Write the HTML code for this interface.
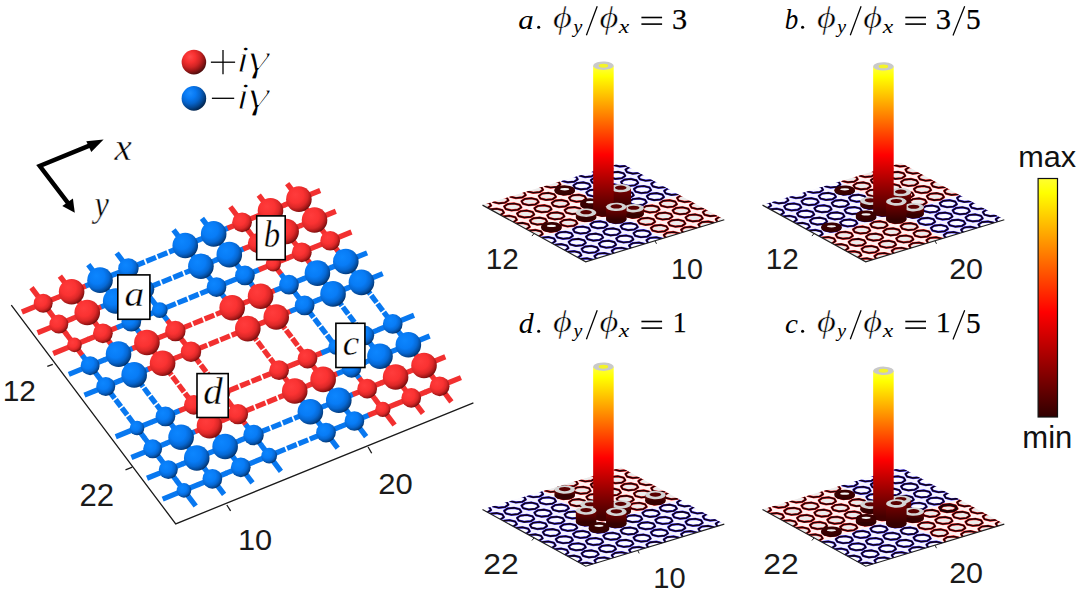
<!DOCTYPE html>
<html><head><meta charset="utf-8"><title>figure</title>
<style>html,body{margin:0;padding:0;background:#fff;}svg{display:block;font-family:"Liberation Sans",sans-serif;}</style>
</head><body><svg width="1077" height="596" viewBox="0 0 1077 596">
<defs>
<radialGradient id="gr" cx="0.38" cy="0.36" r="0.68" fx="0.36" fy="0.33">
<stop offset="0" stop-color="#ff3c3c"/><stop offset="0.45" stop-color="#fa3232"/><stop offset="0.7" stop-color="#dc2828"/><stop offset="0.87" stop-color="#a81818"/><stop offset="1" stop-color="#6a0c0c"/>
</radialGradient>
<radialGradient id="gb" cx="0.38" cy="0.36" r="0.68" fx="0.36" fy="0.33">
<stop offset="0" stop-color="#0c86ff"/><stop offset="0.45" stop-color="#087cf6"/><stop offset="0.7" stop-color="#0668d4"/><stop offset="0.87" stop-color="#044c9e"/><stop offset="1" stop-color="#022e64"/>
</radialGradient>
<radialGradient id="lgr" cx="0.36" cy="0.32" r="0.74" fx="0.34" fy="0.28">
<stop offset="0" stop-color="#ff4a4a"/><stop offset="0.3" stop-color="#f83030"/><stop offset="0.55" stop-color="#d02424"/><stop offset="0.75" stop-color="#981616"/><stop offset="0.9" stop-color="#601010"/><stop offset="1" stop-color="#400808"/>
</radialGradient>
<radialGradient id="lgb" cx="0.36" cy="0.32" r="0.74" fx="0.34" fy="0.28">
<stop offset="0" stop-color="#1a8cff"/><stop offset="0.3" stop-color="#087af4"/><stop offset="0.55" stop-color="#0664cc"/><stop offset="0.75" stop-color="#044894"/><stop offset="0.9" stop-color="#022e60"/><stop offset="1" stop-color="#011c40"/>
</radialGradient>
<linearGradient id="hot" x1="0" y1="0" x2="0" y2="1">
<stop offset="0" stop-color="#ffff40"/><stop offset="0.072" stop-color="#ffff00"/><stop offset="0.607" stop-color="#ff0000"/><stop offset="1" stop-color="#440000"/>
</linearGradient>
<linearGradient id="cbar" x1="0" y1="0" x2="0" y2="1">
<stop offset="0" stop-color="#ffff30"/><stop offset="0.06" stop-color="#ffff00"/><stop offset="0.56" stop-color="#ff0000"/><stop offset="1" stop-color="#300000"/>
</linearGradient>
<linearGradient id="cyl" x1="0" y1="0" x2="0" y2="1">
<stop offset="0" stop-color="#7a0000"/><stop offset="1" stop-color="#350000"/>
</linearGradient>
<linearGradient id="shade" x1="0" y1="0" x2="1" y2="0">
<stop offset="0" stop-color="#000" stop-opacity="0.10"/><stop offset="0.35" stop-color="#fff" stop-opacity="0.06"/><stop offset="1" stop-color="#000" stop-opacity="0.12"/>
</linearGradient>
</defs>

<g stroke-linecap="butt">
<line x1="43.20" y1="303.30" x2="57.69" y2="297.40" stroke="#f23030" stroke-width="5.3"/>
<line x1="43.20" y1="303.30" x2="21.89" y2="311.98" stroke="#f23030" stroke-width="5.3"/>
<line x1="43.20" y1="303.30" x2="51.18" y2="313.90" stroke="#f23030" stroke-width="5.3"/>
<line x1="43.20" y1="303.30" x2="31.47" y2="287.71" stroke="#f23030" stroke-width="5.3"/>
<line x1="71.61" y1="291.73" x2="86.10" y2="285.83" stroke="#f23030" stroke-width="5.3"/>
<line x1="71.61" y1="291.73" x2="57.12" y2="297.63" stroke="#f23030" stroke-width="5.3"/>
<line x1="71.61" y1="291.73" x2="79.59" y2="302.33" stroke="#f23030" stroke-width="5.3"/>
<line x1="71.61" y1="291.73" x2="59.88" y2="276.14" stroke="#f23030" stroke-width="5.3"/>
<line x1="100.02" y1="280.16" x2="114.51" y2="274.26" stroke="#0878f0" stroke-width="5.3"/>
<line x1="100.02" y1="280.16" x2="85.53" y2="286.06" stroke="#0878f0" stroke-width="5.3"/>
<line x1="100.02" y1="280.16" x2="108.00" y2="290.76" stroke="#0878f0" stroke-width="5.3"/>
<line x1="100.02" y1="280.16" x2="88.29" y2="264.57" stroke="#0878f0" stroke-width="5.3"/>
<line x1="128.43" y1="268.59" x2="144.62" y2="262.00" stroke="#0878f0" stroke-width="5.3"/>
<line x1="146.33" y1="261.30" x2="155.99" y2="257.37" stroke="#0878f0" stroke-width="5.3"/>
<line x1="128.43" y1="268.59" x2="113.94" y2="274.49" stroke="#0878f0" stroke-width="5.3"/>
<line x1="128.43" y1="268.59" x2="136.41" y2="279.19" stroke="#0878f0" stroke-width="5.3"/>
<line x1="128.43" y1="268.59" x2="116.70" y2="253.00" stroke="#0878f0" stroke-width="5.3"/>
<line x1="185.25" y1="245.45" x2="199.74" y2="239.55" stroke="#0878f0" stroke-width="5.3"/>
<line x1="185.25" y1="245.45" x2="169.06" y2="252.04" stroke="#0878f0" stroke-width="5.3"/>
<line x1="167.35" y1="252.74" x2="157.69" y2="256.67" stroke="#0878f0" stroke-width="5.3"/>
<line x1="185.25" y1="245.45" x2="193.23" y2="256.05" stroke="#0878f0" stroke-width="5.3"/>
<line x1="185.25" y1="245.45" x2="173.52" y2="229.86" stroke="#0878f0" stroke-width="5.3"/>
<line x1="213.66" y1="233.88" x2="228.15" y2="227.98" stroke="#0878f0" stroke-width="5.3"/>
<line x1="213.66" y1="233.88" x2="199.17" y2="239.78" stroke="#0878f0" stroke-width="5.3"/>
<line x1="213.66" y1="233.88" x2="221.64" y2="244.48" stroke="#0878f0" stroke-width="5.3"/>
<line x1="213.66" y1="233.88" x2="201.93" y2="218.29" stroke="#0878f0" stroke-width="5.3"/>
<line x1="242.07" y1="222.31" x2="256.56" y2="216.41" stroke="#f23030" stroke-width="5.3"/>
<line x1="242.07" y1="222.31" x2="227.58" y2="228.21" stroke="#f23030" stroke-width="5.3"/>
<line x1="242.07" y1="222.31" x2="250.05" y2="232.91" stroke="#f23030" stroke-width="5.3"/>
<line x1="242.07" y1="222.31" x2="230.34" y2="206.72" stroke="#f23030" stroke-width="5.3"/>
<line x1="270.48" y1="210.74" x2="284.97" y2="204.84" stroke="#f23030" stroke-width="5.3"/>
<line x1="270.48" y1="210.74" x2="255.99" y2="216.64" stroke="#f23030" stroke-width="5.3"/>
<line x1="270.48" y1="210.74" x2="278.46" y2="221.34" stroke="#f23030" stroke-width="5.3"/>
<line x1="270.48" y1="210.74" x2="258.75" y2="195.15" stroke="#f23030" stroke-width="5.3"/>
<line x1="298.89" y1="199.17" x2="320.20" y2="190.49" stroke="#f23030" stroke-width="5.3"/>
<line x1="298.89" y1="199.17" x2="284.40" y2="205.07" stroke="#f23030" stroke-width="5.3"/>
<line x1="298.89" y1="199.17" x2="306.87" y2="209.77" stroke="#f23030" stroke-width="5.3"/>
<line x1="298.89" y1="199.17" x2="287.16" y2="183.58" stroke="#f23030" stroke-width="5.3"/>
<line x1="58.84" y1="324.09" x2="73.33" y2="318.19" stroke="#f23030" stroke-width="5.3"/>
<line x1="58.84" y1="324.09" x2="37.53" y2="332.77" stroke="#f23030" stroke-width="5.3"/>
<line x1="58.84" y1="324.09" x2="66.82" y2="334.69" stroke="#f23030" stroke-width="5.3"/>
<line x1="58.84" y1="324.09" x2="50.86" y2="313.49" stroke="#f23030" stroke-width="5.3"/>
<line x1="87.25" y1="312.52" x2="101.74" y2="306.62" stroke="#f23030" stroke-width="5.3"/>
<line x1="87.25" y1="312.52" x2="72.76" y2="318.42" stroke="#f23030" stroke-width="5.3"/>
<line x1="87.25" y1="312.52" x2="95.23" y2="323.12" stroke="#f23030" stroke-width="5.3"/>
<line x1="87.25" y1="312.52" x2="79.27" y2="301.92" stroke="#f23030" stroke-width="5.3"/>
<line x1="115.66" y1="300.95" x2="130.15" y2="295.05" stroke="#0878f0" stroke-width="5.3"/>
<line x1="115.66" y1="300.95" x2="101.17" y2="306.85" stroke="#0878f0" stroke-width="5.3"/>
<line x1="115.66" y1="300.95" x2="123.64" y2="311.55" stroke="#0878f0" stroke-width="5.3"/>
<line x1="115.66" y1="300.95" x2="107.68" y2="290.35" stroke="#0878f0" stroke-width="5.3"/>
<line x1="144.07" y1="289.38" x2="160.26" y2="282.79" stroke="#0878f0" stroke-width="5.3"/>
<line x1="161.97" y1="282.09" x2="171.63" y2="278.16" stroke="#0878f0" stroke-width="5.3"/>
<line x1="144.07" y1="289.38" x2="129.58" y2="295.28" stroke="#0878f0" stroke-width="5.3"/>
<line x1="144.07" y1="289.38" x2="152.05" y2="299.98" stroke="#0878f0" stroke-width="5.3"/>
<line x1="144.07" y1="289.38" x2="136.09" y2="278.78" stroke="#0878f0" stroke-width="5.3"/>
<line x1="200.89" y1="266.24" x2="215.38" y2="260.34" stroke="#0878f0" stroke-width="5.3"/>
<line x1="200.89" y1="266.24" x2="184.70" y2="272.83" stroke="#0878f0" stroke-width="5.3"/>
<line x1="182.99" y1="273.53" x2="173.33" y2="277.46" stroke="#0878f0" stroke-width="5.3"/>
<line x1="200.89" y1="266.24" x2="208.87" y2="276.84" stroke="#0878f0" stroke-width="5.3"/>
<line x1="200.89" y1="266.24" x2="192.91" y2="255.64" stroke="#0878f0" stroke-width="5.3"/>
<line x1="229.30" y1="254.67" x2="243.79" y2="248.77" stroke="#0878f0" stroke-width="5.3"/>
<line x1="229.30" y1="254.67" x2="214.81" y2="260.57" stroke="#0878f0" stroke-width="5.3"/>
<line x1="229.30" y1="254.67" x2="237.28" y2="265.27" stroke="#0878f0" stroke-width="5.3"/>
<line x1="229.30" y1="254.67" x2="221.32" y2="244.07" stroke="#0878f0" stroke-width="5.3"/>
<line x1="257.71" y1="243.10" x2="272.20" y2="237.20" stroke="#f23030" stroke-width="5.3"/>
<line x1="257.71" y1="243.10" x2="243.22" y2="249.00" stroke="#f23030" stroke-width="5.3"/>
<line x1="257.71" y1="243.10" x2="265.69" y2="253.70" stroke="#f23030" stroke-width="5.3"/>
<line x1="257.71" y1="243.10" x2="249.73" y2="232.50" stroke="#f23030" stroke-width="5.3"/>
<line x1="286.12" y1="231.53" x2="300.61" y2="225.63" stroke="#f23030" stroke-width="5.3"/>
<line x1="286.12" y1="231.53" x2="271.63" y2="237.43" stroke="#f23030" stroke-width="5.3"/>
<line x1="286.12" y1="231.53" x2="294.10" y2="242.13" stroke="#f23030" stroke-width="5.3"/>
<line x1="286.12" y1="231.53" x2="278.14" y2="220.93" stroke="#f23030" stroke-width="5.3"/>
<line x1="314.53" y1="219.96" x2="335.84" y2="211.28" stroke="#f23030" stroke-width="5.3"/>
<line x1="314.53" y1="219.96" x2="300.04" y2="225.86" stroke="#f23030" stroke-width="5.3"/>
<line x1="314.53" y1="219.96" x2="322.51" y2="230.56" stroke="#f23030" stroke-width="5.3"/>
<line x1="314.53" y1="219.96" x2="306.55" y2="209.36" stroke="#f23030" stroke-width="5.3"/>
<line x1="74.48" y1="344.88" x2="88.97" y2="338.98" stroke="#f23030" stroke-width="5.3"/>
<line x1="74.48" y1="344.88" x2="53.17" y2="353.56" stroke="#f23030" stroke-width="5.3"/>
<line x1="74.48" y1="344.88" x2="82.46" y2="355.48" stroke="#f23030" stroke-width="5.3"/>
<line x1="74.48" y1="344.88" x2="66.50" y2="334.28" stroke="#f23030" stroke-width="5.3"/>
<line x1="102.89" y1="333.31" x2="117.38" y2="327.41" stroke="#f23030" stroke-width="5.3"/>
<line x1="102.89" y1="333.31" x2="88.40" y2="339.21" stroke="#f23030" stroke-width="5.3"/>
<line x1="102.89" y1="333.31" x2="110.87" y2="343.91" stroke="#f23030" stroke-width="5.3"/>
<line x1="102.89" y1="333.31" x2="94.91" y2="322.71" stroke="#f23030" stroke-width="5.3"/>
<line x1="131.30" y1="321.74" x2="145.79" y2="315.84" stroke="#0878f0" stroke-width="5.3"/>
<line x1="131.30" y1="321.74" x2="116.81" y2="327.64" stroke="#0878f0" stroke-width="5.3"/>
<line x1="131.30" y1="321.74" x2="139.28" y2="332.34" stroke="#0878f0" stroke-width="5.3"/>
<line x1="131.30" y1="321.74" x2="123.32" y2="311.14" stroke="#0878f0" stroke-width="5.3"/>
<line x1="159.71" y1="310.17" x2="175.90" y2="303.58" stroke="#0878f0" stroke-width="5.3"/>
<line x1="177.61" y1="302.88" x2="187.27" y2="298.95" stroke="#0878f0" stroke-width="5.3"/>
<line x1="159.71" y1="310.17" x2="145.22" y2="316.07" stroke="#0878f0" stroke-width="5.3"/>
<line x1="159.71" y1="310.17" x2="167.69" y2="320.77" stroke="#0878f0" stroke-width="5.3"/>
<line x1="159.71" y1="310.17" x2="151.73" y2="299.57" stroke="#0878f0" stroke-width="5.3"/>
<line x1="216.53" y1="287.03" x2="231.02" y2="281.13" stroke="#0878f0" stroke-width="5.3"/>
<line x1="216.53" y1="287.03" x2="200.34" y2="293.62" stroke="#0878f0" stroke-width="5.3"/>
<line x1="198.63" y1="294.32" x2="188.97" y2="298.25" stroke="#0878f0" stroke-width="5.3"/>
<line x1="216.53" y1="287.03" x2="224.51" y2="297.63" stroke="#0878f0" stroke-width="5.3"/>
<line x1="216.53" y1="287.03" x2="208.55" y2="276.43" stroke="#0878f0" stroke-width="5.3"/>
<line x1="244.94" y1="275.46" x2="259.43" y2="269.56" stroke="#0878f0" stroke-width="5.3"/>
<line x1="244.94" y1="275.46" x2="230.45" y2="281.36" stroke="#0878f0" stroke-width="5.3"/>
<line x1="244.94" y1="275.46" x2="252.92" y2="286.06" stroke="#0878f0" stroke-width="5.3"/>
<line x1="244.94" y1="275.46" x2="236.96" y2="264.86" stroke="#0878f0" stroke-width="5.3"/>
<line x1="273.35" y1="263.89" x2="287.84" y2="257.99" stroke="#f23030" stroke-width="5.3"/>
<line x1="273.35" y1="263.89" x2="258.86" y2="269.79" stroke="#f23030" stroke-width="5.3"/>
<line x1="273.35" y1="263.89" x2="281.33" y2="274.49" stroke="#f23030" stroke-width="5.3"/>
<line x1="273.35" y1="263.89" x2="265.37" y2="253.29" stroke="#f23030" stroke-width="5.3"/>
<line x1="301.76" y1="252.32" x2="316.25" y2="246.42" stroke="#f23030" stroke-width="5.3"/>
<line x1="301.76" y1="252.32" x2="287.27" y2="258.22" stroke="#f23030" stroke-width="5.3"/>
<line x1="301.76" y1="252.32" x2="309.74" y2="262.92" stroke="#f23030" stroke-width="5.3"/>
<line x1="301.76" y1="252.32" x2="293.78" y2="241.72" stroke="#f23030" stroke-width="5.3"/>
<line x1="330.17" y1="240.75" x2="351.48" y2="232.07" stroke="#f23030" stroke-width="5.3"/>
<line x1="330.17" y1="240.75" x2="315.68" y2="246.65" stroke="#f23030" stroke-width="5.3"/>
<line x1="330.17" y1="240.75" x2="338.15" y2="251.35" stroke="#f23030" stroke-width="5.3"/>
<line x1="330.17" y1="240.75" x2="322.19" y2="230.15" stroke="#f23030" stroke-width="5.3"/>
<line x1="90.12" y1="365.67" x2="104.61" y2="359.77" stroke="#0878f0" stroke-width="5.3"/>
<line x1="90.12" y1="365.67" x2="68.81" y2="374.35" stroke="#0878f0" stroke-width="5.3"/>
<line x1="90.12" y1="365.67" x2="98.10" y2="376.27" stroke="#0878f0" stroke-width="5.3"/>
<line x1="90.12" y1="365.67" x2="82.14" y2="355.07" stroke="#0878f0" stroke-width="5.3"/>
<line x1="118.53" y1="354.10" x2="133.02" y2="348.20" stroke="#0878f0" stroke-width="5.3"/>
<line x1="118.53" y1="354.10" x2="104.04" y2="360.00" stroke="#0878f0" stroke-width="5.3"/>
<line x1="118.53" y1="354.10" x2="126.51" y2="364.70" stroke="#0878f0" stroke-width="5.3"/>
<line x1="118.53" y1="354.10" x2="110.55" y2="343.50" stroke="#0878f0" stroke-width="5.3"/>
<line x1="146.94" y1="342.53" x2="161.43" y2="336.63" stroke="#f23030" stroke-width="5.3"/>
<line x1="146.94" y1="342.53" x2="132.45" y2="348.43" stroke="#f23030" stroke-width="5.3"/>
<line x1="146.94" y1="342.53" x2="154.92" y2="353.13" stroke="#f23030" stroke-width="5.3"/>
<line x1="146.94" y1="342.53" x2="138.96" y2="331.93" stroke="#f23030" stroke-width="5.3"/>
<line x1="175.35" y1="330.96" x2="191.54" y2="324.37" stroke="#f23030" stroke-width="5.3"/>
<line x1="193.25" y1="323.67" x2="202.91" y2="319.74" stroke="#f23030" stroke-width="5.3"/>
<line x1="175.35" y1="330.96" x2="160.86" y2="336.86" stroke="#f23030" stroke-width="5.3"/>
<line x1="175.35" y1="330.96" x2="183.33" y2="341.56" stroke="#f23030" stroke-width="5.3"/>
<line x1="175.35" y1="330.96" x2="167.37" y2="320.36" stroke="#f23030" stroke-width="5.3"/>
<line x1="232.17" y1="307.82" x2="246.66" y2="301.92" stroke="#f23030" stroke-width="5.3"/>
<line x1="232.17" y1="307.82" x2="215.98" y2="314.41" stroke="#f23030" stroke-width="5.3"/>
<line x1="214.27" y1="315.11" x2="204.61" y2="319.04" stroke="#f23030" stroke-width="5.3"/>
<line x1="232.17" y1="307.82" x2="240.15" y2="318.42" stroke="#f23030" stroke-width="5.3"/>
<line x1="232.17" y1="307.82" x2="224.19" y2="297.22" stroke="#f23030" stroke-width="5.3"/>
<line x1="260.58" y1="296.25" x2="275.07" y2="290.35" stroke="#f23030" stroke-width="5.3"/>
<line x1="260.58" y1="296.25" x2="246.09" y2="302.15" stroke="#f23030" stroke-width="5.3"/>
<line x1="260.58" y1="296.25" x2="268.56" y2="306.85" stroke="#f23030" stroke-width="5.3"/>
<line x1="260.58" y1="296.25" x2="252.60" y2="285.65" stroke="#f23030" stroke-width="5.3"/>
<line x1="288.99" y1="284.68" x2="303.48" y2="278.78" stroke="#0878f0" stroke-width="5.3"/>
<line x1="288.99" y1="284.68" x2="274.50" y2="290.58" stroke="#0878f0" stroke-width="5.3"/>
<line x1="288.99" y1="284.68" x2="296.97" y2="295.28" stroke="#0878f0" stroke-width="5.3"/>
<line x1="288.99" y1="284.68" x2="281.01" y2="274.08" stroke="#0878f0" stroke-width="5.3"/>
<line x1="317.40" y1="273.11" x2="331.89" y2="267.21" stroke="#0878f0" stroke-width="5.3"/>
<line x1="317.40" y1="273.11" x2="302.91" y2="279.01" stroke="#0878f0" stroke-width="5.3"/>
<line x1="317.40" y1="273.11" x2="325.38" y2="283.71" stroke="#0878f0" stroke-width="5.3"/>
<line x1="317.40" y1="273.11" x2="309.42" y2="262.51" stroke="#0878f0" stroke-width="5.3"/>
<line x1="345.81" y1="261.54" x2="367.12" y2="252.86" stroke="#0878f0" stroke-width="5.3"/>
<line x1="345.81" y1="261.54" x2="331.32" y2="267.44" stroke="#0878f0" stroke-width="5.3"/>
<line x1="345.81" y1="261.54" x2="353.79" y2="272.14" stroke="#0878f0" stroke-width="5.3"/>
<line x1="345.81" y1="261.54" x2="337.83" y2="250.94" stroke="#0878f0" stroke-width="5.3"/>
<line x1="105.76" y1="386.46" x2="120.25" y2="380.56" stroke="#0878f0" stroke-width="5.3"/>
<line x1="105.76" y1="386.46" x2="84.45" y2="395.14" stroke="#0878f0" stroke-width="5.3"/>
<line x1="105.76" y1="386.46" x2="114.67" y2="398.31" stroke="#0878f0" stroke-width="5.3"/>
<line x1="115.61" y1="399.56" x2="120.93" y2="406.63" stroke="#0878f0" stroke-width="5.3"/>
<line x1="105.76" y1="386.46" x2="97.78" y2="375.86" stroke="#0878f0" stroke-width="5.3"/>
<line x1="134.17" y1="374.89" x2="148.66" y2="368.99" stroke="#0878f0" stroke-width="5.3"/>
<line x1="134.17" y1="374.89" x2="119.68" y2="380.79" stroke="#0878f0" stroke-width="5.3"/>
<line x1="134.17" y1="374.89" x2="143.08" y2="386.74" stroke="#0878f0" stroke-width="5.3"/>
<line x1="144.02" y1="387.99" x2="149.34" y2="395.06" stroke="#0878f0" stroke-width="5.3"/>
<line x1="134.17" y1="374.89" x2="126.19" y2="364.29" stroke="#0878f0" stroke-width="5.3"/>
<line x1="162.58" y1="363.32" x2="177.07" y2="357.42" stroke="#f23030" stroke-width="5.3"/>
<line x1="162.58" y1="363.32" x2="148.09" y2="369.22" stroke="#f23030" stroke-width="5.3"/>
<line x1="162.58" y1="363.32" x2="171.49" y2="375.17" stroke="#f23030" stroke-width="5.3"/>
<line x1="172.43" y1="376.42" x2="177.75" y2="383.49" stroke="#f23030" stroke-width="5.3"/>
<line x1="162.58" y1="363.32" x2="154.60" y2="352.72" stroke="#f23030" stroke-width="5.3"/>
<line x1="190.99" y1="351.75" x2="207.18" y2="345.16" stroke="#f23030" stroke-width="5.3"/>
<line x1="208.89" y1="344.46" x2="218.55" y2="340.53" stroke="#f23030" stroke-width="5.3"/>
<line x1="190.99" y1="351.75" x2="176.50" y2="357.65" stroke="#f23030" stroke-width="5.3"/>
<line x1="190.99" y1="351.75" x2="199.90" y2="363.60" stroke="#f23030" stroke-width="5.3"/>
<line x1="200.84" y1="364.85" x2="206.16" y2="371.92" stroke="#f23030" stroke-width="5.3"/>
<line x1="190.99" y1="351.75" x2="183.01" y2="341.15" stroke="#f23030" stroke-width="5.3"/>
<line x1="247.81" y1="328.61" x2="262.30" y2="322.71" stroke="#f23030" stroke-width="5.3"/>
<line x1="247.81" y1="328.61" x2="231.62" y2="335.20" stroke="#f23030" stroke-width="5.3"/>
<line x1="229.91" y1="335.90" x2="220.25" y2="339.83" stroke="#f23030" stroke-width="5.3"/>
<line x1="247.81" y1="328.61" x2="256.72" y2="340.46" stroke="#f23030" stroke-width="5.3"/>
<line x1="257.66" y1="341.71" x2="262.98" y2="348.78" stroke="#f23030" stroke-width="5.3"/>
<line x1="247.81" y1="328.61" x2="239.83" y2="318.01" stroke="#f23030" stroke-width="5.3"/>
<line x1="276.22" y1="317.04" x2="290.71" y2="311.14" stroke="#f23030" stroke-width="5.3"/>
<line x1="276.22" y1="317.04" x2="261.73" y2="322.94" stroke="#f23030" stroke-width="5.3"/>
<line x1="276.22" y1="317.04" x2="285.13" y2="328.89" stroke="#f23030" stroke-width="5.3"/>
<line x1="286.07" y1="330.14" x2="291.39" y2="337.21" stroke="#f23030" stroke-width="5.3"/>
<line x1="276.22" y1="317.04" x2="268.24" y2="306.44" stroke="#f23030" stroke-width="5.3"/>
<line x1="304.63" y1="305.47" x2="319.12" y2="299.57" stroke="#0878f0" stroke-width="5.3"/>
<line x1="304.63" y1="305.47" x2="290.14" y2="311.37" stroke="#0878f0" stroke-width="5.3"/>
<line x1="304.63" y1="305.47" x2="313.54" y2="317.32" stroke="#0878f0" stroke-width="5.3"/>
<line x1="314.48" y1="318.57" x2="319.80" y2="325.64" stroke="#0878f0" stroke-width="5.3"/>
<line x1="304.63" y1="305.47" x2="296.65" y2="294.87" stroke="#0878f0" stroke-width="5.3"/>
<line x1="333.04" y1="293.90" x2="347.53" y2="288.00" stroke="#0878f0" stroke-width="5.3"/>
<line x1="333.04" y1="293.90" x2="318.55" y2="299.80" stroke="#0878f0" stroke-width="5.3"/>
<line x1="333.04" y1="293.90" x2="341.95" y2="305.75" stroke="#0878f0" stroke-width="5.3"/>
<line x1="342.89" y1="307.00" x2="348.21" y2="314.07" stroke="#0878f0" stroke-width="5.3"/>
<line x1="333.04" y1="293.90" x2="325.06" y2="283.30" stroke="#0878f0" stroke-width="5.3"/>
<line x1="361.45" y1="282.33" x2="382.76" y2="273.65" stroke="#0878f0" stroke-width="5.3"/>
<line x1="361.45" y1="282.33" x2="346.96" y2="288.23" stroke="#0878f0" stroke-width="5.3"/>
<line x1="361.45" y1="282.33" x2="370.36" y2="294.18" stroke="#0878f0" stroke-width="5.3"/>
<line x1="371.30" y1="295.43" x2="376.62" y2="302.50" stroke="#0878f0" stroke-width="5.3"/>
<line x1="361.45" y1="282.33" x2="353.47" y2="271.73" stroke="#0878f0" stroke-width="5.3"/>
<line x1="137.04" y1="428.04" x2="151.53" y2="422.14" stroke="#0878f0" stroke-width="5.3"/>
<line x1="137.04" y1="428.04" x2="115.73" y2="436.72" stroke="#0878f0" stroke-width="5.3"/>
<line x1="137.04" y1="428.04" x2="145.02" y2="438.64" stroke="#0878f0" stroke-width="5.3"/>
<line x1="137.04" y1="428.04" x2="128.13" y2="416.19" stroke="#0878f0" stroke-width="5.3"/>
<line x1="127.19" y1="414.94" x2="121.87" y2="407.87" stroke="#0878f0" stroke-width="5.3"/>
<line x1="165.45" y1="416.47" x2="179.94" y2="410.57" stroke="#0878f0" stroke-width="5.3"/>
<line x1="165.45" y1="416.47" x2="150.96" y2="422.37" stroke="#0878f0" stroke-width="5.3"/>
<line x1="165.45" y1="416.47" x2="173.43" y2="427.07" stroke="#0878f0" stroke-width="5.3"/>
<line x1="165.45" y1="416.47" x2="156.54" y2="404.62" stroke="#0878f0" stroke-width="5.3"/>
<line x1="155.60" y1="403.37" x2="150.28" y2="396.30" stroke="#0878f0" stroke-width="5.3"/>
<line x1="193.86" y1="404.90" x2="208.35" y2="399.00" stroke="#f23030" stroke-width="5.3"/>
<line x1="193.86" y1="404.90" x2="179.37" y2="410.80" stroke="#f23030" stroke-width="5.3"/>
<line x1="193.86" y1="404.90" x2="201.84" y2="415.50" stroke="#f23030" stroke-width="5.3"/>
<line x1="193.86" y1="404.90" x2="184.95" y2="393.05" stroke="#f23030" stroke-width="5.3"/>
<line x1="184.01" y1="391.80" x2="178.69" y2="384.73" stroke="#f23030" stroke-width="5.3"/>
<line x1="222.27" y1="393.33" x2="238.46" y2="386.74" stroke="#f23030" stroke-width="5.3"/>
<line x1="240.17" y1="386.04" x2="249.83" y2="382.11" stroke="#f23030" stroke-width="5.3"/>
<line x1="222.27" y1="393.33" x2="207.78" y2="399.23" stroke="#f23030" stroke-width="5.3"/>
<line x1="222.27" y1="393.33" x2="230.25" y2="403.93" stroke="#f23030" stroke-width="5.3"/>
<line x1="222.27" y1="393.33" x2="213.36" y2="381.48" stroke="#f23030" stroke-width="5.3"/>
<line x1="212.42" y1="380.23" x2="207.10" y2="373.16" stroke="#f23030" stroke-width="5.3"/>
<line x1="279.09" y1="370.19" x2="293.58" y2="364.29" stroke="#f23030" stroke-width="5.3"/>
<line x1="279.09" y1="370.19" x2="262.90" y2="376.78" stroke="#f23030" stroke-width="5.3"/>
<line x1="261.19" y1="377.48" x2="251.53" y2="381.41" stroke="#f23030" stroke-width="5.3"/>
<line x1="279.09" y1="370.19" x2="287.07" y2="380.79" stroke="#f23030" stroke-width="5.3"/>
<line x1="279.09" y1="370.19" x2="270.18" y2="358.34" stroke="#f23030" stroke-width="5.3"/>
<line x1="269.24" y1="357.09" x2="263.92" y2="350.02" stroke="#f23030" stroke-width="5.3"/>
<line x1="307.50" y1="358.62" x2="321.99" y2="352.72" stroke="#f23030" stroke-width="5.3"/>
<line x1="307.50" y1="358.62" x2="293.01" y2="364.52" stroke="#f23030" stroke-width="5.3"/>
<line x1="307.50" y1="358.62" x2="315.48" y2="369.22" stroke="#f23030" stroke-width="5.3"/>
<line x1="307.50" y1="358.62" x2="298.59" y2="346.77" stroke="#f23030" stroke-width="5.3"/>
<line x1="297.65" y1="345.52" x2="292.33" y2="338.45" stroke="#f23030" stroke-width="5.3"/>
<line x1="335.91" y1="347.05" x2="350.40" y2="341.15" stroke="#0878f0" stroke-width="5.3"/>
<line x1="335.91" y1="347.05" x2="321.42" y2="352.95" stroke="#0878f0" stroke-width="5.3"/>
<line x1="335.91" y1="347.05" x2="343.89" y2="357.65" stroke="#0878f0" stroke-width="5.3"/>
<line x1="335.91" y1="347.05" x2="327.00" y2="335.20" stroke="#0878f0" stroke-width="5.3"/>
<line x1="326.06" y1="333.95" x2="320.74" y2="326.88" stroke="#0878f0" stroke-width="5.3"/>
<line x1="364.32" y1="335.48" x2="378.81" y2="329.58" stroke="#0878f0" stroke-width="5.3"/>
<line x1="364.32" y1="335.48" x2="349.83" y2="341.38" stroke="#0878f0" stroke-width="5.3"/>
<line x1="364.32" y1="335.48" x2="372.30" y2="346.08" stroke="#0878f0" stroke-width="5.3"/>
<line x1="364.32" y1="335.48" x2="355.41" y2="323.63" stroke="#0878f0" stroke-width="5.3"/>
<line x1="354.47" y1="322.38" x2="349.15" y2="315.31" stroke="#0878f0" stroke-width="5.3"/>
<line x1="392.73" y1="323.91" x2="414.04" y2="315.23" stroke="#0878f0" stroke-width="5.3"/>
<line x1="392.73" y1="323.91" x2="378.24" y2="329.81" stroke="#0878f0" stroke-width="5.3"/>
<line x1="392.73" y1="323.91" x2="400.71" y2="334.51" stroke="#0878f0" stroke-width="5.3"/>
<line x1="392.73" y1="323.91" x2="383.82" y2="312.06" stroke="#0878f0" stroke-width="5.3"/>
<line x1="382.88" y1="310.81" x2="377.56" y2="303.74" stroke="#0878f0" stroke-width="5.3"/>
<line x1="152.68" y1="448.83" x2="167.17" y2="442.93" stroke="#0878f0" stroke-width="5.3"/>
<line x1="152.68" y1="448.83" x2="131.37" y2="457.51" stroke="#0878f0" stroke-width="5.3"/>
<line x1="152.68" y1="448.83" x2="160.66" y2="459.43" stroke="#0878f0" stroke-width="5.3"/>
<line x1="152.68" y1="448.83" x2="144.70" y2="438.23" stroke="#0878f0" stroke-width="5.3"/>
<line x1="181.09" y1="437.26" x2="195.58" y2="431.36" stroke="#0878f0" stroke-width="5.3"/>
<line x1="181.09" y1="437.26" x2="166.60" y2="443.16" stroke="#0878f0" stroke-width="5.3"/>
<line x1="181.09" y1="437.26" x2="189.07" y2="447.86" stroke="#0878f0" stroke-width="5.3"/>
<line x1="181.09" y1="437.26" x2="173.11" y2="426.66" stroke="#0878f0" stroke-width="5.3"/>
<line x1="209.50" y1="425.69" x2="223.99" y2="419.79" stroke="#f23030" stroke-width="5.3"/>
<line x1="209.50" y1="425.69" x2="195.01" y2="431.59" stroke="#f23030" stroke-width="5.3"/>
<line x1="209.50" y1="425.69" x2="217.48" y2="436.29" stroke="#f23030" stroke-width="5.3"/>
<line x1="209.50" y1="425.69" x2="201.52" y2="415.09" stroke="#f23030" stroke-width="5.3"/>
<line x1="237.91" y1="414.12" x2="254.10" y2="407.53" stroke="#f23030" stroke-width="5.3"/>
<line x1="255.81" y1="406.83" x2="265.47" y2="402.90" stroke="#f23030" stroke-width="5.3"/>
<line x1="237.91" y1="414.12" x2="223.42" y2="420.02" stroke="#f23030" stroke-width="5.3"/>
<line x1="237.91" y1="414.12" x2="245.89" y2="424.72" stroke="#f23030" stroke-width="5.3"/>
<line x1="237.91" y1="414.12" x2="229.93" y2="403.52" stroke="#f23030" stroke-width="5.3"/>
<line x1="294.73" y1="390.98" x2="309.22" y2="385.08" stroke="#f23030" stroke-width="5.3"/>
<line x1="294.73" y1="390.98" x2="278.54" y2="397.57" stroke="#f23030" stroke-width="5.3"/>
<line x1="276.83" y1="398.27" x2="267.17" y2="402.20" stroke="#f23030" stroke-width="5.3"/>
<line x1="294.73" y1="390.98" x2="302.71" y2="401.58" stroke="#f23030" stroke-width="5.3"/>
<line x1="294.73" y1="390.98" x2="286.75" y2="380.38" stroke="#f23030" stroke-width="5.3"/>
<line x1="323.14" y1="379.41" x2="337.63" y2="373.51" stroke="#f23030" stroke-width="5.3"/>
<line x1="323.14" y1="379.41" x2="308.65" y2="385.31" stroke="#f23030" stroke-width="5.3"/>
<line x1="323.14" y1="379.41" x2="331.12" y2="390.01" stroke="#f23030" stroke-width="5.3"/>
<line x1="323.14" y1="379.41" x2="315.16" y2="368.81" stroke="#f23030" stroke-width="5.3"/>
<line x1="351.55" y1="367.84" x2="366.04" y2="361.94" stroke="#0878f0" stroke-width="5.3"/>
<line x1="351.55" y1="367.84" x2="337.06" y2="373.74" stroke="#0878f0" stroke-width="5.3"/>
<line x1="351.55" y1="367.84" x2="359.53" y2="378.44" stroke="#0878f0" stroke-width="5.3"/>
<line x1="351.55" y1="367.84" x2="343.57" y2="357.24" stroke="#0878f0" stroke-width="5.3"/>
<line x1="379.96" y1="356.27" x2="394.45" y2="350.37" stroke="#0878f0" stroke-width="5.3"/>
<line x1="379.96" y1="356.27" x2="365.47" y2="362.17" stroke="#0878f0" stroke-width="5.3"/>
<line x1="379.96" y1="356.27" x2="387.94" y2="366.87" stroke="#0878f0" stroke-width="5.3"/>
<line x1="379.96" y1="356.27" x2="371.98" y2="345.67" stroke="#0878f0" stroke-width="5.3"/>
<line x1="408.37" y1="344.70" x2="429.68" y2="336.02" stroke="#0878f0" stroke-width="5.3"/>
<line x1="408.37" y1="344.70" x2="393.88" y2="350.60" stroke="#0878f0" stroke-width="5.3"/>
<line x1="408.37" y1="344.70" x2="416.35" y2="355.30" stroke="#0878f0" stroke-width="5.3"/>
<line x1="408.37" y1="344.70" x2="400.39" y2="334.10" stroke="#0878f0" stroke-width="5.3"/>
<line x1="168.32" y1="469.62" x2="182.81" y2="463.72" stroke="#0878f0" stroke-width="5.3"/>
<line x1="168.32" y1="469.62" x2="147.01" y2="478.30" stroke="#0878f0" stroke-width="5.3"/>
<line x1="168.32" y1="469.62" x2="176.30" y2="480.22" stroke="#0878f0" stroke-width="5.3"/>
<line x1="168.32" y1="469.62" x2="160.34" y2="459.02" stroke="#0878f0" stroke-width="5.3"/>
<line x1="196.73" y1="458.05" x2="211.22" y2="452.15" stroke="#0878f0" stroke-width="5.3"/>
<line x1="196.73" y1="458.05" x2="182.24" y2="463.95" stroke="#0878f0" stroke-width="5.3"/>
<line x1="196.73" y1="458.05" x2="204.71" y2="468.65" stroke="#0878f0" stroke-width="5.3"/>
<line x1="196.73" y1="458.05" x2="188.75" y2="447.45" stroke="#0878f0" stroke-width="5.3"/>
<line x1="225.14" y1="446.48" x2="239.63" y2="440.58" stroke="#0878f0" stroke-width="5.3"/>
<line x1="225.14" y1="446.48" x2="210.65" y2="452.38" stroke="#0878f0" stroke-width="5.3"/>
<line x1="225.14" y1="446.48" x2="233.12" y2="457.08" stroke="#0878f0" stroke-width="5.3"/>
<line x1="225.14" y1="446.48" x2="217.16" y2="435.88" stroke="#0878f0" stroke-width="5.3"/>
<line x1="253.55" y1="434.91" x2="269.74" y2="428.32" stroke="#0878f0" stroke-width="5.3"/>
<line x1="271.45" y1="427.62" x2="281.11" y2="423.69" stroke="#0878f0" stroke-width="5.3"/>
<line x1="253.55" y1="434.91" x2="239.06" y2="440.81" stroke="#0878f0" stroke-width="5.3"/>
<line x1="253.55" y1="434.91" x2="261.53" y2="445.51" stroke="#0878f0" stroke-width="5.3"/>
<line x1="253.55" y1="434.91" x2="245.57" y2="424.31" stroke="#0878f0" stroke-width="5.3"/>
<line x1="310.37" y1="411.77" x2="324.86" y2="405.87" stroke="#0878f0" stroke-width="5.3"/>
<line x1="310.37" y1="411.77" x2="294.18" y2="418.36" stroke="#0878f0" stroke-width="5.3"/>
<line x1="292.47" y1="419.06" x2="282.81" y2="422.99" stroke="#0878f0" stroke-width="5.3"/>
<line x1="310.37" y1="411.77" x2="318.35" y2="422.37" stroke="#0878f0" stroke-width="5.3"/>
<line x1="310.37" y1="411.77" x2="302.39" y2="401.17" stroke="#0878f0" stroke-width="5.3"/>
<line x1="338.78" y1="400.20" x2="353.27" y2="394.30" stroke="#0878f0" stroke-width="5.3"/>
<line x1="338.78" y1="400.20" x2="324.29" y2="406.10" stroke="#0878f0" stroke-width="5.3"/>
<line x1="338.78" y1="400.20" x2="346.76" y2="410.80" stroke="#0878f0" stroke-width="5.3"/>
<line x1="338.78" y1="400.20" x2="330.80" y2="389.60" stroke="#0878f0" stroke-width="5.3"/>
<line x1="367.19" y1="388.63" x2="381.68" y2="382.73" stroke="#f23030" stroke-width="5.3"/>
<line x1="367.19" y1="388.63" x2="352.70" y2="394.53" stroke="#f23030" stroke-width="5.3"/>
<line x1="367.19" y1="388.63" x2="375.17" y2="399.23" stroke="#f23030" stroke-width="5.3"/>
<line x1="367.19" y1="388.63" x2="359.21" y2="378.03" stroke="#f23030" stroke-width="5.3"/>
<line x1="395.60" y1="377.06" x2="410.09" y2="371.16" stroke="#f23030" stroke-width="5.3"/>
<line x1="395.60" y1="377.06" x2="381.11" y2="382.96" stroke="#f23030" stroke-width="5.3"/>
<line x1="395.60" y1="377.06" x2="403.58" y2="387.66" stroke="#f23030" stroke-width="5.3"/>
<line x1="395.60" y1="377.06" x2="387.62" y2="366.46" stroke="#f23030" stroke-width="5.3"/>
<line x1="424.01" y1="365.49" x2="445.32" y2="356.81" stroke="#f23030" stroke-width="5.3"/>
<line x1="424.01" y1="365.49" x2="409.52" y2="371.39" stroke="#f23030" stroke-width="5.3"/>
<line x1="424.01" y1="365.49" x2="431.99" y2="376.09" stroke="#f23030" stroke-width="5.3"/>
<line x1="424.01" y1="365.49" x2="416.03" y2="354.89" stroke="#f23030" stroke-width="5.3"/>
<line x1="183.96" y1="490.41" x2="198.45" y2="484.51" stroke="#0878f0" stroke-width="5.3"/>
<line x1="183.96" y1="490.41" x2="162.65" y2="499.09" stroke="#0878f0" stroke-width="5.3"/>
<line x1="183.96" y1="490.41" x2="195.69" y2="506.00" stroke="#0878f0" stroke-width="5.3"/>
<line x1="183.96" y1="490.41" x2="175.98" y2="479.81" stroke="#0878f0" stroke-width="5.3"/>
<line x1="212.37" y1="478.84" x2="226.86" y2="472.94" stroke="#0878f0" stroke-width="5.3"/>
<line x1="212.37" y1="478.84" x2="197.88" y2="484.74" stroke="#0878f0" stroke-width="5.3"/>
<line x1="212.37" y1="478.84" x2="224.10" y2="494.43" stroke="#0878f0" stroke-width="5.3"/>
<line x1="212.37" y1="478.84" x2="204.39" y2="468.24" stroke="#0878f0" stroke-width="5.3"/>
<line x1="240.78" y1="467.27" x2="255.27" y2="461.37" stroke="#0878f0" stroke-width="5.3"/>
<line x1="240.78" y1="467.27" x2="226.29" y2="473.17" stroke="#0878f0" stroke-width="5.3"/>
<line x1="240.78" y1="467.27" x2="252.51" y2="482.86" stroke="#0878f0" stroke-width="5.3"/>
<line x1="240.78" y1="467.27" x2="232.80" y2="456.67" stroke="#0878f0" stroke-width="5.3"/>
<line x1="269.19" y1="455.70" x2="285.38" y2="449.11" stroke="#0878f0" stroke-width="5.3"/>
<line x1="287.09" y1="448.41" x2="296.75" y2="444.48" stroke="#0878f0" stroke-width="5.3"/>
<line x1="269.19" y1="455.70" x2="254.70" y2="461.60" stroke="#0878f0" stroke-width="5.3"/>
<line x1="269.19" y1="455.70" x2="280.92" y2="471.29" stroke="#0878f0" stroke-width="5.3"/>
<line x1="269.19" y1="455.70" x2="261.21" y2="445.10" stroke="#0878f0" stroke-width="5.3"/>
<line x1="326.01" y1="432.56" x2="340.50" y2="426.66" stroke="#0878f0" stroke-width="5.3"/>
<line x1="326.01" y1="432.56" x2="309.82" y2="439.15" stroke="#0878f0" stroke-width="5.3"/>
<line x1="308.11" y1="439.85" x2="298.45" y2="443.78" stroke="#0878f0" stroke-width="5.3"/>
<line x1="326.01" y1="432.56" x2="337.74" y2="448.15" stroke="#0878f0" stroke-width="5.3"/>
<line x1="326.01" y1="432.56" x2="318.03" y2="421.96" stroke="#0878f0" stroke-width="5.3"/>
<line x1="354.42" y1="420.99" x2="368.91" y2="415.09" stroke="#0878f0" stroke-width="5.3"/>
<line x1="354.42" y1="420.99" x2="339.93" y2="426.89" stroke="#0878f0" stroke-width="5.3"/>
<line x1="354.42" y1="420.99" x2="366.15" y2="436.58" stroke="#0878f0" stroke-width="5.3"/>
<line x1="354.42" y1="420.99" x2="346.44" y2="410.39" stroke="#0878f0" stroke-width="5.3"/>
<line x1="382.83" y1="409.42" x2="397.32" y2="403.52" stroke="#f23030" stroke-width="5.3"/>
<line x1="382.83" y1="409.42" x2="368.34" y2="415.32" stroke="#f23030" stroke-width="5.3"/>
<line x1="382.83" y1="409.42" x2="394.56" y2="425.01" stroke="#f23030" stroke-width="5.3"/>
<line x1="382.83" y1="409.42" x2="374.85" y2="398.82" stroke="#f23030" stroke-width="5.3"/>
<line x1="411.24" y1="397.85" x2="425.73" y2="391.95" stroke="#f23030" stroke-width="5.3"/>
<line x1="411.24" y1="397.85" x2="396.75" y2="403.75" stroke="#f23030" stroke-width="5.3"/>
<line x1="411.24" y1="397.85" x2="422.97" y2="413.44" stroke="#f23030" stroke-width="5.3"/>
<line x1="411.24" y1="397.85" x2="403.26" y2="387.25" stroke="#f23030" stroke-width="5.3"/>
<line x1="439.65" y1="386.28" x2="460.96" y2="377.60" stroke="#f23030" stroke-width="5.3"/>
<line x1="439.65" y1="386.28" x2="425.16" y2="392.18" stroke="#f23030" stroke-width="5.3"/>
<line x1="439.65" y1="386.28" x2="451.38" y2="401.87" stroke="#f23030" stroke-width="5.3"/>
<line x1="439.65" y1="386.28" x2="431.67" y2="375.68" stroke="#f23030" stroke-width="5.3"/>
</g>
<circle cx="298.89" cy="199.17" r="12.80" fill="url(#gr)"/>
<circle cx="270.48" cy="210.74" r="12.80" fill="url(#gr)"/>
<circle cx="314.53" cy="219.96" r="12.80" fill="url(#gr)"/>
<circle cx="242.07" cy="222.31" r="9.86" fill="url(#gr)"/>
<circle cx="286.12" cy="231.53" r="12.80" fill="url(#gr)"/>
<circle cx="213.66" cy="233.88" r="12.80" fill="url(#gb)"/>
<circle cx="330.17" cy="240.75" r="9.86" fill="url(#gr)"/>
<circle cx="257.71" cy="243.10" r="9.86" fill="url(#gr)"/>
<circle cx="185.25" cy="245.45" r="12.80" fill="url(#gb)"/>
<circle cx="301.76" cy="252.32" r="9.86" fill="url(#gr)"/>
<circle cx="229.30" cy="254.67" r="12.80" fill="url(#gb)"/>
<circle cx="345.81" cy="261.54" r="12.80" fill="url(#gb)"/>
<circle cx="273.35" cy="263.89" r="7.59" fill="url(#gr)"/>
<circle cx="200.89" cy="266.24" r="12.80" fill="url(#gb)"/>
<circle cx="128.43" cy="268.59" r="10.24" fill="url(#gb)"/>
<circle cx="317.40" cy="273.11" r="12.80" fill="url(#gb)"/>
<circle cx="244.94" cy="275.46" r="9.86" fill="url(#gb)"/>
<circle cx="100.02" cy="280.16" r="12.80" fill="url(#gb)"/>
<circle cx="361.45" cy="282.33" r="12.80" fill="url(#gb)"/>
<circle cx="288.99" cy="284.68" r="9.86" fill="url(#gb)"/>
<circle cx="216.53" cy="287.03" r="9.86" fill="url(#gb)"/>
<circle cx="144.07" cy="289.38" r="10.24" fill="url(#gb)"/>
<circle cx="71.61" cy="291.73" r="12.80" fill="url(#gr)"/>
<circle cx="333.04" cy="293.90" r="12.80" fill="url(#gb)"/>
<circle cx="260.58" cy="296.25" r="12.80" fill="url(#gr)"/>
<circle cx="115.66" cy="300.95" r="12.80" fill="url(#gb)"/>
<circle cx="43.20" cy="303.30" r="9.47" fill="url(#gr)"/>
<circle cx="304.63" cy="305.47" r="9.86" fill="url(#gb)"/>
<circle cx="232.17" cy="307.82" r="12.80" fill="url(#gr)"/>
<circle cx="159.71" cy="310.17" r="7.88" fill="url(#gb)"/>
<circle cx="87.25" cy="312.52" r="12.80" fill="url(#gr)"/>
<circle cx="276.22" cy="317.04" r="12.80" fill="url(#gr)"/>
<circle cx="131.30" cy="321.74" r="9.86" fill="url(#gb)"/>
<circle cx="392.73" cy="323.91" r="9.86" fill="url(#gb)"/>
<circle cx="58.84" cy="324.09" r="9.47" fill="url(#gr)"/>
<circle cx="247.81" cy="328.61" r="12.80" fill="url(#gr)"/>
<circle cx="175.35" cy="330.96" r="10.24" fill="url(#gr)"/>
<circle cx="102.89" cy="333.31" r="9.86" fill="url(#gr)"/>
<circle cx="364.32" cy="335.48" r="9.86" fill="url(#gb)"/>
<circle cx="146.94" cy="342.53" r="12.80" fill="url(#gr)"/>
<circle cx="408.37" cy="344.70" r="12.80" fill="url(#gb)"/>
<circle cx="74.48" cy="344.88" r="7.29" fill="url(#gr)"/>
<circle cx="335.91" cy="347.05" r="7.59" fill="url(#gb)"/>
<circle cx="190.99" cy="351.75" r="10.24" fill="url(#gr)"/>
<circle cx="118.53" cy="354.10" r="12.80" fill="url(#gb)"/>
<circle cx="379.96" cy="356.27" r="12.80" fill="url(#gb)"/>
<circle cx="307.50" cy="358.62" r="9.86" fill="url(#gr)"/>
<circle cx="162.58" cy="363.32" r="12.80" fill="url(#gr)"/>
<circle cx="424.01" cy="365.49" r="12.80" fill="url(#gr)"/>
<circle cx="90.12" cy="365.67" r="9.47" fill="url(#gb)"/>
<circle cx="351.55" cy="367.84" r="9.86" fill="url(#gb)"/>
<circle cx="279.09" cy="370.19" r="9.86" fill="url(#gr)"/>
<circle cx="134.17" cy="374.89" r="12.80" fill="url(#gb)"/>
<circle cx="395.60" cy="377.06" r="12.80" fill="url(#gr)"/>
<circle cx="323.14" cy="379.41" r="12.80" fill="url(#gr)"/>
<circle cx="439.65" cy="386.28" r="9.86" fill="url(#gr)"/>
<circle cx="105.76" cy="386.46" r="9.47" fill="url(#gb)"/>
<circle cx="367.19" cy="388.63" r="9.86" fill="url(#gr)"/>
<circle cx="294.73" cy="390.98" r="12.80" fill="url(#gr)"/>
<circle cx="222.27" cy="393.33" r="7.88" fill="url(#gr)"/>
<circle cx="411.24" cy="397.85" r="9.86" fill="url(#gr)"/>
<circle cx="338.78" cy="400.20" r="12.80" fill="url(#gb)"/>
<circle cx="193.86" cy="404.90" r="9.86" fill="url(#gr)"/>
<circle cx="382.83" cy="409.42" r="7.59" fill="url(#gr)"/>
<circle cx="310.37" cy="411.77" r="12.80" fill="url(#gb)"/>
<circle cx="237.91" cy="414.12" r="10.24" fill="url(#gr)"/>
<circle cx="165.45" cy="416.47" r="9.86" fill="url(#gb)"/>
<circle cx="354.42" cy="420.99" r="9.86" fill="url(#gb)"/>
<circle cx="209.50" cy="425.69" r="12.80" fill="url(#gr)"/>
<circle cx="137.04" cy="428.04" r="7.29" fill="url(#gb)"/>
<circle cx="326.01" cy="432.56" r="9.86" fill="url(#gb)"/>
<circle cx="253.55" cy="434.91" r="10.24" fill="url(#gb)"/>
<circle cx="181.09" cy="437.26" r="12.80" fill="url(#gb)"/>
<circle cx="225.14" cy="446.48" r="12.80" fill="url(#gb)"/>
<circle cx="152.68" cy="448.83" r="9.47" fill="url(#gb)"/>
<circle cx="269.19" cy="455.70" r="7.88" fill="url(#gb)"/>
<circle cx="196.73" cy="458.05" r="12.80" fill="url(#gb)"/>
<circle cx="240.78" cy="467.27" r="9.86" fill="url(#gb)"/>
<circle cx="168.32" cy="469.62" r="9.47" fill="url(#gb)"/>
<circle cx="212.37" cy="478.84" r="9.86" fill="url(#gb)"/>
<circle cx="183.96" cy="490.41" r="7.29" fill="url(#gb)"/>
<rect x="117.80" y="274.90" width="32.10" height="44.40" fill="#fff" stroke="#000" stroke-width="1.6"/>
<text x="124.57" y="306.48" font-family="Liberation Serif" font-style="italic" font-size="36.18" textLength="19.76" lengthAdjust="spacingAndGlyphs" fill="#000" stroke="#fff" stroke-width="0.35">a</text>
<rect x="256.70" y="215.90" width="28.50" height="43.80" fill="#fff" stroke="#000" stroke-width="1.6"/>
<text x="263.73" y="247.38" font-family="Liberation Serif" font-style="italic" font-size="37.38" textLength="16.41" lengthAdjust="spacingAndGlyphs" fill="#000" stroke="#fff" stroke-width="0.35">b</text>
<rect x="335.90" y="323.30" width="29.00" height="44.20" fill="#fff" stroke="#000" stroke-width="1.6"/>
<text x="342.81" y="354.50" font-family="Liberation Serif" font-style="italic" font-size="35.55" textLength="16.44" lengthAdjust="spacingAndGlyphs" fill="#000" stroke="#fff" stroke-width="0.35">c</text>
<rect x="197.00" y="373.60" width="31.20" height="43.90" fill="#fff" stroke="#000" stroke-width="1.6"/>
<text x="203.27" y="404.47" font-family="Liberation Serif" font-style="italic" font-size="37.07" textLength="19.48" lengthAdjust="spacingAndGlyphs" fill="#000" stroke="#fff" stroke-width="0.35">d</text>
<g stroke="#1a1a1a" stroke-width="1.3" fill="none">
<polyline points="11.3,305.2 175.7,523.9 473.4,402.8"/>
<line x1="52.8" y1="364.3" x2="47.3" y2="366.3"/>
<line x1="132.3" y1="467.2" x2="125.5" y2="469.8"/>
<line x1="226.8" y1="505" x2="230.6" y2="510.9"/>
<line x1="368.1" y1="447" x2="371.7" y2="453.3"/>
</g>
<text x="2.72" y="400.70" font-family="Liberation Sans" font-size="29.50" textLength="33.28" lengthAdjust="spacingAndGlyphs" fill="#1a1a1a">12</text>
<text x="79.43" y="505.80" font-family="Liberation Sans" font-size="30.51" textLength="34.63" lengthAdjust="spacingAndGlyphs" fill="#1a1a1a">22</text>
<text x="237.95" y="550.21" font-family="Liberation Sans" font-size="29.24" textLength="34.25" lengthAdjust="spacingAndGlyphs" fill="#1a1a1a">10</text>
<text x="378.34" y="493.71" font-family="Liberation Sans" font-size="29.94" textLength="34.47" lengthAdjust="spacingAndGlyphs" fill="#1a1a1a">20</text>
<circle cx="193.9" cy="62.1" r="12.3" fill="url(#lgr)"/>
<circle cx="193.9" cy="98.4" r="12.3" fill="url(#lgb)"/>
<g stroke="#000" stroke-width="1.3"><line x1="210.9" y1="62.2" x2="235.1" y2="62.2"/><line x1="223" y1="50.1" x2="223" y2="74.2"/><line x1="211.9" y1="98.3" x2="234.2" y2="98.3"/></g>
<text x="235.76" y="72.00" font-family="Liberation Serif" font-style="italic" font-size="37.91" textLength="14.19" lengthAdjust="spacingAndGlyphs" fill="#000" stroke="#fff" stroke-width="1.1">i</text>
<text x="247.71" y="71.45" font-family="Liberation Serif" font-style="italic" font-size="37.36" textLength="21.59" lengthAdjust="spacingAndGlyphs" fill="#000" stroke="#fff" stroke-width="1.1">γ</text>
<text x="235.76" y="108.50" font-family="Liberation Serif" font-style="italic" font-size="37.91" textLength="14.19" lengthAdjust="spacingAndGlyphs" fill="#000" stroke="#fff" stroke-width="1.1">i</text>
<text x="247.71" y="107.95" font-family="Liberation Serif" font-style="italic" font-size="37.36" textLength="21.59" lengthAdjust="spacingAndGlyphs" fill="#000" stroke="#fff" stroke-width="1.1">γ</text>
<g stroke="#000" stroke-width="4.4" fill="none" stroke-linejoin="miter"><polyline points="90,145.4 39.7,165.9 68.3,203.4"/></g>
<polygon points="103.6,139.5 86.3,141.3 91.3,152" fill="#000"/>
<polygon points="74.8,212.7 62.3,205.9 72.9,198.6" fill="#000"/>
<text x="114.48" y="159.60" font-family="Liberation Serif" font-style="italic" font-size="37.26" textLength="17.31" lengthAdjust="spacingAndGlyphs" fill="#000" stroke="#fff" stroke-width="0.4">x</text>
<text x="94.50" y="216.10" font-family="Liberation Serif" font-style="italic" font-size="36.60" textLength="14.38" lengthAdjust="spacingAndGlyphs" fill="#000" stroke="#fff" stroke-width="0.4">y</text>
<clipPath id="clip0_0"><rect x="0" y="0" width="8" height="8"/></clipPath>
<g transform="matrix(17.33,-5.26,12.9,7.09,482.50,205.10)"><g clip-path="url(#clip0_0)">
<rect x="0" y="0" width="8" height="8" fill="#fafafa"/>
<rect x="-0.5" y="-0.5" width="1.02" height="1.02" fill="#fff1f1"/>
<rect x="-0.5" y="0.5" width="1.02" height="1.02" fill="#fff1f1"/>
<rect x="-0.5" y="1.5" width="1.02" height="1.02" fill="#fff1f1"/>
<rect x="-0.5" y="2.5" width="1.02" height="1.02" fill="#fff1f1"/>
<rect x="-0.5" y="3.5" width="1.02" height="1.02" fill="#fff1f1"/>
<rect x="-0.5" y="4.5" width="1.02" height="1.02" fill="#f5f3ff"/>
<rect x="-0.5" y="5.5" width="1.02" height="1.02" fill="#f5f3ff"/>
<rect x="-0.5" y="6.5" width="1.02" height="1.02" fill="#f5f3ff"/>
<rect x="-0.5" y="7.5" width="1.02" height="1.02" fill="#f5f3ff"/>
<rect x="0.5" y="-0.5" width="1.02" height="1.02" fill="#fff1f1"/>
<rect x="0.5" y="0.5" width="1.02" height="1.02" fill="#fff1f1"/>
<rect x="0.5" y="1.5" width="1.02" height="1.02" fill="#fff1f1"/>
<rect x="0.5" y="2.5" width="1.02" height="1.02" fill="#fff1f1"/>
<rect x="0.5" y="3.5" width="1.02" height="1.02" fill="#fff1f1"/>
<rect x="0.5" y="4.5" width="1.02" height="1.02" fill="#f5f3ff"/>
<rect x="0.5" y="5.5" width="1.02" height="1.02" fill="#f5f3ff"/>
<rect x="0.5" y="6.5" width="1.02" height="1.02" fill="#f5f3ff"/>
<rect x="0.5" y="7.5" width="1.02" height="1.02" fill="#f5f3ff"/>
<rect x="1.5" y="-0.5" width="1.02" height="1.02" fill="#fff1f1"/>
<rect x="1.5" y="0.5" width="1.02" height="1.02" fill="#fff1f1"/>
<rect x="1.5" y="1.5" width="1.02" height="1.02" fill="#fff1f1"/>
<rect x="1.5" y="2.5" width="1.02" height="1.02" fill="#fff1f1"/>
<rect x="1.5" y="3.5" width="1.02" height="1.02" fill="#fff1f1"/>
<rect x="1.5" y="4.5" width="1.02" height="1.02" fill="#f5f3ff"/>
<rect x="1.5" y="5.5" width="1.02" height="1.02" fill="#f5f3ff"/>
<rect x="1.5" y="6.5" width="1.02" height="1.02" fill="#f5f3ff"/>
<rect x="1.5" y="7.5" width="1.02" height="1.02" fill="#f5f3ff"/>
<rect x="2.5" y="-0.5" width="1.02" height="1.02" fill="#fff1f1"/>
<rect x="2.5" y="0.5" width="1.02" height="1.02" fill="#fff1f1"/>
<rect x="2.5" y="1.5" width="1.02" height="1.02" fill="#fff1f1"/>
<rect x="2.5" y="2.5" width="1.02" height="1.02" fill="#fff1f1"/>
<rect x="2.5" y="3.5" width="1.02" height="1.02" fill="#fff1f1"/>
<rect x="2.5" y="4.5" width="1.02" height="1.02" fill="#f5f3ff"/>
<rect x="2.5" y="5.5" width="1.02" height="1.02" fill="#f5f3ff"/>
<rect x="2.5" y="6.5" width="1.02" height="1.02" fill="#f5f3ff"/>
<rect x="2.5" y="7.5" width="1.02" height="1.02" fill="#f5f3ff"/>
<rect x="3.5" y="-0.5" width="1.02" height="1.02" fill="#fff1f1"/>
<rect x="3.5" y="0.5" width="1.02" height="1.02" fill="#fff1f1"/>
<rect x="3.5" y="1.5" width="1.02" height="1.02" fill="#fff1f1"/>
<rect x="3.5" y="2.5" width="1.02" height="1.02" fill="#fff1f1"/>
<rect x="3.5" y="3.5" width="1.02" height="1.02" fill="#fff1f1"/>
<rect x="3.5" y="4.5" width="1.02" height="1.02" fill="#f5f3ff"/>
<rect x="3.5" y="5.5" width="1.02" height="1.02" fill="#f5f3ff"/>
<rect x="3.5" y="6.5" width="1.02" height="1.02" fill="#f5f3ff"/>
<rect x="3.5" y="7.5" width="1.02" height="1.02" fill="#f5f3ff"/>
<rect x="4.5" y="-0.5" width="1.02" height="1.02" fill="#f5f3ff"/>
<rect x="4.5" y="0.5" width="1.02" height="1.02" fill="#f5f3ff"/>
<rect x="4.5" y="1.5" width="1.02" height="1.02" fill="#f5f3ff"/>
<rect x="4.5" y="2.5" width="1.02" height="1.02" fill="#f5f3ff"/>
<rect x="4.5" y="3.5" width="1.02" height="1.02" fill="#f5f3ff"/>
<rect x="4.5" y="4.5" width="1.02" height="1.02" fill="#fff1f1"/>
<rect x="4.5" y="5.5" width="1.02" height="1.02" fill="#fff1f1"/>
<rect x="4.5" y="6.5" width="1.02" height="1.02" fill="#fff1f1"/>
<rect x="4.5" y="7.5" width="1.02" height="1.02" fill="#fff1f1"/>
<rect x="5.5" y="-0.5" width="1.02" height="1.02" fill="#f5f3ff"/>
<rect x="5.5" y="0.5" width="1.02" height="1.02" fill="#f5f3ff"/>
<rect x="5.5" y="1.5" width="1.02" height="1.02" fill="#f5f3ff"/>
<rect x="5.5" y="2.5" width="1.02" height="1.02" fill="#f5f3ff"/>
<rect x="5.5" y="3.5" width="1.02" height="1.02" fill="#f5f3ff"/>
<rect x="5.5" y="4.5" width="1.02" height="1.02" fill="#fff1f1"/>
<rect x="5.5" y="5.5" width="1.02" height="1.02" fill="#fff1f1"/>
<rect x="5.5" y="6.5" width="1.02" height="1.02" fill="#fff1f1"/>
<rect x="5.5" y="7.5" width="1.02" height="1.02" fill="#fff1f1"/>
<rect x="6.5" y="-0.5" width="1.02" height="1.02" fill="#f5f3ff"/>
<rect x="6.5" y="0.5" width="1.02" height="1.02" fill="#f5f3ff"/>
<rect x="6.5" y="1.5" width="1.02" height="1.02" fill="#f5f3ff"/>
<rect x="6.5" y="2.5" width="1.02" height="1.02" fill="#f5f3ff"/>
<rect x="6.5" y="3.5" width="1.02" height="1.02" fill="#f5f3ff"/>
<rect x="6.5" y="4.5" width="1.02" height="1.02" fill="#fff1f1"/>
<rect x="6.5" y="5.5" width="1.02" height="1.02" fill="#fff1f1"/>
<rect x="6.5" y="6.5" width="1.02" height="1.02" fill="#fff1f1"/>
<rect x="6.5" y="7.5" width="1.02" height="1.02" fill="#fff1f1"/>
<rect x="7.5" y="-0.5" width="1.02" height="1.02" fill="#f5f3ff"/>
<rect x="7.5" y="0.5" width="1.02" height="1.02" fill="#f5f3ff"/>
<rect x="7.5" y="1.5" width="1.02" height="1.02" fill="#f5f3ff"/>
<rect x="7.5" y="2.5" width="1.02" height="1.02" fill="#f5f3ff"/>
<rect x="7.5" y="3.5" width="1.02" height="1.02" fill="#f5f3ff"/>
<rect x="7.5" y="4.5" width="1.02" height="1.02" fill="#fff1f1"/>
<rect x="7.5" y="5.5" width="1.02" height="1.02" fill="#fff1f1"/>
<rect x="7.5" y="6.5" width="1.02" height="1.02" fill="#fff1f1"/>
<rect x="7.5" y="7.5" width="1.02" height="1.02" fill="#fff1f1"/>
<polygon points="0.400,0.000 0.283,0.283 0.000,0.400 -0.283,0.283 -0.400,0.000 -0.283,-0.283 -0.000,-0.400 0.283,-0.283" fill="#ececec" stroke="#ff3030" stroke-width="2.35" stroke-linejoin="round" vector-effect="non-scaling-stroke"/>
<polygon points="0.400,0.000 0.283,0.283 0.000,0.400 -0.283,0.283 -0.400,0.000 -0.283,-0.283 -0.000,-0.400 0.283,-0.283" fill="none" stroke="#220004" stroke-width="1.6" stroke-linejoin="round" vector-effect="non-scaling-stroke"/>
<polygon points="0.400,1.000 0.283,1.283 0.000,1.400 -0.283,1.283 -0.400,1.000 -0.283,0.717 -0.000,0.600 0.283,0.717" fill="#ececec" stroke="#ff3030" stroke-width="2.35" stroke-linejoin="round" vector-effect="non-scaling-stroke"/>
<polygon points="0.400,1.000 0.283,1.283 0.000,1.400 -0.283,1.283 -0.400,1.000 -0.283,0.717 -0.000,0.600 0.283,0.717" fill="none" stroke="#220004" stroke-width="1.6" stroke-linejoin="round" vector-effect="non-scaling-stroke"/>
<polygon points="0.400,2.000 0.283,2.283 0.000,2.400 -0.283,2.283 -0.400,2.000 -0.283,1.717 -0.000,1.600 0.283,1.717" fill="#ececec" stroke="#ff3030" stroke-width="2.35" stroke-linejoin="round" vector-effect="non-scaling-stroke"/>
<polygon points="0.400,2.000 0.283,2.283 0.000,2.400 -0.283,2.283 -0.400,2.000 -0.283,1.717 -0.000,1.600 0.283,1.717" fill="none" stroke="#220004" stroke-width="1.6" stroke-linejoin="round" vector-effect="non-scaling-stroke"/>
<polygon points="0.400,3.000 0.283,3.283 0.000,3.400 -0.283,3.283 -0.400,3.000 -0.283,2.717 -0.000,2.600 0.283,2.717" fill="#ececec" stroke="#ff3030" stroke-width="2.35" stroke-linejoin="round" vector-effect="non-scaling-stroke"/>
<polygon points="0.400,3.000 0.283,3.283 0.000,3.400 -0.283,3.283 -0.400,3.000 -0.283,2.717 -0.000,2.600 0.283,2.717" fill="none" stroke="#220004" stroke-width="1.6" stroke-linejoin="round" vector-effect="non-scaling-stroke"/>
<polygon points="0.400,4.000 0.283,4.283 0.000,4.400 -0.283,4.283 -0.400,4.000 -0.283,3.717 -0.000,3.600 0.283,3.717" fill="#ececec" stroke="#ff3030" stroke-width="2.35" stroke-linejoin="round" vector-effect="non-scaling-stroke"/>
<polygon points="0.400,4.000 0.283,4.283 0.000,4.400 -0.283,4.283 -0.400,4.000 -0.283,3.717 -0.000,3.600 0.283,3.717" fill="none" stroke="#220004" stroke-width="1.6" stroke-linejoin="round" vector-effect="non-scaling-stroke"/>
<polygon points="0.400,5.000 0.283,5.283 0.000,5.400 -0.283,5.283 -0.400,5.000 -0.283,4.717 -0.000,4.600 0.283,4.717" fill="#fcfcff" stroke="#4438ff" stroke-width="2.3" stroke-linejoin="round" vector-effect="non-scaling-stroke"/>
<polygon points="0.400,5.000 0.283,5.283 0.000,5.400 -0.283,5.283 -0.400,5.000 -0.283,4.717 -0.000,4.600 0.283,4.717" fill="none" stroke="#100014" stroke-width="1.6" stroke-linejoin="round" vector-effect="non-scaling-stroke"/>
<polygon points="0.400,6.000 0.283,6.283 0.000,6.400 -0.283,6.283 -0.400,6.000 -0.283,5.717 -0.000,5.600 0.283,5.717" fill="#fcfcff" stroke="#4438ff" stroke-width="2.3" stroke-linejoin="round" vector-effect="non-scaling-stroke"/>
<polygon points="0.400,6.000 0.283,6.283 0.000,6.400 -0.283,6.283 -0.400,6.000 -0.283,5.717 -0.000,5.600 0.283,5.717" fill="none" stroke="#100014" stroke-width="1.6" stroke-linejoin="round" vector-effect="non-scaling-stroke"/>
<polygon points="0.400,7.000 0.283,7.283 0.000,7.400 -0.283,7.283 -0.400,7.000 -0.283,6.717 -0.000,6.600 0.283,6.717" fill="#fcfcff" stroke="#4438ff" stroke-width="2.3" stroke-linejoin="round" vector-effect="non-scaling-stroke"/>
<polygon points="0.400,7.000 0.283,7.283 0.000,7.400 -0.283,7.283 -0.400,7.000 -0.283,6.717 -0.000,6.600 0.283,6.717" fill="none" stroke="#100014" stroke-width="1.6" stroke-linejoin="round" vector-effect="non-scaling-stroke"/>
<polygon points="0.400,8.000 0.283,8.283 0.000,8.400 -0.283,8.283 -0.400,8.000 -0.283,7.717 -0.000,7.600 0.283,7.717" fill="#fcfcff" stroke="#4438ff" stroke-width="2.3" stroke-linejoin="round" vector-effect="non-scaling-stroke"/>
<polygon points="0.400,8.000 0.283,8.283 0.000,8.400 -0.283,8.283 -0.400,8.000 -0.283,7.717 -0.000,7.600 0.283,7.717" fill="none" stroke="#100014" stroke-width="1.6" stroke-linejoin="round" vector-effect="non-scaling-stroke"/>
<polygon points="1.400,0.000 1.283,0.283 1.000,0.400 0.717,0.283 0.600,0.000 0.717,-0.283 1.000,-0.400 1.283,-0.283" fill="#ececec" stroke="#ff3030" stroke-width="2.35" stroke-linejoin="round" vector-effect="non-scaling-stroke"/>
<polygon points="1.400,0.000 1.283,0.283 1.000,0.400 0.717,0.283 0.600,0.000 0.717,-0.283 1.000,-0.400 1.283,-0.283" fill="none" stroke="#220004" stroke-width="1.6" stroke-linejoin="round" vector-effect="non-scaling-stroke"/>
<polygon points="1.400,1.000 1.283,1.283 1.000,1.400 0.717,1.283 0.600,1.000 0.717,0.717 1.000,0.600 1.283,0.717" fill="#ececec" stroke="#ff3030" stroke-width="2.35" stroke-linejoin="round" vector-effect="non-scaling-stroke"/>
<polygon points="1.400,1.000 1.283,1.283 1.000,1.400 0.717,1.283 0.600,1.000 0.717,0.717 1.000,0.600 1.283,0.717" fill="none" stroke="#220004" stroke-width="1.6" stroke-linejoin="round" vector-effect="non-scaling-stroke"/>
<polygon points="1.400,2.000 1.283,2.283 1.000,2.400 0.717,2.283 0.600,2.000 0.717,1.717 1.000,1.600 1.283,1.717" fill="#ececec" stroke="#ff3030" stroke-width="2.35" stroke-linejoin="round" vector-effect="non-scaling-stroke"/>
<polygon points="1.400,2.000 1.283,2.283 1.000,2.400 0.717,2.283 0.600,2.000 0.717,1.717 1.000,1.600 1.283,1.717" fill="none" stroke="#220004" stroke-width="1.6" stroke-linejoin="round" vector-effect="non-scaling-stroke"/>
<polygon points="1.400,3.000 1.283,3.283 1.000,3.400 0.717,3.283 0.600,3.000 0.717,2.717 1.000,2.600 1.283,2.717" fill="#ececec" stroke="#ff3030" stroke-width="2.35" stroke-linejoin="round" vector-effect="non-scaling-stroke"/>
<polygon points="1.400,3.000 1.283,3.283 1.000,3.400 0.717,3.283 0.600,3.000 0.717,2.717 1.000,2.600 1.283,2.717" fill="none" stroke="#220004" stroke-width="1.6" stroke-linejoin="round" vector-effect="non-scaling-stroke"/>
<polygon points="1.400,4.000 1.283,4.283 1.000,4.400 0.717,4.283 0.600,4.000 0.717,3.717 1.000,3.600 1.283,3.717" fill="#ececec" stroke="#ff3030" stroke-width="2.35" stroke-linejoin="round" vector-effect="non-scaling-stroke"/>
<polygon points="1.400,4.000 1.283,4.283 1.000,4.400 0.717,4.283 0.600,4.000 0.717,3.717 1.000,3.600 1.283,3.717" fill="none" stroke="#220004" stroke-width="1.6" stroke-linejoin="round" vector-effect="non-scaling-stroke"/>
<polygon points="1.400,5.000 1.283,5.283 1.000,5.400 0.717,5.283 0.600,5.000 0.717,4.717 1.000,4.600 1.283,4.717" fill="#fcfcff" stroke="#4438ff" stroke-width="2.3" stroke-linejoin="round" vector-effect="non-scaling-stroke"/>
<polygon points="1.400,5.000 1.283,5.283 1.000,5.400 0.717,5.283 0.600,5.000 0.717,4.717 1.000,4.600 1.283,4.717" fill="none" stroke="#100014" stroke-width="1.6" stroke-linejoin="round" vector-effect="non-scaling-stroke"/>
<polygon points="1.400,6.000 1.283,6.283 1.000,6.400 0.717,6.283 0.600,6.000 0.717,5.717 1.000,5.600 1.283,5.717" fill="#fcfcff" stroke="#4438ff" stroke-width="2.3" stroke-linejoin="round" vector-effect="non-scaling-stroke"/>
<polygon points="1.400,6.000 1.283,6.283 1.000,6.400 0.717,6.283 0.600,6.000 0.717,5.717 1.000,5.600 1.283,5.717" fill="none" stroke="#100014" stroke-width="1.6" stroke-linejoin="round" vector-effect="non-scaling-stroke"/>
<polygon points="1.400,7.000 1.283,7.283 1.000,7.400 0.717,7.283 0.600,7.000 0.717,6.717 1.000,6.600 1.283,6.717" fill="#fcfcff" stroke="#4438ff" stroke-width="2.3" stroke-linejoin="round" vector-effect="non-scaling-stroke"/>
<polygon points="1.400,7.000 1.283,7.283 1.000,7.400 0.717,7.283 0.600,7.000 0.717,6.717 1.000,6.600 1.283,6.717" fill="none" stroke="#100014" stroke-width="1.6" stroke-linejoin="round" vector-effect="non-scaling-stroke"/>
<polygon points="1.400,8.000 1.283,8.283 1.000,8.400 0.717,8.283 0.600,8.000 0.717,7.717 1.000,7.600 1.283,7.717" fill="#fcfcff" stroke="#4438ff" stroke-width="2.3" stroke-linejoin="round" vector-effect="non-scaling-stroke"/>
<polygon points="1.400,8.000 1.283,8.283 1.000,8.400 0.717,8.283 0.600,8.000 0.717,7.717 1.000,7.600 1.283,7.717" fill="none" stroke="#100014" stroke-width="1.6" stroke-linejoin="round" vector-effect="non-scaling-stroke"/>
<polygon points="2.400,0.000 2.283,0.283 2.000,0.400 1.717,0.283 1.600,0.000 1.717,-0.283 2.000,-0.400 2.283,-0.283" fill="#ececec" stroke="#ff3030" stroke-width="2.35" stroke-linejoin="round" vector-effect="non-scaling-stroke"/>
<polygon points="2.400,0.000 2.283,0.283 2.000,0.400 1.717,0.283 1.600,0.000 1.717,-0.283 2.000,-0.400 2.283,-0.283" fill="none" stroke="#220004" stroke-width="1.6" stroke-linejoin="round" vector-effect="non-scaling-stroke"/>
<polygon points="2.400,1.000 2.283,1.283 2.000,1.400 1.717,1.283 1.600,1.000 1.717,0.717 2.000,0.600 2.283,0.717" fill="#ececec" stroke="#ff3030" stroke-width="2.35" stroke-linejoin="round" vector-effect="non-scaling-stroke"/>
<polygon points="2.400,1.000 2.283,1.283 2.000,1.400 1.717,1.283 1.600,1.000 1.717,0.717 2.000,0.600 2.283,0.717" fill="none" stroke="#220004" stroke-width="1.6" stroke-linejoin="round" vector-effect="non-scaling-stroke"/>
<polygon points="2.400,2.000 2.283,2.283 2.000,2.400 1.717,2.283 1.600,2.000 1.717,1.717 2.000,1.600 2.283,1.717" fill="#ececec" stroke="#ff3030" stroke-width="2.35" stroke-linejoin="round" vector-effect="non-scaling-stroke"/>
<polygon points="2.400,2.000 2.283,2.283 2.000,2.400 1.717,2.283 1.600,2.000 1.717,1.717 2.000,1.600 2.283,1.717" fill="none" stroke="#220004" stroke-width="1.6" stroke-linejoin="round" vector-effect="non-scaling-stroke"/>
<polygon points="2.400,3.000 2.283,3.283 2.000,3.400 1.717,3.283 1.600,3.000 1.717,2.717 2.000,2.600 2.283,2.717" fill="#ececec" stroke="#ff3030" stroke-width="2.35" stroke-linejoin="round" vector-effect="non-scaling-stroke"/>
<polygon points="2.400,3.000 2.283,3.283 2.000,3.400 1.717,3.283 1.600,3.000 1.717,2.717 2.000,2.600 2.283,2.717" fill="none" stroke="#220004" stroke-width="1.6" stroke-linejoin="round" vector-effect="non-scaling-stroke"/>
<polygon points="2.400,4.000 2.283,4.283 2.000,4.400 1.717,4.283 1.600,4.000 1.717,3.717 2.000,3.600 2.283,3.717" fill="#ececec" stroke="#ff3030" stroke-width="2.35" stroke-linejoin="round" vector-effect="non-scaling-stroke"/>
<polygon points="2.400,4.000 2.283,4.283 2.000,4.400 1.717,4.283 1.600,4.000 1.717,3.717 2.000,3.600 2.283,3.717" fill="none" stroke="#220004" stroke-width="1.6" stroke-linejoin="round" vector-effect="non-scaling-stroke"/>
<polygon points="2.400,5.000 2.283,5.283 2.000,5.400 1.717,5.283 1.600,5.000 1.717,4.717 2.000,4.600 2.283,4.717" fill="#fcfcff" stroke="#4438ff" stroke-width="2.3" stroke-linejoin="round" vector-effect="non-scaling-stroke"/>
<polygon points="2.400,5.000 2.283,5.283 2.000,5.400 1.717,5.283 1.600,5.000 1.717,4.717 2.000,4.600 2.283,4.717" fill="none" stroke="#100014" stroke-width="1.6" stroke-linejoin="round" vector-effect="non-scaling-stroke"/>
<polygon points="2.400,6.000 2.283,6.283 2.000,6.400 1.717,6.283 1.600,6.000 1.717,5.717 2.000,5.600 2.283,5.717" fill="#fcfcff" stroke="#4438ff" stroke-width="2.3" stroke-linejoin="round" vector-effect="non-scaling-stroke"/>
<polygon points="2.400,6.000 2.283,6.283 2.000,6.400 1.717,6.283 1.600,6.000 1.717,5.717 2.000,5.600 2.283,5.717" fill="none" stroke="#100014" stroke-width="1.6" stroke-linejoin="round" vector-effect="non-scaling-stroke"/>
<polygon points="2.400,7.000 2.283,7.283 2.000,7.400 1.717,7.283 1.600,7.000 1.717,6.717 2.000,6.600 2.283,6.717" fill="#fcfcff" stroke="#4438ff" stroke-width="2.3" stroke-linejoin="round" vector-effect="non-scaling-stroke"/>
<polygon points="2.400,7.000 2.283,7.283 2.000,7.400 1.717,7.283 1.600,7.000 1.717,6.717 2.000,6.600 2.283,6.717" fill="none" stroke="#100014" stroke-width="1.6" stroke-linejoin="round" vector-effect="non-scaling-stroke"/>
<polygon points="2.400,8.000 2.283,8.283 2.000,8.400 1.717,8.283 1.600,8.000 1.717,7.717 2.000,7.600 2.283,7.717" fill="#fcfcff" stroke="#4438ff" stroke-width="2.3" stroke-linejoin="round" vector-effect="non-scaling-stroke"/>
<polygon points="2.400,8.000 2.283,8.283 2.000,8.400 1.717,8.283 1.600,8.000 1.717,7.717 2.000,7.600 2.283,7.717" fill="none" stroke="#100014" stroke-width="1.6" stroke-linejoin="round" vector-effect="non-scaling-stroke"/>
<polygon points="3.400,0.000 3.283,0.283 3.000,0.400 2.717,0.283 2.600,0.000 2.717,-0.283 3.000,-0.400 3.283,-0.283" fill="#ececec" stroke="#ff3030" stroke-width="2.35" stroke-linejoin="round" vector-effect="non-scaling-stroke"/>
<polygon points="3.400,0.000 3.283,0.283 3.000,0.400 2.717,0.283 2.600,0.000 2.717,-0.283 3.000,-0.400 3.283,-0.283" fill="none" stroke="#220004" stroke-width="1.6" stroke-linejoin="round" vector-effect="non-scaling-stroke"/>
<polygon points="3.400,1.000 3.283,1.283 3.000,1.400 2.717,1.283 2.600,1.000 2.717,0.717 3.000,0.600 3.283,0.717" fill="#ececec" stroke="#ff3030" stroke-width="2.35" stroke-linejoin="round" vector-effect="non-scaling-stroke"/>
<polygon points="3.400,1.000 3.283,1.283 3.000,1.400 2.717,1.283 2.600,1.000 2.717,0.717 3.000,0.600 3.283,0.717" fill="none" stroke="#220004" stroke-width="1.6" stroke-linejoin="round" vector-effect="non-scaling-stroke"/>
<polygon points="3.400,2.000 3.283,2.283 3.000,2.400 2.717,2.283 2.600,2.000 2.717,1.717 3.000,1.600 3.283,1.717" fill="#ececec" stroke="#ff3030" stroke-width="2.35" stroke-linejoin="round" vector-effect="non-scaling-stroke"/>
<polygon points="3.400,2.000 3.283,2.283 3.000,2.400 2.717,2.283 2.600,2.000 2.717,1.717 3.000,1.600 3.283,1.717" fill="none" stroke="#220004" stroke-width="1.6" stroke-linejoin="round" vector-effect="non-scaling-stroke"/>
<polygon points="3.400,3.000 3.283,3.283 3.000,3.400 2.717,3.283 2.600,3.000 2.717,2.717 3.000,2.600 3.283,2.717" fill="#ececec" stroke="#ff3030" stroke-width="2.35" stroke-linejoin="round" vector-effect="non-scaling-stroke"/>
<polygon points="3.400,3.000 3.283,3.283 3.000,3.400 2.717,3.283 2.600,3.000 2.717,2.717 3.000,2.600 3.283,2.717" fill="none" stroke="#220004" stroke-width="1.6" stroke-linejoin="round" vector-effect="non-scaling-stroke"/>
<polygon points="3.400,4.000 3.283,4.283 3.000,4.400 2.717,4.283 2.600,4.000 2.717,3.717 3.000,3.600 3.283,3.717" fill="#ececec" stroke="#ff3030" stroke-width="2.35" stroke-linejoin="round" vector-effect="non-scaling-stroke"/>
<polygon points="3.400,4.000 3.283,4.283 3.000,4.400 2.717,4.283 2.600,4.000 2.717,3.717 3.000,3.600 3.283,3.717" fill="none" stroke="#220004" stroke-width="1.6" stroke-linejoin="round" vector-effect="non-scaling-stroke"/>
<polygon points="3.400,5.000 3.283,5.283 3.000,5.400 2.717,5.283 2.600,5.000 2.717,4.717 3.000,4.600 3.283,4.717" fill="#fcfcff" stroke="#4438ff" stroke-width="2.3" stroke-linejoin="round" vector-effect="non-scaling-stroke"/>
<polygon points="3.400,5.000 3.283,5.283 3.000,5.400 2.717,5.283 2.600,5.000 2.717,4.717 3.000,4.600 3.283,4.717" fill="none" stroke="#100014" stroke-width="1.6" stroke-linejoin="round" vector-effect="non-scaling-stroke"/>
<polygon points="3.400,6.000 3.283,6.283 3.000,6.400 2.717,6.283 2.600,6.000 2.717,5.717 3.000,5.600 3.283,5.717" fill="#fcfcff" stroke="#4438ff" stroke-width="2.3" stroke-linejoin="round" vector-effect="non-scaling-stroke"/>
<polygon points="3.400,6.000 3.283,6.283 3.000,6.400 2.717,6.283 2.600,6.000 2.717,5.717 3.000,5.600 3.283,5.717" fill="none" stroke="#100014" stroke-width="1.6" stroke-linejoin="round" vector-effect="non-scaling-stroke"/>
<polygon points="3.400,7.000 3.283,7.283 3.000,7.400 2.717,7.283 2.600,7.000 2.717,6.717 3.000,6.600 3.283,6.717" fill="#fcfcff" stroke="#4438ff" stroke-width="2.3" stroke-linejoin="round" vector-effect="non-scaling-stroke"/>
<polygon points="3.400,7.000 3.283,7.283 3.000,7.400 2.717,7.283 2.600,7.000 2.717,6.717 3.000,6.600 3.283,6.717" fill="none" stroke="#100014" stroke-width="1.6" stroke-linejoin="round" vector-effect="non-scaling-stroke"/>
<polygon points="3.400,8.000 3.283,8.283 3.000,8.400 2.717,8.283 2.600,8.000 2.717,7.717 3.000,7.600 3.283,7.717" fill="#fcfcff" stroke="#4438ff" stroke-width="2.3" stroke-linejoin="round" vector-effect="non-scaling-stroke"/>
<polygon points="3.400,8.000 3.283,8.283 3.000,8.400 2.717,8.283 2.600,8.000 2.717,7.717 3.000,7.600 3.283,7.717" fill="none" stroke="#100014" stroke-width="1.6" stroke-linejoin="round" vector-effect="non-scaling-stroke"/>
<polygon points="4.400,0.000 4.283,0.283 4.000,0.400 3.717,0.283 3.600,0.000 3.717,-0.283 4.000,-0.400 4.283,-0.283" fill="#ececec" stroke="#ff3030" stroke-width="2.35" stroke-linejoin="round" vector-effect="non-scaling-stroke"/>
<polygon points="4.400,0.000 4.283,0.283 4.000,0.400 3.717,0.283 3.600,0.000 3.717,-0.283 4.000,-0.400 4.283,-0.283" fill="none" stroke="#220004" stroke-width="1.6" stroke-linejoin="round" vector-effect="non-scaling-stroke"/>
<polygon points="4.400,1.000 4.283,1.283 4.000,1.400 3.717,1.283 3.600,1.000 3.717,0.717 4.000,0.600 4.283,0.717" fill="#ececec" stroke="#ff3030" stroke-width="2.35" stroke-linejoin="round" vector-effect="non-scaling-stroke"/>
<polygon points="4.400,1.000 4.283,1.283 4.000,1.400 3.717,1.283 3.600,1.000 3.717,0.717 4.000,0.600 4.283,0.717" fill="none" stroke="#220004" stroke-width="1.6" stroke-linejoin="round" vector-effect="non-scaling-stroke"/>
<polygon points="4.400,2.000 4.283,2.283 4.000,2.400 3.717,2.283 3.600,2.000 3.717,1.717 4.000,1.600 4.283,1.717" fill="#ececec" stroke="#ff3030" stroke-width="2.35" stroke-linejoin="round" vector-effect="non-scaling-stroke"/>
<polygon points="4.400,2.000 4.283,2.283 4.000,2.400 3.717,2.283 3.600,2.000 3.717,1.717 4.000,1.600 4.283,1.717" fill="none" stroke="#220004" stroke-width="1.6" stroke-linejoin="round" vector-effect="non-scaling-stroke"/>
<polygon points="4.400,3.000 4.283,3.283 4.000,3.400 3.717,3.283 3.600,3.000 3.717,2.717 4.000,2.600 4.283,2.717" fill="#ececec" stroke="#ff3030" stroke-width="2.35" stroke-linejoin="round" vector-effect="non-scaling-stroke"/>
<polygon points="4.400,3.000 4.283,3.283 4.000,3.400 3.717,3.283 3.600,3.000 3.717,2.717 4.000,2.600 4.283,2.717" fill="none" stroke="#220004" stroke-width="1.6" stroke-linejoin="round" vector-effect="non-scaling-stroke"/>
<polygon points="4.400,4.000 4.283,4.283 4.000,4.400 3.717,4.283 3.600,4.000 3.717,3.717 4.000,3.600 4.283,3.717" fill="#ececec" stroke="#ff3030" stroke-width="2.35" stroke-linejoin="round" vector-effect="non-scaling-stroke"/>
<polygon points="4.400,4.000 4.283,4.283 4.000,4.400 3.717,4.283 3.600,4.000 3.717,3.717 4.000,3.600 4.283,3.717" fill="none" stroke="#220004" stroke-width="1.6" stroke-linejoin="round" vector-effect="non-scaling-stroke"/>
<polygon points="4.400,5.000 4.283,5.283 4.000,5.400 3.717,5.283 3.600,5.000 3.717,4.717 4.000,4.600 4.283,4.717" fill="#fcfcff" stroke="#4438ff" stroke-width="2.3" stroke-linejoin="round" vector-effect="non-scaling-stroke"/>
<polygon points="4.400,5.000 4.283,5.283 4.000,5.400 3.717,5.283 3.600,5.000 3.717,4.717 4.000,4.600 4.283,4.717" fill="none" stroke="#100014" stroke-width="1.6" stroke-linejoin="round" vector-effect="non-scaling-stroke"/>
<polygon points="4.400,6.000 4.283,6.283 4.000,6.400 3.717,6.283 3.600,6.000 3.717,5.717 4.000,5.600 4.283,5.717" fill="#fcfcff" stroke="#4438ff" stroke-width="2.3" stroke-linejoin="round" vector-effect="non-scaling-stroke"/>
<polygon points="4.400,6.000 4.283,6.283 4.000,6.400 3.717,6.283 3.600,6.000 3.717,5.717 4.000,5.600 4.283,5.717" fill="none" stroke="#100014" stroke-width="1.6" stroke-linejoin="round" vector-effect="non-scaling-stroke"/>
<polygon points="4.400,7.000 4.283,7.283 4.000,7.400 3.717,7.283 3.600,7.000 3.717,6.717 4.000,6.600 4.283,6.717" fill="#fcfcff" stroke="#4438ff" stroke-width="2.3" stroke-linejoin="round" vector-effect="non-scaling-stroke"/>
<polygon points="4.400,7.000 4.283,7.283 4.000,7.400 3.717,7.283 3.600,7.000 3.717,6.717 4.000,6.600 4.283,6.717" fill="none" stroke="#100014" stroke-width="1.6" stroke-linejoin="round" vector-effect="non-scaling-stroke"/>
<polygon points="4.400,8.000 4.283,8.283 4.000,8.400 3.717,8.283 3.600,8.000 3.717,7.717 4.000,7.600 4.283,7.717" fill="#fcfcff" stroke="#4438ff" stroke-width="2.3" stroke-linejoin="round" vector-effect="non-scaling-stroke"/>
<polygon points="4.400,8.000 4.283,8.283 4.000,8.400 3.717,8.283 3.600,8.000 3.717,7.717 4.000,7.600 4.283,7.717" fill="none" stroke="#100014" stroke-width="1.6" stroke-linejoin="round" vector-effect="non-scaling-stroke"/>
<polygon points="5.400,0.000 5.283,0.283 5.000,0.400 4.717,0.283 4.600,0.000 4.717,-0.283 5.000,-0.400 5.283,-0.283" fill="#fcfcff" stroke="#4438ff" stroke-width="2.3" stroke-linejoin="round" vector-effect="non-scaling-stroke"/>
<polygon points="5.400,0.000 5.283,0.283 5.000,0.400 4.717,0.283 4.600,0.000 4.717,-0.283 5.000,-0.400 5.283,-0.283" fill="none" stroke="#100014" stroke-width="1.6" stroke-linejoin="round" vector-effect="non-scaling-stroke"/>
<polygon points="5.400,1.000 5.283,1.283 5.000,1.400 4.717,1.283 4.600,1.000 4.717,0.717 5.000,0.600 5.283,0.717" fill="#fcfcff" stroke="#4438ff" stroke-width="2.3" stroke-linejoin="round" vector-effect="non-scaling-stroke"/>
<polygon points="5.400,1.000 5.283,1.283 5.000,1.400 4.717,1.283 4.600,1.000 4.717,0.717 5.000,0.600 5.283,0.717" fill="none" stroke="#100014" stroke-width="1.6" stroke-linejoin="round" vector-effect="non-scaling-stroke"/>
<polygon points="5.400,2.000 5.283,2.283 5.000,2.400 4.717,2.283 4.600,2.000 4.717,1.717 5.000,1.600 5.283,1.717" fill="#fcfcff" stroke="#4438ff" stroke-width="2.3" stroke-linejoin="round" vector-effect="non-scaling-stroke"/>
<polygon points="5.400,2.000 5.283,2.283 5.000,2.400 4.717,2.283 4.600,2.000 4.717,1.717 5.000,1.600 5.283,1.717" fill="none" stroke="#100014" stroke-width="1.6" stroke-linejoin="round" vector-effect="non-scaling-stroke"/>
<polygon points="5.400,3.000 5.283,3.283 5.000,3.400 4.717,3.283 4.600,3.000 4.717,2.717 5.000,2.600 5.283,2.717" fill="#fcfcff" stroke="#4438ff" stroke-width="2.3" stroke-linejoin="round" vector-effect="non-scaling-stroke"/>
<polygon points="5.400,3.000 5.283,3.283 5.000,3.400 4.717,3.283 4.600,3.000 4.717,2.717 5.000,2.600 5.283,2.717" fill="none" stroke="#100014" stroke-width="1.6" stroke-linejoin="round" vector-effect="non-scaling-stroke"/>
<polygon points="5.400,4.000 5.283,4.283 5.000,4.400 4.717,4.283 4.600,4.000 4.717,3.717 5.000,3.600 5.283,3.717" fill="#fcfcff" stroke="#4438ff" stroke-width="2.3" stroke-linejoin="round" vector-effect="non-scaling-stroke"/>
<polygon points="5.400,4.000 5.283,4.283 5.000,4.400 4.717,4.283 4.600,4.000 4.717,3.717 5.000,3.600 5.283,3.717" fill="none" stroke="#100014" stroke-width="1.6" stroke-linejoin="round" vector-effect="non-scaling-stroke"/>
<polygon points="5.400,5.000 5.283,5.283 5.000,5.400 4.717,5.283 4.600,5.000 4.717,4.717 5.000,4.600 5.283,4.717" fill="#ececec" stroke="#ff3030" stroke-width="2.35" stroke-linejoin="round" vector-effect="non-scaling-stroke"/>
<polygon points="5.400,5.000 5.283,5.283 5.000,5.400 4.717,5.283 4.600,5.000 4.717,4.717 5.000,4.600 5.283,4.717" fill="none" stroke="#220004" stroke-width="1.6" stroke-linejoin="round" vector-effect="non-scaling-stroke"/>
<polygon points="5.400,6.000 5.283,6.283 5.000,6.400 4.717,6.283 4.600,6.000 4.717,5.717 5.000,5.600 5.283,5.717" fill="#ececec" stroke="#ff3030" stroke-width="2.35" stroke-linejoin="round" vector-effect="non-scaling-stroke"/>
<polygon points="5.400,6.000 5.283,6.283 5.000,6.400 4.717,6.283 4.600,6.000 4.717,5.717 5.000,5.600 5.283,5.717" fill="none" stroke="#220004" stroke-width="1.6" stroke-linejoin="round" vector-effect="non-scaling-stroke"/>
<polygon points="5.400,7.000 5.283,7.283 5.000,7.400 4.717,7.283 4.600,7.000 4.717,6.717 5.000,6.600 5.283,6.717" fill="#ececec" stroke="#ff3030" stroke-width="2.35" stroke-linejoin="round" vector-effect="non-scaling-stroke"/>
<polygon points="5.400,7.000 5.283,7.283 5.000,7.400 4.717,7.283 4.600,7.000 4.717,6.717 5.000,6.600 5.283,6.717" fill="none" stroke="#220004" stroke-width="1.6" stroke-linejoin="round" vector-effect="non-scaling-stroke"/>
<polygon points="5.400,8.000 5.283,8.283 5.000,8.400 4.717,8.283 4.600,8.000 4.717,7.717 5.000,7.600 5.283,7.717" fill="#ececec" stroke="#ff3030" stroke-width="2.35" stroke-linejoin="round" vector-effect="non-scaling-stroke"/>
<polygon points="5.400,8.000 5.283,8.283 5.000,8.400 4.717,8.283 4.600,8.000 4.717,7.717 5.000,7.600 5.283,7.717" fill="none" stroke="#220004" stroke-width="1.6" stroke-linejoin="round" vector-effect="non-scaling-stroke"/>
<polygon points="6.400,0.000 6.283,0.283 6.000,0.400 5.717,0.283 5.600,0.000 5.717,-0.283 6.000,-0.400 6.283,-0.283" fill="#fcfcff" stroke="#4438ff" stroke-width="2.3" stroke-linejoin="round" vector-effect="non-scaling-stroke"/>
<polygon points="6.400,0.000 6.283,0.283 6.000,0.400 5.717,0.283 5.600,0.000 5.717,-0.283 6.000,-0.400 6.283,-0.283" fill="none" stroke="#100014" stroke-width="1.6" stroke-linejoin="round" vector-effect="non-scaling-stroke"/>
<polygon points="6.400,1.000 6.283,1.283 6.000,1.400 5.717,1.283 5.600,1.000 5.717,0.717 6.000,0.600 6.283,0.717" fill="#fcfcff" stroke="#4438ff" stroke-width="2.3" stroke-linejoin="round" vector-effect="non-scaling-stroke"/>
<polygon points="6.400,1.000 6.283,1.283 6.000,1.400 5.717,1.283 5.600,1.000 5.717,0.717 6.000,0.600 6.283,0.717" fill="none" stroke="#100014" stroke-width="1.6" stroke-linejoin="round" vector-effect="non-scaling-stroke"/>
<polygon points="6.400,2.000 6.283,2.283 6.000,2.400 5.717,2.283 5.600,2.000 5.717,1.717 6.000,1.600 6.283,1.717" fill="#fcfcff" stroke="#4438ff" stroke-width="2.3" stroke-linejoin="round" vector-effect="non-scaling-stroke"/>
<polygon points="6.400,2.000 6.283,2.283 6.000,2.400 5.717,2.283 5.600,2.000 5.717,1.717 6.000,1.600 6.283,1.717" fill="none" stroke="#100014" stroke-width="1.6" stroke-linejoin="round" vector-effect="non-scaling-stroke"/>
<polygon points="6.400,3.000 6.283,3.283 6.000,3.400 5.717,3.283 5.600,3.000 5.717,2.717 6.000,2.600 6.283,2.717" fill="#fcfcff" stroke="#4438ff" stroke-width="2.3" stroke-linejoin="round" vector-effect="non-scaling-stroke"/>
<polygon points="6.400,3.000 6.283,3.283 6.000,3.400 5.717,3.283 5.600,3.000 5.717,2.717 6.000,2.600 6.283,2.717" fill="none" stroke="#100014" stroke-width="1.6" stroke-linejoin="round" vector-effect="non-scaling-stroke"/>
<polygon points="6.400,4.000 6.283,4.283 6.000,4.400 5.717,4.283 5.600,4.000 5.717,3.717 6.000,3.600 6.283,3.717" fill="#fcfcff" stroke="#4438ff" stroke-width="2.3" stroke-linejoin="round" vector-effect="non-scaling-stroke"/>
<polygon points="6.400,4.000 6.283,4.283 6.000,4.400 5.717,4.283 5.600,4.000 5.717,3.717 6.000,3.600 6.283,3.717" fill="none" stroke="#100014" stroke-width="1.6" stroke-linejoin="round" vector-effect="non-scaling-stroke"/>
<polygon points="6.400,5.000 6.283,5.283 6.000,5.400 5.717,5.283 5.600,5.000 5.717,4.717 6.000,4.600 6.283,4.717" fill="#ececec" stroke="#ff3030" stroke-width="2.35" stroke-linejoin="round" vector-effect="non-scaling-stroke"/>
<polygon points="6.400,5.000 6.283,5.283 6.000,5.400 5.717,5.283 5.600,5.000 5.717,4.717 6.000,4.600 6.283,4.717" fill="none" stroke="#220004" stroke-width="1.6" stroke-linejoin="round" vector-effect="non-scaling-stroke"/>
<polygon points="6.400,6.000 6.283,6.283 6.000,6.400 5.717,6.283 5.600,6.000 5.717,5.717 6.000,5.600 6.283,5.717" fill="#ececec" stroke="#ff3030" stroke-width="2.35" stroke-linejoin="round" vector-effect="non-scaling-stroke"/>
<polygon points="6.400,6.000 6.283,6.283 6.000,6.400 5.717,6.283 5.600,6.000 5.717,5.717 6.000,5.600 6.283,5.717" fill="none" stroke="#220004" stroke-width="1.6" stroke-linejoin="round" vector-effect="non-scaling-stroke"/>
<polygon points="6.400,7.000 6.283,7.283 6.000,7.400 5.717,7.283 5.600,7.000 5.717,6.717 6.000,6.600 6.283,6.717" fill="#ececec" stroke="#ff3030" stroke-width="2.35" stroke-linejoin="round" vector-effect="non-scaling-stroke"/>
<polygon points="6.400,7.000 6.283,7.283 6.000,7.400 5.717,7.283 5.600,7.000 5.717,6.717 6.000,6.600 6.283,6.717" fill="none" stroke="#220004" stroke-width="1.6" stroke-linejoin="round" vector-effect="non-scaling-stroke"/>
<polygon points="6.400,8.000 6.283,8.283 6.000,8.400 5.717,8.283 5.600,8.000 5.717,7.717 6.000,7.600 6.283,7.717" fill="#ececec" stroke="#ff3030" stroke-width="2.35" stroke-linejoin="round" vector-effect="non-scaling-stroke"/>
<polygon points="6.400,8.000 6.283,8.283 6.000,8.400 5.717,8.283 5.600,8.000 5.717,7.717 6.000,7.600 6.283,7.717" fill="none" stroke="#220004" stroke-width="1.6" stroke-linejoin="round" vector-effect="non-scaling-stroke"/>
<polygon points="7.400,0.000 7.283,0.283 7.000,0.400 6.717,0.283 6.600,0.000 6.717,-0.283 7.000,-0.400 7.283,-0.283" fill="#fcfcff" stroke="#4438ff" stroke-width="2.3" stroke-linejoin="round" vector-effect="non-scaling-stroke"/>
<polygon points="7.400,0.000 7.283,0.283 7.000,0.400 6.717,0.283 6.600,0.000 6.717,-0.283 7.000,-0.400 7.283,-0.283" fill="none" stroke="#100014" stroke-width="1.6" stroke-linejoin="round" vector-effect="non-scaling-stroke"/>
<polygon points="7.400,1.000 7.283,1.283 7.000,1.400 6.717,1.283 6.600,1.000 6.717,0.717 7.000,0.600 7.283,0.717" fill="#fcfcff" stroke="#4438ff" stroke-width="2.3" stroke-linejoin="round" vector-effect="non-scaling-stroke"/>
<polygon points="7.400,1.000 7.283,1.283 7.000,1.400 6.717,1.283 6.600,1.000 6.717,0.717 7.000,0.600 7.283,0.717" fill="none" stroke="#100014" stroke-width="1.6" stroke-linejoin="round" vector-effect="non-scaling-stroke"/>
<polygon points="7.400,2.000 7.283,2.283 7.000,2.400 6.717,2.283 6.600,2.000 6.717,1.717 7.000,1.600 7.283,1.717" fill="#fcfcff" stroke="#4438ff" stroke-width="2.3" stroke-linejoin="round" vector-effect="non-scaling-stroke"/>
<polygon points="7.400,2.000 7.283,2.283 7.000,2.400 6.717,2.283 6.600,2.000 6.717,1.717 7.000,1.600 7.283,1.717" fill="none" stroke="#100014" stroke-width="1.6" stroke-linejoin="round" vector-effect="non-scaling-stroke"/>
<polygon points="7.400,3.000 7.283,3.283 7.000,3.400 6.717,3.283 6.600,3.000 6.717,2.717 7.000,2.600 7.283,2.717" fill="#fcfcff" stroke="#4438ff" stroke-width="2.3" stroke-linejoin="round" vector-effect="non-scaling-stroke"/>
<polygon points="7.400,3.000 7.283,3.283 7.000,3.400 6.717,3.283 6.600,3.000 6.717,2.717 7.000,2.600 7.283,2.717" fill="none" stroke="#100014" stroke-width="1.6" stroke-linejoin="round" vector-effect="non-scaling-stroke"/>
<polygon points="7.400,4.000 7.283,4.283 7.000,4.400 6.717,4.283 6.600,4.000 6.717,3.717 7.000,3.600 7.283,3.717" fill="#fcfcff" stroke="#4438ff" stroke-width="2.3" stroke-linejoin="round" vector-effect="non-scaling-stroke"/>
<polygon points="7.400,4.000 7.283,4.283 7.000,4.400 6.717,4.283 6.600,4.000 6.717,3.717 7.000,3.600 7.283,3.717" fill="none" stroke="#100014" stroke-width="1.6" stroke-linejoin="round" vector-effect="non-scaling-stroke"/>
<polygon points="7.400,5.000 7.283,5.283 7.000,5.400 6.717,5.283 6.600,5.000 6.717,4.717 7.000,4.600 7.283,4.717" fill="#ececec" stroke="#ff3030" stroke-width="2.35" stroke-linejoin="round" vector-effect="non-scaling-stroke"/>
<polygon points="7.400,5.000 7.283,5.283 7.000,5.400 6.717,5.283 6.600,5.000 6.717,4.717 7.000,4.600 7.283,4.717" fill="none" stroke="#220004" stroke-width="1.6" stroke-linejoin="round" vector-effect="non-scaling-stroke"/>
<polygon points="7.400,6.000 7.283,6.283 7.000,6.400 6.717,6.283 6.600,6.000 6.717,5.717 7.000,5.600 7.283,5.717" fill="#ececec" stroke="#ff3030" stroke-width="2.35" stroke-linejoin="round" vector-effect="non-scaling-stroke"/>
<polygon points="7.400,6.000 7.283,6.283 7.000,6.400 6.717,6.283 6.600,6.000 6.717,5.717 7.000,5.600 7.283,5.717" fill="none" stroke="#220004" stroke-width="1.6" stroke-linejoin="round" vector-effect="non-scaling-stroke"/>
<polygon points="7.400,7.000 7.283,7.283 7.000,7.400 6.717,7.283 6.600,7.000 6.717,6.717 7.000,6.600 7.283,6.717" fill="#ececec" stroke="#ff3030" stroke-width="2.35" stroke-linejoin="round" vector-effect="non-scaling-stroke"/>
<polygon points="7.400,7.000 7.283,7.283 7.000,7.400 6.717,7.283 6.600,7.000 6.717,6.717 7.000,6.600 7.283,6.717" fill="none" stroke="#220004" stroke-width="1.6" stroke-linejoin="round" vector-effect="non-scaling-stroke"/>
<polygon points="7.400,8.000 7.283,8.283 7.000,8.400 6.717,8.283 6.600,8.000 6.717,7.717 7.000,7.600 7.283,7.717" fill="#ececec" stroke="#ff3030" stroke-width="2.35" stroke-linejoin="round" vector-effect="non-scaling-stroke"/>
<polygon points="7.400,8.000 7.283,8.283 7.000,8.400 6.717,8.283 6.600,8.000 6.717,7.717 7.000,7.600 7.283,7.717" fill="none" stroke="#220004" stroke-width="1.6" stroke-linejoin="round" vector-effect="non-scaling-stroke"/>
<polygon points="8.400,0.000 8.283,0.283 8.000,0.400 7.717,0.283 7.600,0.000 7.717,-0.283 8.000,-0.400 8.283,-0.283" fill="#fcfcff" stroke="#4438ff" stroke-width="2.3" stroke-linejoin="round" vector-effect="non-scaling-stroke"/>
<polygon points="8.400,0.000 8.283,0.283 8.000,0.400 7.717,0.283 7.600,0.000 7.717,-0.283 8.000,-0.400 8.283,-0.283" fill="none" stroke="#100014" stroke-width="1.6" stroke-linejoin="round" vector-effect="non-scaling-stroke"/>
<polygon points="8.400,1.000 8.283,1.283 8.000,1.400 7.717,1.283 7.600,1.000 7.717,0.717 8.000,0.600 8.283,0.717" fill="#fcfcff" stroke="#4438ff" stroke-width="2.3" stroke-linejoin="round" vector-effect="non-scaling-stroke"/>
<polygon points="8.400,1.000 8.283,1.283 8.000,1.400 7.717,1.283 7.600,1.000 7.717,0.717 8.000,0.600 8.283,0.717" fill="none" stroke="#100014" stroke-width="1.6" stroke-linejoin="round" vector-effect="non-scaling-stroke"/>
<polygon points="8.400,2.000 8.283,2.283 8.000,2.400 7.717,2.283 7.600,2.000 7.717,1.717 8.000,1.600 8.283,1.717" fill="#fcfcff" stroke="#4438ff" stroke-width="2.3" stroke-linejoin="round" vector-effect="non-scaling-stroke"/>
<polygon points="8.400,2.000 8.283,2.283 8.000,2.400 7.717,2.283 7.600,2.000 7.717,1.717 8.000,1.600 8.283,1.717" fill="none" stroke="#100014" stroke-width="1.6" stroke-linejoin="round" vector-effect="non-scaling-stroke"/>
<polygon points="8.400,3.000 8.283,3.283 8.000,3.400 7.717,3.283 7.600,3.000 7.717,2.717 8.000,2.600 8.283,2.717" fill="#fcfcff" stroke="#4438ff" stroke-width="2.3" stroke-linejoin="round" vector-effect="non-scaling-stroke"/>
<polygon points="8.400,3.000 8.283,3.283 8.000,3.400 7.717,3.283 7.600,3.000 7.717,2.717 8.000,2.600 8.283,2.717" fill="none" stroke="#100014" stroke-width="1.6" stroke-linejoin="round" vector-effect="non-scaling-stroke"/>
<polygon points="8.400,4.000 8.283,4.283 8.000,4.400 7.717,4.283 7.600,4.000 7.717,3.717 8.000,3.600 8.283,3.717" fill="#fcfcff" stroke="#4438ff" stroke-width="2.3" stroke-linejoin="round" vector-effect="non-scaling-stroke"/>
<polygon points="8.400,4.000 8.283,4.283 8.000,4.400 7.717,4.283 7.600,4.000 7.717,3.717 8.000,3.600 8.283,3.717" fill="none" stroke="#100014" stroke-width="1.6" stroke-linejoin="round" vector-effect="non-scaling-stroke"/>
<polygon points="8.400,5.000 8.283,5.283 8.000,5.400 7.717,5.283 7.600,5.000 7.717,4.717 8.000,4.600 8.283,4.717" fill="#ececec" stroke="#ff3030" stroke-width="2.35" stroke-linejoin="round" vector-effect="non-scaling-stroke"/>
<polygon points="8.400,5.000 8.283,5.283 8.000,5.400 7.717,5.283 7.600,5.000 7.717,4.717 8.000,4.600 8.283,4.717" fill="none" stroke="#220004" stroke-width="1.6" stroke-linejoin="round" vector-effect="non-scaling-stroke"/>
<polygon points="8.400,6.000 8.283,6.283 8.000,6.400 7.717,6.283 7.600,6.000 7.717,5.717 8.000,5.600 8.283,5.717" fill="#ececec" stroke="#ff3030" stroke-width="2.35" stroke-linejoin="round" vector-effect="non-scaling-stroke"/>
<polygon points="8.400,6.000 8.283,6.283 8.000,6.400 7.717,6.283 7.600,6.000 7.717,5.717 8.000,5.600 8.283,5.717" fill="none" stroke="#220004" stroke-width="1.6" stroke-linejoin="round" vector-effect="non-scaling-stroke"/>
<polygon points="8.400,7.000 8.283,7.283 8.000,7.400 7.717,7.283 7.600,7.000 7.717,6.717 8.000,6.600 8.283,6.717" fill="#ececec" stroke="#ff3030" stroke-width="2.35" stroke-linejoin="round" vector-effect="non-scaling-stroke"/>
<polygon points="8.400,7.000 8.283,7.283 8.000,7.400 7.717,7.283 7.600,7.000 7.717,6.717 8.000,6.600 8.283,6.717" fill="none" stroke="#220004" stroke-width="1.6" stroke-linejoin="round" vector-effect="non-scaling-stroke"/>
<polygon points="8.400,8.000 8.283,8.283 8.000,8.400 7.717,8.283 7.600,8.000 7.717,7.717 8.000,7.600 8.283,7.717" fill="#ececec" stroke="#ff3030" stroke-width="2.35" stroke-linejoin="round" vector-effect="non-scaling-stroke"/>
<polygon points="8.400,8.000 8.283,8.283 8.000,8.400 7.717,8.283 7.600,8.000 7.717,7.717 8.000,7.600 8.283,7.717" fill="none" stroke="#220004" stroke-width="1.6" stroke-linejoin="round" vector-effect="non-scaling-stroke"/>
</g></g>
<polyline points="482.5,205.1 585.7,261.8 724.3,219.7" fill="none" stroke="#222" stroke-width="1.2"/>
<line x1="534.1" y1="233.5" x2="531.9" y2="236.1" stroke="#222" stroke-width="1"/>
<line x1="655.0" y1="240.8" x2="656.5" y2="243.8" stroke="#222" stroke-width="1"/>
<g transform="matrix(17.33,-5.26,12.9,7.09,564.72,191.15)"><circle r="0.475" fill="#300000"/></g>
<rect x="554.46" y="189.55" width="20.52" height="1.60" fill="#3a0000"/>
<g transform="matrix(17.33,-5.26,12.9,7.09,564.72,189.55)"><circle r="0.475" fill="#3a0000"/></g>
<ellipse cx="564.72" cy="189.25" rx="4.54" ry="1.13" fill="#f4f4f4"/>
<g transform="matrix(17.33,-5.26,12.9,7.09,590.52,205.33)"><circle r="0.475" fill="#300000"/></g>
<rect x="580.26" y="202.53" width="20.52" height="2.80" fill="#3a0000"/>
<g transform="matrix(17.33,-5.26,12.9,7.09,590.52,202.53)"><circle r="0.475" fill="#3a0000"/></g>
<ellipse cx="590.52" cy="202.23" rx="4.54" ry="1.13" fill="#f4f4f4"/>
<g transform="matrix(17.33,-5.26,12.9,7.09,620.75,207.16)"><circle r="0.475" fill="#350000"/></g>
<rect x="610.49" y="188.16" width="20.52" height="19.00" fill="url(#cyl)"/>
<g transform="matrix(17.33,-5.26,12.9,7.09,620.75,188.16)"><circle r="0.475" fill="#d4d4d4"/></g>
<ellipse cx="620.75" cy="187.66" rx="5.83" ry="2.10" fill="#5a0000"/>
<g transform="matrix(17.33,-5.26,12.9,7.09,603.42,212.42)"><circle r="0.475" fill="#440000"/></g>
<rect x="593.16" y="65.72" width="20.52" height="146.70" fill="url(#hot)"/>
<g transform="matrix(17.33,-5.26,12.9,7.09,603.42,65.72)"><circle r="0.475" fill="#c9c9c9"/></g>
<ellipse cx="603.42" cy="65.72" rx="4.75" ry="1.95" fill="#f4f428"/>
<g transform="matrix(17.33,-5.26,12.9,7.09,633.65,214.25)"><circle r="0.475" fill="#350000"/></g>
<rect x="623.39" y="208.25" width="20.52" height="6.00" fill="url(#cyl)"/>
<g transform="matrix(17.33,-5.26,12.9,7.09,633.65,208.25)"><circle r="0.475" fill="#d4d4d4"/></g>
<ellipse cx="633.65" cy="207.75" rx="5.83" ry="2.10" fill="#5a0000"/>
<g transform="matrix(17.33,-5.26,12.9,7.09,586.09,217.68)"><circle r="0.475" fill="#350000"/></g>
<rect x="575.83" y="212.68" width="20.52" height="5.00" fill="url(#cyl)"/>
<g transform="matrix(17.33,-5.26,12.9,7.09,586.09,212.68)"><circle r="0.475" fill="#d4d4d4"/></g>
<ellipse cx="586.09" cy="212.18" rx="5.83" ry="2.10" fill="#5a0000"/>
<g transform="matrix(17.33,-5.26,12.9,7.09,616.32,219.51)"><circle r="0.475" fill="#350000"/></g>
<rect x="606.06" y="206.91" width="20.52" height="12.60" fill="url(#cyl)"/>
<g transform="matrix(17.33,-5.26,12.9,7.09,616.32,206.91)"><circle r="0.475" fill="#d4d4d4"/></g>
<ellipse cx="616.32" cy="206.41" rx="5.83" ry="2.10" fill="#5a0000"/>
<g transform="matrix(17.33,-5.26,12.9,7.09,551.43,228.20)"><circle r="0.475" fill="#300000"/></g>
<rect x="541.17" y="226.20" width="20.52" height="2.00" fill="#3a0000"/>
<g transform="matrix(17.33,-5.26,12.9,7.09,551.43,226.20)"><circle r="0.475" fill="#3a0000"/></g>
<ellipse cx="551.43" cy="225.90" rx="4.54" ry="1.13" fill="#f4f4f4"/>
<text x="485.63" y="269.20" font-family="Liberation Sans" font-size="30.36" textLength="33.17" lengthAdjust="spacingAndGlyphs" fill="#1a1a1a">12</text>
<text x="671.12" y="278.81" font-family="Liberation Sans" font-size="29.24" textLength="31.91" lengthAdjust="spacingAndGlyphs" fill="#1a1a1a">10</text>
<text x="518.28" y="28.52" font-family="Liberation Serif" font-style="italic" font-size="27.65" textLength="15.49" lengthAdjust="spacingAndGlyphs" fill="#000">a</text>
<circle cx="538.70" cy="27.20" r="1.55" fill="#000"/>
<text x="553.06" y="28.10" font-family="Liberation Serif" font-style="italic" font-size="30.55" textLength="18.89" lengthAdjust="spacingAndGlyphs" fill="#000" stroke="#fff" stroke-width="0.45">ϕ</text>
<text x="573.46" y="32.78" font-family="Liberation Serif" font-style="italic" font-size="19.56" textLength="8.83" lengthAdjust="spacingAndGlyphs" fill="#000">y</text>
<line x1="586.40" y1="35.30" x2="597.20" y2="6.20" stroke="#000" stroke-width="1.25"/>
<text x="599.46" y="28.10" font-family="Liberation Serif" font-style="italic" font-size="30.55" textLength="18.89" lengthAdjust="spacingAndGlyphs" fill="#000" stroke="#fff" stroke-width="0.45">ϕ</text>
<text x="618.79" y="32.60" font-family="Liberation Serif" font-style="italic" font-size="19.17" textLength="10.48" lengthAdjust="spacingAndGlyphs" fill="#000">x</text>
<g stroke="#000" stroke-width="1.6"><line x1="641.40" y1="17.50" x2="662.10" y2="17.50"/><line x1="641.40" y1="24.10" x2="662.10" y2="24.10"/></g>
<text x="671.95" y="28.62" font-family="Liberation Serif" font-size="29.02" textLength="15.13" lengthAdjust="spacingAndGlyphs" fill="#000" stroke="#000" stroke-width="0.25">3</text>
<clipPath id="clip280_0"><rect x="0" y="0" width="8" height="8"/></clipPath>
<g transform="matrix(17.33,-5.26,12.9,7.09,762.50,205.10)"><g clip-path="url(#clip280_0)">
<rect x="0" y="0" width="8" height="8" fill="#fafafa"/>
<rect x="-0.5" y="-0.5" width="1.02" height="1.02" fill="#f5f3ff"/>
<rect x="-0.5" y="0.5" width="1.02" height="1.02" fill="#f5f3ff"/>
<rect x="-0.5" y="1.5" width="1.02" height="1.02" fill="#f5f3ff"/>
<rect x="-0.5" y="2.5" width="1.02" height="1.02" fill="#f5f3ff"/>
<rect x="-0.5" y="3.5" width="1.02" height="1.02" fill="#f5f3ff"/>
<rect x="-0.5" y="4.5" width="1.02" height="1.02" fill="#fff1f1"/>
<rect x="-0.5" y="5.5" width="1.02" height="1.02" fill="#fff1f1"/>
<rect x="-0.5" y="6.5" width="1.02" height="1.02" fill="#fff1f1"/>
<rect x="-0.5" y="7.5" width="1.02" height="1.02" fill="#fff1f1"/>
<rect x="0.5" y="-0.5" width="1.02" height="1.02" fill="#f5f3ff"/>
<rect x="0.5" y="0.5" width="1.02" height="1.02" fill="#f5f3ff"/>
<rect x="0.5" y="1.5" width="1.02" height="1.02" fill="#f5f3ff"/>
<rect x="0.5" y="2.5" width="1.02" height="1.02" fill="#f5f3ff"/>
<rect x="0.5" y="3.5" width="1.02" height="1.02" fill="#f5f3ff"/>
<rect x="0.5" y="4.5" width="1.02" height="1.02" fill="#fff1f1"/>
<rect x="0.5" y="5.5" width="1.02" height="1.02" fill="#fff1f1"/>
<rect x="0.5" y="6.5" width="1.02" height="1.02" fill="#fff1f1"/>
<rect x="0.5" y="7.5" width="1.02" height="1.02" fill="#fff1f1"/>
<rect x="1.5" y="-0.5" width="1.02" height="1.02" fill="#f5f3ff"/>
<rect x="1.5" y="0.5" width="1.02" height="1.02" fill="#f5f3ff"/>
<rect x="1.5" y="1.5" width="1.02" height="1.02" fill="#f5f3ff"/>
<rect x="1.5" y="2.5" width="1.02" height="1.02" fill="#f5f3ff"/>
<rect x="1.5" y="3.5" width="1.02" height="1.02" fill="#f5f3ff"/>
<rect x="1.5" y="4.5" width="1.02" height="1.02" fill="#fff1f1"/>
<rect x="1.5" y="5.5" width="1.02" height="1.02" fill="#fff1f1"/>
<rect x="1.5" y="6.5" width="1.02" height="1.02" fill="#fff1f1"/>
<rect x="1.5" y="7.5" width="1.02" height="1.02" fill="#fff1f1"/>
<rect x="2.5" y="-0.5" width="1.02" height="1.02" fill="#f5f3ff"/>
<rect x="2.5" y="0.5" width="1.02" height="1.02" fill="#f5f3ff"/>
<rect x="2.5" y="1.5" width="1.02" height="1.02" fill="#f5f3ff"/>
<rect x="2.5" y="2.5" width="1.02" height="1.02" fill="#f5f3ff"/>
<rect x="2.5" y="3.5" width="1.02" height="1.02" fill="#f5f3ff"/>
<rect x="2.5" y="4.5" width="1.02" height="1.02" fill="#fff1f1"/>
<rect x="2.5" y="5.5" width="1.02" height="1.02" fill="#fff1f1"/>
<rect x="2.5" y="6.5" width="1.02" height="1.02" fill="#fff1f1"/>
<rect x="2.5" y="7.5" width="1.02" height="1.02" fill="#fff1f1"/>
<rect x="3.5" y="-0.5" width="1.02" height="1.02" fill="#f5f3ff"/>
<rect x="3.5" y="0.5" width="1.02" height="1.02" fill="#f5f3ff"/>
<rect x="3.5" y="1.5" width="1.02" height="1.02" fill="#f5f3ff"/>
<rect x="3.5" y="2.5" width="1.02" height="1.02" fill="#f5f3ff"/>
<rect x="3.5" y="3.5" width="1.02" height="1.02" fill="#f5f3ff"/>
<rect x="3.5" y="4.5" width="1.02" height="1.02" fill="#fff1f1"/>
<rect x="3.5" y="5.5" width="1.02" height="1.02" fill="#fff1f1"/>
<rect x="3.5" y="6.5" width="1.02" height="1.02" fill="#fff1f1"/>
<rect x="3.5" y="7.5" width="1.02" height="1.02" fill="#fff1f1"/>
<rect x="4.5" y="-0.5" width="1.02" height="1.02" fill="#fff1f1"/>
<rect x="4.5" y="0.5" width="1.02" height="1.02" fill="#fff1f1"/>
<rect x="4.5" y="1.5" width="1.02" height="1.02" fill="#fff1f1"/>
<rect x="4.5" y="2.5" width="1.02" height="1.02" fill="#fff1f1"/>
<rect x="4.5" y="3.5" width="1.02" height="1.02" fill="#fff1f1"/>
<rect x="4.5" y="4.5" width="1.02" height="1.02" fill="#f5f3ff"/>
<rect x="4.5" y="5.5" width="1.02" height="1.02" fill="#f5f3ff"/>
<rect x="4.5" y="6.5" width="1.02" height="1.02" fill="#f5f3ff"/>
<rect x="4.5" y="7.5" width="1.02" height="1.02" fill="#f5f3ff"/>
<rect x="5.5" y="-0.5" width="1.02" height="1.02" fill="#fff1f1"/>
<rect x="5.5" y="0.5" width="1.02" height="1.02" fill="#fff1f1"/>
<rect x="5.5" y="1.5" width="1.02" height="1.02" fill="#fff1f1"/>
<rect x="5.5" y="2.5" width="1.02" height="1.02" fill="#fff1f1"/>
<rect x="5.5" y="3.5" width="1.02" height="1.02" fill="#fff1f1"/>
<rect x="5.5" y="4.5" width="1.02" height="1.02" fill="#f5f3ff"/>
<rect x="5.5" y="5.5" width="1.02" height="1.02" fill="#f5f3ff"/>
<rect x="5.5" y="6.5" width="1.02" height="1.02" fill="#f5f3ff"/>
<rect x="5.5" y="7.5" width="1.02" height="1.02" fill="#f5f3ff"/>
<rect x="6.5" y="-0.5" width="1.02" height="1.02" fill="#fff1f1"/>
<rect x="6.5" y="0.5" width="1.02" height="1.02" fill="#fff1f1"/>
<rect x="6.5" y="1.5" width="1.02" height="1.02" fill="#fff1f1"/>
<rect x="6.5" y="2.5" width="1.02" height="1.02" fill="#fff1f1"/>
<rect x="6.5" y="3.5" width="1.02" height="1.02" fill="#fff1f1"/>
<rect x="6.5" y="4.5" width="1.02" height="1.02" fill="#f5f3ff"/>
<rect x="6.5" y="5.5" width="1.02" height="1.02" fill="#f5f3ff"/>
<rect x="6.5" y="6.5" width="1.02" height="1.02" fill="#f5f3ff"/>
<rect x="6.5" y="7.5" width="1.02" height="1.02" fill="#f5f3ff"/>
<rect x="7.5" y="-0.5" width="1.02" height="1.02" fill="#fff1f1"/>
<rect x="7.5" y="0.5" width="1.02" height="1.02" fill="#fff1f1"/>
<rect x="7.5" y="1.5" width="1.02" height="1.02" fill="#fff1f1"/>
<rect x="7.5" y="2.5" width="1.02" height="1.02" fill="#fff1f1"/>
<rect x="7.5" y="3.5" width="1.02" height="1.02" fill="#fff1f1"/>
<rect x="7.5" y="4.5" width="1.02" height="1.02" fill="#f5f3ff"/>
<rect x="7.5" y="5.5" width="1.02" height="1.02" fill="#f5f3ff"/>
<rect x="7.5" y="6.5" width="1.02" height="1.02" fill="#f5f3ff"/>
<rect x="7.5" y="7.5" width="1.02" height="1.02" fill="#f5f3ff"/>
<polygon points="0.400,0.000 0.283,0.283 0.000,0.400 -0.283,0.283 -0.400,0.000 -0.283,-0.283 -0.000,-0.400 0.283,-0.283" fill="#fcfcff" stroke="#4438ff" stroke-width="2.3" stroke-linejoin="round" vector-effect="non-scaling-stroke"/>
<polygon points="0.400,0.000 0.283,0.283 0.000,0.400 -0.283,0.283 -0.400,0.000 -0.283,-0.283 -0.000,-0.400 0.283,-0.283" fill="none" stroke="#100014" stroke-width="1.6" stroke-linejoin="round" vector-effect="non-scaling-stroke"/>
<polygon points="0.400,1.000 0.283,1.283 0.000,1.400 -0.283,1.283 -0.400,1.000 -0.283,0.717 -0.000,0.600 0.283,0.717" fill="#fcfcff" stroke="#4438ff" stroke-width="2.3" stroke-linejoin="round" vector-effect="non-scaling-stroke"/>
<polygon points="0.400,1.000 0.283,1.283 0.000,1.400 -0.283,1.283 -0.400,1.000 -0.283,0.717 -0.000,0.600 0.283,0.717" fill="none" stroke="#100014" stroke-width="1.6" stroke-linejoin="round" vector-effect="non-scaling-stroke"/>
<polygon points="0.400,2.000 0.283,2.283 0.000,2.400 -0.283,2.283 -0.400,2.000 -0.283,1.717 -0.000,1.600 0.283,1.717" fill="#fcfcff" stroke="#4438ff" stroke-width="2.3" stroke-linejoin="round" vector-effect="non-scaling-stroke"/>
<polygon points="0.400,2.000 0.283,2.283 0.000,2.400 -0.283,2.283 -0.400,2.000 -0.283,1.717 -0.000,1.600 0.283,1.717" fill="none" stroke="#100014" stroke-width="1.6" stroke-linejoin="round" vector-effect="non-scaling-stroke"/>
<polygon points="0.400,3.000 0.283,3.283 0.000,3.400 -0.283,3.283 -0.400,3.000 -0.283,2.717 -0.000,2.600 0.283,2.717" fill="#fcfcff" stroke="#4438ff" stroke-width="2.3" stroke-linejoin="round" vector-effect="non-scaling-stroke"/>
<polygon points="0.400,3.000 0.283,3.283 0.000,3.400 -0.283,3.283 -0.400,3.000 -0.283,2.717 -0.000,2.600 0.283,2.717" fill="none" stroke="#100014" stroke-width="1.6" stroke-linejoin="round" vector-effect="non-scaling-stroke"/>
<polygon points="0.400,4.000 0.283,4.283 0.000,4.400 -0.283,4.283 -0.400,4.000 -0.283,3.717 -0.000,3.600 0.283,3.717" fill="#fcfcff" stroke="#4438ff" stroke-width="2.3" stroke-linejoin="round" vector-effect="non-scaling-stroke"/>
<polygon points="0.400,4.000 0.283,4.283 0.000,4.400 -0.283,4.283 -0.400,4.000 -0.283,3.717 -0.000,3.600 0.283,3.717" fill="none" stroke="#100014" stroke-width="1.6" stroke-linejoin="round" vector-effect="non-scaling-stroke"/>
<polygon points="0.400,5.000 0.283,5.283 0.000,5.400 -0.283,5.283 -0.400,5.000 -0.283,4.717 -0.000,4.600 0.283,4.717" fill="#ececec" stroke="#ff3030" stroke-width="2.35" stroke-linejoin="round" vector-effect="non-scaling-stroke"/>
<polygon points="0.400,5.000 0.283,5.283 0.000,5.400 -0.283,5.283 -0.400,5.000 -0.283,4.717 -0.000,4.600 0.283,4.717" fill="none" stroke="#220004" stroke-width="1.6" stroke-linejoin="round" vector-effect="non-scaling-stroke"/>
<polygon points="0.400,6.000 0.283,6.283 0.000,6.400 -0.283,6.283 -0.400,6.000 -0.283,5.717 -0.000,5.600 0.283,5.717" fill="#ececec" stroke="#ff3030" stroke-width="2.35" stroke-linejoin="round" vector-effect="non-scaling-stroke"/>
<polygon points="0.400,6.000 0.283,6.283 0.000,6.400 -0.283,6.283 -0.400,6.000 -0.283,5.717 -0.000,5.600 0.283,5.717" fill="none" stroke="#220004" stroke-width="1.6" stroke-linejoin="round" vector-effect="non-scaling-stroke"/>
<polygon points="0.400,7.000 0.283,7.283 0.000,7.400 -0.283,7.283 -0.400,7.000 -0.283,6.717 -0.000,6.600 0.283,6.717" fill="#ececec" stroke="#ff3030" stroke-width="2.35" stroke-linejoin="round" vector-effect="non-scaling-stroke"/>
<polygon points="0.400,7.000 0.283,7.283 0.000,7.400 -0.283,7.283 -0.400,7.000 -0.283,6.717 -0.000,6.600 0.283,6.717" fill="none" stroke="#220004" stroke-width="1.6" stroke-linejoin="round" vector-effect="non-scaling-stroke"/>
<polygon points="0.400,8.000 0.283,8.283 0.000,8.400 -0.283,8.283 -0.400,8.000 -0.283,7.717 -0.000,7.600 0.283,7.717" fill="#ececec" stroke="#ff3030" stroke-width="2.35" stroke-linejoin="round" vector-effect="non-scaling-stroke"/>
<polygon points="0.400,8.000 0.283,8.283 0.000,8.400 -0.283,8.283 -0.400,8.000 -0.283,7.717 -0.000,7.600 0.283,7.717" fill="none" stroke="#220004" stroke-width="1.6" stroke-linejoin="round" vector-effect="non-scaling-stroke"/>
<polygon points="1.400,0.000 1.283,0.283 1.000,0.400 0.717,0.283 0.600,0.000 0.717,-0.283 1.000,-0.400 1.283,-0.283" fill="#fcfcff" stroke="#4438ff" stroke-width="2.3" stroke-linejoin="round" vector-effect="non-scaling-stroke"/>
<polygon points="1.400,0.000 1.283,0.283 1.000,0.400 0.717,0.283 0.600,0.000 0.717,-0.283 1.000,-0.400 1.283,-0.283" fill="none" stroke="#100014" stroke-width="1.6" stroke-linejoin="round" vector-effect="non-scaling-stroke"/>
<polygon points="1.400,1.000 1.283,1.283 1.000,1.400 0.717,1.283 0.600,1.000 0.717,0.717 1.000,0.600 1.283,0.717" fill="#fcfcff" stroke="#4438ff" stroke-width="2.3" stroke-linejoin="round" vector-effect="non-scaling-stroke"/>
<polygon points="1.400,1.000 1.283,1.283 1.000,1.400 0.717,1.283 0.600,1.000 0.717,0.717 1.000,0.600 1.283,0.717" fill="none" stroke="#100014" stroke-width="1.6" stroke-linejoin="round" vector-effect="non-scaling-stroke"/>
<polygon points="1.400,2.000 1.283,2.283 1.000,2.400 0.717,2.283 0.600,2.000 0.717,1.717 1.000,1.600 1.283,1.717" fill="#fcfcff" stroke="#4438ff" stroke-width="2.3" stroke-linejoin="round" vector-effect="non-scaling-stroke"/>
<polygon points="1.400,2.000 1.283,2.283 1.000,2.400 0.717,2.283 0.600,2.000 0.717,1.717 1.000,1.600 1.283,1.717" fill="none" stroke="#100014" stroke-width="1.6" stroke-linejoin="round" vector-effect="non-scaling-stroke"/>
<polygon points="1.400,3.000 1.283,3.283 1.000,3.400 0.717,3.283 0.600,3.000 0.717,2.717 1.000,2.600 1.283,2.717" fill="#fcfcff" stroke="#4438ff" stroke-width="2.3" stroke-linejoin="round" vector-effect="non-scaling-stroke"/>
<polygon points="1.400,3.000 1.283,3.283 1.000,3.400 0.717,3.283 0.600,3.000 0.717,2.717 1.000,2.600 1.283,2.717" fill="none" stroke="#100014" stroke-width="1.6" stroke-linejoin="round" vector-effect="non-scaling-stroke"/>
<polygon points="1.400,4.000 1.283,4.283 1.000,4.400 0.717,4.283 0.600,4.000 0.717,3.717 1.000,3.600 1.283,3.717" fill="#fcfcff" stroke="#4438ff" stroke-width="2.3" stroke-linejoin="round" vector-effect="non-scaling-stroke"/>
<polygon points="1.400,4.000 1.283,4.283 1.000,4.400 0.717,4.283 0.600,4.000 0.717,3.717 1.000,3.600 1.283,3.717" fill="none" stroke="#100014" stroke-width="1.6" stroke-linejoin="round" vector-effect="non-scaling-stroke"/>
<polygon points="1.400,5.000 1.283,5.283 1.000,5.400 0.717,5.283 0.600,5.000 0.717,4.717 1.000,4.600 1.283,4.717" fill="#ececec" stroke="#ff3030" stroke-width="2.35" stroke-linejoin="round" vector-effect="non-scaling-stroke"/>
<polygon points="1.400,5.000 1.283,5.283 1.000,5.400 0.717,5.283 0.600,5.000 0.717,4.717 1.000,4.600 1.283,4.717" fill="none" stroke="#220004" stroke-width="1.6" stroke-linejoin="round" vector-effect="non-scaling-stroke"/>
<polygon points="1.400,6.000 1.283,6.283 1.000,6.400 0.717,6.283 0.600,6.000 0.717,5.717 1.000,5.600 1.283,5.717" fill="#ececec" stroke="#ff3030" stroke-width="2.35" stroke-linejoin="round" vector-effect="non-scaling-stroke"/>
<polygon points="1.400,6.000 1.283,6.283 1.000,6.400 0.717,6.283 0.600,6.000 0.717,5.717 1.000,5.600 1.283,5.717" fill="none" stroke="#220004" stroke-width="1.6" stroke-linejoin="round" vector-effect="non-scaling-stroke"/>
<polygon points="1.400,7.000 1.283,7.283 1.000,7.400 0.717,7.283 0.600,7.000 0.717,6.717 1.000,6.600 1.283,6.717" fill="#ececec" stroke="#ff3030" stroke-width="2.35" stroke-linejoin="round" vector-effect="non-scaling-stroke"/>
<polygon points="1.400,7.000 1.283,7.283 1.000,7.400 0.717,7.283 0.600,7.000 0.717,6.717 1.000,6.600 1.283,6.717" fill="none" stroke="#220004" stroke-width="1.6" stroke-linejoin="round" vector-effect="non-scaling-stroke"/>
<polygon points="1.400,8.000 1.283,8.283 1.000,8.400 0.717,8.283 0.600,8.000 0.717,7.717 1.000,7.600 1.283,7.717" fill="#ececec" stroke="#ff3030" stroke-width="2.35" stroke-linejoin="round" vector-effect="non-scaling-stroke"/>
<polygon points="1.400,8.000 1.283,8.283 1.000,8.400 0.717,8.283 0.600,8.000 0.717,7.717 1.000,7.600 1.283,7.717" fill="none" stroke="#220004" stroke-width="1.6" stroke-linejoin="round" vector-effect="non-scaling-stroke"/>
<polygon points="2.400,0.000 2.283,0.283 2.000,0.400 1.717,0.283 1.600,0.000 1.717,-0.283 2.000,-0.400 2.283,-0.283" fill="#fcfcff" stroke="#4438ff" stroke-width="2.3" stroke-linejoin="round" vector-effect="non-scaling-stroke"/>
<polygon points="2.400,0.000 2.283,0.283 2.000,0.400 1.717,0.283 1.600,0.000 1.717,-0.283 2.000,-0.400 2.283,-0.283" fill="none" stroke="#100014" stroke-width="1.6" stroke-linejoin="round" vector-effect="non-scaling-stroke"/>
<polygon points="2.400,1.000 2.283,1.283 2.000,1.400 1.717,1.283 1.600,1.000 1.717,0.717 2.000,0.600 2.283,0.717" fill="#fcfcff" stroke="#4438ff" stroke-width="2.3" stroke-linejoin="round" vector-effect="non-scaling-stroke"/>
<polygon points="2.400,1.000 2.283,1.283 2.000,1.400 1.717,1.283 1.600,1.000 1.717,0.717 2.000,0.600 2.283,0.717" fill="none" stroke="#100014" stroke-width="1.6" stroke-linejoin="round" vector-effect="non-scaling-stroke"/>
<polygon points="2.400,2.000 2.283,2.283 2.000,2.400 1.717,2.283 1.600,2.000 1.717,1.717 2.000,1.600 2.283,1.717" fill="#fcfcff" stroke="#4438ff" stroke-width="2.3" stroke-linejoin="round" vector-effect="non-scaling-stroke"/>
<polygon points="2.400,2.000 2.283,2.283 2.000,2.400 1.717,2.283 1.600,2.000 1.717,1.717 2.000,1.600 2.283,1.717" fill="none" stroke="#100014" stroke-width="1.6" stroke-linejoin="round" vector-effect="non-scaling-stroke"/>
<polygon points="2.400,3.000 2.283,3.283 2.000,3.400 1.717,3.283 1.600,3.000 1.717,2.717 2.000,2.600 2.283,2.717" fill="#fcfcff" stroke="#4438ff" stroke-width="2.3" stroke-linejoin="round" vector-effect="non-scaling-stroke"/>
<polygon points="2.400,3.000 2.283,3.283 2.000,3.400 1.717,3.283 1.600,3.000 1.717,2.717 2.000,2.600 2.283,2.717" fill="none" stroke="#100014" stroke-width="1.6" stroke-linejoin="round" vector-effect="non-scaling-stroke"/>
<polygon points="2.400,4.000 2.283,4.283 2.000,4.400 1.717,4.283 1.600,4.000 1.717,3.717 2.000,3.600 2.283,3.717" fill="#fcfcff" stroke="#4438ff" stroke-width="2.3" stroke-linejoin="round" vector-effect="non-scaling-stroke"/>
<polygon points="2.400,4.000 2.283,4.283 2.000,4.400 1.717,4.283 1.600,4.000 1.717,3.717 2.000,3.600 2.283,3.717" fill="none" stroke="#100014" stroke-width="1.6" stroke-linejoin="round" vector-effect="non-scaling-stroke"/>
<polygon points="2.400,5.000 2.283,5.283 2.000,5.400 1.717,5.283 1.600,5.000 1.717,4.717 2.000,4.600 2.283,4.717" fill="#ececec" stroke="#ff3030" stroke-width="2.35" stroke-linejoin="round" vector-effect="non-scaling-stroke"/>
<polygon points="2.400,5.000 2.283,5.283 2.000,5.400 1.717,5.283 1.600,5.000 1.717,4.717 2.000,4.600 2.283,4.717" fill="none" stroke="#220004" stroke-width="1.6" stroke-linejoin="round" vector-effect="non-scaling-stroke"/>
<polygon points="2.400,6.000 2.283,6.283 2.000,6.400 1.717,6.283 1.600,6.000 1.717,5.717 2.000,5.600 2.283,5.717" fill="#ececec" stroke="#ff3030" stroke-width="2.35" stroke-linejoin="round" vector-effect="non-scaling-stroke"/>
<polygon points="2.400,6.000 2.283,6.283 2.000,6.400 1.717,6.283 1.600,6.000 1.717,5.717 2.000,5.600 2.283,5.717" fill="none" stroke="#220004" stroke-width="1.6" stroke-linejoin="round" vector-effect="non-scaling-stroke"/>
<polygon points="2.400,7.000 2.283,7.283 2.000,7.400 1.717,7.283 1.600,7.000 1.717,6.717 2.000,6.600 2.283,6.717" fill="#ececec" stroke="#ff3030" stroke-width="2.35" stroke-linejoin="round" vector-effect="non-scaling-stroke"/>
<polygon points="2.400,7.000 2.283,7.283 2.000,7.400 1.717,7.283 1.600,7.000 1.717,6.717 2.000,6.600 2.283,6.717" fill="none" stroke="#220004" stroke-width="1.6" stroke-linejoin="round" vector-effect="non-scaling-stroke"/>
<polygon points="2.400,8.000 2.283,8.283 2.000,8.400 1.717,8.283 1.600,8.000 1.717,7.717 2.000,7.600 2.283,7.717" fill="#ececec" stroke="#ff3030" stroke-width="2.35" stroke-linejoin="round" vector-effect="non-scaling-stroke"/>
<polygon points="2.400,8.000 2.283,8.283 2.000,8.400 1.717,8.283 1.600,8.000 1.717,7.717 2.000,7.600 2.283,7.717" fill="none" stroke="#220004" stroke-width="1.6" stroke-linejoin="round" vector-effect="non-scaling-stroke"/>
<polygon points="3.400,0.000 3.283,0.283 3.000,0.400 2.717,0.283 2.600,0.000 2.717,-0.283 3.000,-0.400 3.283,-0.283" fill="#fcfcff" stroke="#4438ff" stroke-width="2.3" stroke-linejoin="round" vector-effect="non-scaling-stroke"/>
<polygon points="3.400,0.000 3.283,0.283 3.000,0.400 2.717,0.283 2.600,0.000 2.717,-0.283 3.000,-0.400 3.283,-0.283" fill="none" stroke="#100014" stroke-width="1.6" stroke-linejoin="round" vector-effect="non-scaling-stroke"/>
<polygon points="3.400,1.000 3.283,1.283 3.000,1.400 2.717,1.283 2.600,1.000 2.717,0.717 3.000,0.600 3.283,0.717" fill="#fcfcff" stroke="#4438ff" stroke-width="2.3" stroke-linejoin="round" vector-effect="non-scaling-stroke"/>
<polygon points="3.400,1.000 3.283,1.283 3.000,1.400 2.717,1.283 2.600,1.000 2.717,0.717 3.000,0.600 3.283,0.717" fill="none" stroke="#100014" stroke-width="1.6" stroke-linejoin="round" vector-effect="non-scaling-stroke"/>
<polygon points="3.400,2.000 3.283,2.283 3.000,2.400 2.717,2.283 2.600,2.000 2.717,1.717 3.000,1.600 3.283,1.717" fill="#fcfcff" stroke="#4438ff" stroke-width="2.3" stroke-linejoin="round" vector-effect="non-scaling-stroke"/>
<polygon points="3.400,2.000 3.283,2.283 3.000,2.400 2.717,2.283 2.600,2.000 2.717,1.717 3.000,1.600 3.283,1.717" fill="none" stroke="#100014" stroke-width="1.6" stroke-linejoin="round" vector-effect="non-scaling-stroke"/>
<polygon points="3.400,3.000 3.283,3.283 3.000,3.400 2.717,3.283 2.600,3.000 2.717,2.717 3.000,2.600 3.283,2.717" fill="#fcfcff" stroke="#4438ff" stroke-width="2.3" stroke-linejoin="round" vector-effect="non-scaling-stroke"/>
<polygon points="3.400,3.000 3.283,3.283 3.000,3.400 2.717,3.283 2.600,3.000 2.717,2.717 3.000,2.600 3.283,2.717" fill="none" stroke="#100014" stroke-width="1.6" stroke-linejoin="round" vector-effect="non-scaling-stroke"/>
<polygon points="3.400,4.000 3.283,4.283 3.000,4.400 2.717,4.283 2.600,4.000 2.717,3.717 3.000,3.600 3.283,3.717" fill="#fcfcff" stroke="#4438ff" stroke-width="2.3" stroke-linejoin="round" vector-effect="non-scaling-stroke"/>
<polygon points="3.400,4.000 3.283,4.283 3.000,4.400 2.717,4.283 2.600,4.000 2.717,3.717 3.000,3.600 3.283,3.717" fill="none" stroke="#100014" stroke-width="1.6" stroke-linejoin="round" vector-effect="non-scaling-stroke"/>
<polygon points="3.400,5.000 3.283,5.283 3.000,5.400 2.717,5.283 2.600,5.000 2.717,4.717 3.000,4.600 3.283,4.717" fill="#ececec" stroke="#ff3030" stroke-width="2.35" stroke-linejoin="round" vector-effect="non-scaling-stroke"/>
<polygon points="3.400,5.000 3.283,5.283 3.000,5.400 2.717,5.283 2.600,5.000 2.717,4.717 3.000,4.600 3.283,4.717" fill="none" stroke="#220004" stroke-width="1.6" stroke-linejoin="round" vector-effect="non-scaling-stroke"/>
<polygon points="3.400,6.000 3.283,6.283 3.000,6.400 2.717,6.283 2.600,6.000 2.717,5.717 3.000,5.600 3.283,5.717" fill="#ececec" stroke="#ff3030" stroke-width="2.35" stroke-linejoin="round" vector-effect="non-scaling-stroke"/>
<polygon points="3.400,6.000 3.283,6.283 3.000,6.400 2.717,6.283 2.600,6.000 2.717,5.717 3.000,5.600 3.283,5.717" fill="none" stroke="#220004" stroke-width="1.6" stroke-linejoin="round" vector-effect="non-scaling-stroke"/>
<polygon points="3.400,7.000 3.283,7.283 3.000,7.400 2.717,7.283 2.600,7.000 2.717,6.717 3.000,6.600 3.283,6.717" fill="#ececec" stroke="#ff3030" stroke-width="2.35" stroke-linejoin="round" vector-effect="non-scaling-stroke"/>
<polygon points="3.400,7.000 3.283,7.283 3.000,7.400 2.717,7.283 2.600,7.000 2.717,6.717 3.000,6.600 3.283,6.717" fill="none" stroke="#220004" stroke-width="1.6" stroke-linejoin="round" vector-effect="non-scaling-stroke"/>
<polygon points="3.400,8.000 3.283,8.283 3.000,8.400 2.717,8.283 2.600,8.000 2.717,7.717 3.000,7.600 3.283,7.717" fill="#ececec" stroke="#ff3030" stroke-width="2.35" stroke-linejoin="round" vector-effect="non-scaling-stroke"/>
<polygon points="3.400,8.000 3.283,8.283 3.000,8.400 2.717,8.283 2.600,8.000 2.717,7.717 3.000,7.600 3.283,7.717" fill="none" stroke="#220004" stroke-width="1.6" stroke-linejoin="round" vector-effect="non-scaling-stroke"/>
<polygon points="4.400,0.000 4.283,0.283 4.000,0.400 3.717,0.283 3.600,0.000 3.717,-0.283 4.000,-0.400 4.283,-0.283" fill="#fcfcff" stroke="#4438ff" stroke-width="2.3" stroke-linejoin="round" vector-effect="non-scaling-stroke"/>
<polygon points="4.400,0.000 4.283,0.283 4.000,0.400 3.717,0.283 3.600,0.000 3.717,-0.283 4.000,-0.400 4.283,-0.283" fill="none" stroke="#100014" stroke-width="1.6" stroke-linejoin="round" vector-effect="non-scaling-stroke"/>
<polygon points="4.400,1.000 4.283,1.283 4.000,1.400 3.717,1.283 3.600,1.000 3.717,0.717 4.000,0.600 4.283,0.717" fill="#fcfcff" stroke="#4438ff" stroke-width="2.3" stroke-linejoin="round" vector-effect="non-scaling-stroke"/>
<polygon points="4.400,1.000 4.283,1.283 4.000,1.400 3.717,1.283 3.600,1.000 3.717,0.717 4.000,0.600 4.283,0.717" fill="none" stroke="#100014" stroke-width="1.6" stroke-linejoin="round" vector-effect="non-scaling-stroke"/>
<polygon points="4.400,2.000 4.283,2.283 4.000,2.400 3.717,2.283 3.600,2.000 3.717,1.717 4.000,1.600 4.283,1.717" fill="#fcfcff" stroke="#4438ff" stroke-width="2.3" stroke-linejoin="round" vector-effect="non-scaling-stroke"/>
<polygon points="4.400,2.000 4.283,2.283 4.000,2.400 3.717,2.283 3.600,2.000 3.717,1.717 4.000,1.600 4.283,1.717" fill="none" stroke="#100014" stroke-width="1.6" stroke-linejoin="round" vector-effect="non-scaling-stroke"/>
<polygon points="4.400,3.000 4.283,3.283 4.000,3.400 3.717,3.283 3.600,3.000 3.717,2.717 4.000,2.600 4.283,2.717" fill="#fcfcff" stroke="#4438ff" stroke-width="2.3" stroke-linejoin="round" vector-effect="non-scaling-stroke"/>
<polygon points="4.400,3.000 4.283,3.283 4.000,3.400 3.717,3.283 3.600,3.000 3.717,2.717 4.000,2.600 4.283,2.717" fill="none" stroke="#100014" stroke-width="1.6" stroke-linejoin="round" vector-effect="non-scaling-stroke"/>
<polygon points="4.400,4.000 4.283,4.283 4.000,4.400 3.717,4.283 3.600,4.000 3.717,3.717 4.000,3.600 4.283,3.717" fill="#fcfcff" stroke="#4438ff" stroke-width="2.3" stroke-linejoin="round" vector-effect="non-scaling-stroke"/>
<polygon points="4.400,4.000 4.283,4.283 4.000,4.400 3.717,4.283 3.600,4.000 3.717,3.717 4.000,3.600 4.283,3.717" fill="none" stroke="#100014" stroke-width="1.6" stroke-linejoin="round" vector-effect="non-scaling-stroke"/>
<polygon points="4.400,5.000 4.283,5.283 4.000,5.400 3.717,5.283 3.600,5.000 3.717,4.717 4.000,4.600 4.283,4.717" fill="#ececec" stroke="#ff3030" stroke-width="2.35" stroke-linejoin="round" vector-effect="non-scaling-stroke"/>
<polygon points="4.400,5.000 4.283,5.283 4.000,5.400 3.717,5.283 3.600,5.000 3.717,4.717 4.000,4.600 4.283,4.717" fill="none" stroke="#220004" stroke-width="1.6" stroke-linejoin="round" vector-effect="non-scaling-stroke"/>
<polygon points="4.400,6.000 4.283,6.283 4.000,6.400 3.717,6.283 3.600,6.000 3.717,5.717 4.000,5.600 4.283,5.717" fill="#ececec" stroke="#ff3030" stroke-width="2.35" stroke-linejoin="round" vector-effect="non-scaling-stroke"/>
<polygon points="4.400,6.000 4.283,6.283 4.000,6.400 3.717,6.283 3.600,6.000 3.717,5.717 4.000,5.600 4.283,5.717" fill="none" stroke="#220004" stroke-width="1.6" stroke-linejoin="round" vector-effect="non-scaling-stroke"/>
<polygon points="4.400,7.000 4.283,7.283 4.000,7.400 3.717,7.283 3.600,7.000 3.717,6.717 4.000,6.600 4.283,6.717" fill="#ececec" stroke="#ff3030" stroke-width="2.35" stroke-linejoin="round" vector-effect="non-scaling-stroke"/>
<polygon points="4.400,7.000 4.283,7.283 4.000,7.400 3.717,7.283 3.600,7.000 3.717,6.717 4.000,6.600 4.283,6.717" fill="none" stroke="#220004" stroke-width="1.6" stroke-linejoin="round" vector-effect="non-scaling-stroke"/>
<polygon points="4.400,8.000 4.283,8.283 4.000,8.400 3.717,8.283 3.600,8.000 3.717,7.717 4.000,7.600 4.283,7.717" fill="#ececec" stroke="#ff3030" stroke-width="2.35" stroke-linejoin="round" vector-effect="non-scaling-stroke"/>
<polygon points="4.400,8.000 4.283,8.283 4.000,8.400 3.717,8.283 3.600,8.000 3.717,7.717 4.000,7.600 4.283,7.717" fill="none" stroke="#220004" stroke-width="1.6" stroke-linejoin="round" vector-effect="non-scaling-stroke"/>
<polygon points="5.400,0.000 5.283,0.283 5.000,0.400 4.717,0.283 4.600,0.000 4.717,-0.283 5.000,-0.400 5.283,-0.283" fill="#ececec" stroke="#ff3030" stroke-width="2.35" stroke-linejoin="round" vector-effect="non-scaling-stroke"/>
<polygon points="5.400,0.000 5.283,0.283 5.000,0.400 4.717,0.283 4.600,0.000 4.717,-0.283 5.000,-0.400 5.283,-0.283" fill="none" stroke="#220004" stroke-width="1.6" stroke-linejoin="round" vector-effect="non-scaling-stroke"/>
<polygon points="5.400,1.000 5.283,1.283 5.000,1.400 4.717,1.283 4.600,1.000 4.717,0.717 5.000,0.600 5.283,0.717" fill="#ececec" stroke="#ff3030" stroke-width="2.35" stroke-linejoin="round" vector-effect="non-scaling-stroke"/>
<polygon points="5.400,1.000 5.283,1.283 5.000,1.400 4.717,1.283 4.600,1.000 4.717,0.717 5.000,0.600 5.283,0.717" fill="none" stroke="#220004" stroke-width="1.6" stroke-linejoin="round" vector-effect="non-scaling-stroke"/>
<polygon points="5.400,2.000 5.283,2.283 5.000,2.400 4.717,2.283 4.600,2.000 4.717,1.717 5.000,1.600 5.283,1.717" fill="#ececec" stroke="#ff3030" stroke-width="2.35" stroke-linejoin="round" vector-effect="non-scaling-stroke"/>
<polygon points="5.400,2.000 5.283,2.283 5.000,2.400 4.717,2.283 4.600,2.000 4.717,1.717 5.000,1.600 5.283,1.717" fill="none" stroke="#220004" stroke-width="1.6" stroke-linejoin="round" vector-effect="non-scaling-stroke"/>
<polygon points="5.400,3.000 5.283,3.283 5.000,3.400 4.717,3.283 4.600,3.000 4.717,2.717 5.000,2.600 5.283,2.717" fill="#ececec" stroke="#ff3030" stroke-width="2.35" stroke-linejoin="round" vector-effect="non-scaling-stroke"/>
<polygon points="5.400,3.000 5.283,3.283 5.000,3.400 4.717,3.283 4.600,3.000 4.717,2.717 5.000,2.600 5.283,2.717" fill="none" stroke="#220004" stroke-width="1.6" stroke-linejoin="round" vector-effect="non-scaling-stroke"/>
<polygon points="5.400,4.000 5.283,4.283 5.000,4.400 4.717,4.283 4.600,4.000 4.717,3.717 5.000,3.600 5.283,3.717" fill="#ececec" stroke="#ff3030" stroke-width="2.35" stroke-linejoin="round" vector-effect="non-scaling-stroke"/>
<polygon points="5.400,4.000 5.283,4.283 5.000,4.400 4.717,4.283 4.600,4.000 4.717,3.717 5.000,3.600 5.283,3.717" fill="none" stroke="#220004" stroke-width="1.6" stroke-linejoin="round" vector-effect="non-scaling-stroke"/>
<polygon points="5.400,5.000 5.283,5.283 5.000,5.400 4.717,5.283 4.600,5.000 4.717,4.717 5.000,4.600 5.283,4.717" fill="#fcfcff" stroke="#4438ff" stroke-width="2.3" stroke-linejoin="round" vector-effect="non-scaling-stroke"/>
<polygon points="5.400,5.000 5.283,5.283 5.000,5.400 4.717,5.283 4.600,5.000 4.717,4.717 5.000,4.600 5.283,4.717" fill="none" stroke="#100014" stroke-width="1.6" stroke-linejoin="round" vector-effect="non-scaling-stroke"/>
<polygon points="5.400,6.000 5.283,6.283 5.000,6.400 4.717,6.283 4.600,6.000 4.717,5.717 5.000,5.600 5.283,5.717" fill="#fcfcff" stroke="#4438ff" stroke-width="2.3" stroke-linejoin="round" vector-effect="non-scaling-stroke"/>
<polygon points="5.400,6.000 5.283,6.283 5.000,6.400 4.717,6.283 4.600,6.000 4.717,5.717 5.000,5.600 5.283,5.717" fill="none" stroke="#100014" stroke-width="1.6" stroke-linejoin="round" vector-effect="non-scaling-stroke"/>
<polygon points="5.400,7.000 5.283,7.283 5.000,7.400 4.717,7.283 4.600,7.000 4.717,6.717 5.000,6.600 5.283,6.717" fill="#fcfcff" stroke="#4438ff" stroke-width="2.3" stroke-linejoin="round" vector-effect="non-scaling-stroke"/>
<polygon points="5.400,7.000 5.283,7.283 5.000,7.400 4.717,7.283 4.600,7.000 4.717,6.717 5.000,6.600 5.283,6.717" fill="none" stroke="#100014" stroke-width="1.6" stroke-linejoin="round" vector-effect="non-scaling-stroke"/>
<polygon points="5.400,8.000 5.283,8.283 5.000,8.400 4.717,8.283 4.600,8.000 4.717,7.717 5.000,7.600 5.283,7.717" fill="#fcfcff" stroke="#4438ff" stroke-width="2.3" stroke-linejoin="round" vector-effect="non-scaling-stroke"/>
<polygon points="5.400,8.000 5.283,8.283 5.000,8.400 4.717,8.283 4.600,8.000 4.717,7.717 5.000,7.600 5.283,7.717" fill="none" stroke="#100014" stroke-width="1.6" stroke-linejoin="round" vector-effect="non-scaling-stroke"/>
<polygon points="6.400,0.000 6.283,0.283 6.000,0.400 5.717,0.283 5.600,0.000 5.717,-0.283 6.000,-0.400 6.283,-0.283" fill="#ececec" stroke="#ff3030" stroke-width="2.35" stroke-linejoin="round" vector-effect="non-scaling-stroke"/>
<polygon points="6.400,0.000 6.283,0.283 6.000,0.400 5.717,0.283 5.600,0.000 5.717,-0.283 6.000,-0.400 6.283,-0.283" fill="none" stroke="#220004" stroke-width="1.6" stroke-linejoin="round" vector-effect="non-scaling-stroke"/>
<polygon points="6.400,1.000 6.283,1.283 6.000,1.400 5.717,1.283 5.600,1.000 5.717,0.717 6.000,0.600 6.283,0.717" fill="#ececec" stroke="#ff3030" stroke-width="2.35" stroke-linejoin="round" vector-effect="non-scaling-stroke"/>
<polygon points="6.400,1.000 6.283,1.283 6.000,1.400 5.717,1.283 5.600,1.000 5.717,0.717 6.000,0.600 6.283,0.717" fill="none" stroke="#220004" stroke-width="1.6" stroke-linejoin="round" vector-effect="non-scaling-stroke"/>
<polygon points="6.400,2.000 6.283,2.283 6.000,2.400 5.717,2.283 5.600,2.000 5.717,1.717 6.000,1.600 6.283,1.717" fill="#ececec" stroke="#ff3030" stroke-width="2.35" stroke-linejoin="round" vector-effect="non-scaling-stroke"/>
<polygon points="6.400,2.000 6.283,2.283 6.000,2.400 5.717,2.283 5.600,2.000 5.717,1.717 6.000,1.600 6.283,1.717" fill="none" stroke="#220004" stroke-width="1.6" stroke-linejoin="round" vector-effect="non-scaling-stroke"/>
<polygon points="6.400,3.000 6.283,3.283 6.000,3.400 5.717,3.283 5.600,3.000 5.717,2.717 6.000,2.600 6.283,2.717" fill="#ececec" stroke="#ff3030" stroke-width="2.35" stroke-linejoin="round" vector-effect="non-scaling-stroke"/>
<polygon points="6.400,3.000 6.283,3.283 6.000,3.400 5.717,3.283 5.600,3.000 5.717,2.717 6.000,2.600 6.283,2.717" fill="none" stroke="#220004" stroke-width="1.6" stroke-linejoin="round" vector-effect="non-scaling-stroke"/>
<polygon points="6.400,4.000 6.283,4.283 6.000,4.400 5.717,4.283 5.600,4.000 5.717,3.717 6.000,3.600 6.283,3.717" fill="#ececec" stroke="#ff3030" stroke-width="2.35" stroke-linejoin="round" vector-effect="non-scaling-stroke"/>
<polygon points="6.400,4.000 6.283,4.283 6.000,4.400 5.717,4.283 5.600,4.000 5.717,3.717 6.000,3.600 6.283,3.717" fill="none" stroke="#220004" stroke-width="1.6" stroke-linejoin="round" vector-effect="non-scaling-stroke"/>
<polygon points="6.400,5.000 6.283,5.283 6.000,5.400 5.717,5.283 5.600,5.000 5.717,4.717 6.000,4.600 6.283,4.717" fill="#fcfcff" stroke="#4438ff" stroke-width="2.3" stroke-linejoin="round" vector-effect="non-scaling-stroke"/>
<polygon points="6.400,5.000 6.283,5.283 6.000,5.400 5.717,5.283 5.600,5.000 5.717,4.717 6.000,4.600 6.283,4.717" fill="none" stroke="#100014" stroke-width="1.6" stroke-linejoin="round" vector-effect="non-scaling-stroke"/>
<polygon points="6.400,6.000 6.283,6.283 6.000,6.400 5.717,6.283 5.600,6.000 5.717,5.717 6.000,5.600 6.283,5.717" fill="#fcfcff" stroke="#4438ff" stroke-width="2.3" stroke-linejoin="round" vector-effect="non-scaling-stroke"/>
<polygon points="6.400,6.000 6.283,6.283 6.000,6.400 5.717,6.283 5.600,6.000 5.717,5.717 6.000,5.600 6.283,5.717" fill="none" stroke="#100014" stroke-width="1.6" stroke-linejoin="round" vector-effect="non-scaling-stroke"/>
<polygon points="6.400,7.000 6.283,7.283 6.000,7.400 5.717,7.283 5.600,7.000 5.717,6.717 6.000,6.600 6.283,6.717" fill="#fcfcff" stroke="#4438ff" stroke-width="2.3" stroke-linejoin="round" vector-effect="non-scaling-stroke"/>
<polygon points="6.400,7.000 6.283,7.283 6.000,7.400 5.717,7.283 5.600,7.000 5.717,6.717 6.000,6.600 6.283,6.717" fill="none" stroke="#100014" stroke-width="1.6" stroke-linejoin="round" vector-effect="non-scaling-stroke"/>
<polygon points="6.400,8.000 6.283,8.283 6.000,8.400 5.717,8.283 5.600,8.000 5.717,7.717 6.000,7.600 6.283,7.717" fill="#fcfcff" stroke="#4438ff" stroke-width="2.3" stroke-linejoin="round" vector-effect="non-scaling-stroke"/>
<polygon points="6.400,8.000 6.283,8.283 6.000,8.400 5.717,8.283 5.600,8.000 5.717,7.717 6.000,7.600 6.283,7.717" fill="none" stroke="#100014" stroke-width="1.6" stroke-linejoin="round" vector-effect="non-scaling-stroke"/>
<polygon points="7.400,0.000 7.283,0.283 7.000,0.400 6.717,0.283 6.600,0.000 6.717,-0.283 7.000,-0.400 7.283,-0.283" fill="#ececec" stroke="#ff3030" stroke-width="2.35" stroke-linejoin="round" vector-effect="non-scaling-stroke"/>
<polygon points="7.400,0.000 7.283,0.283 7.000,0.400 6.717,0.283 6.600,0.000 6.717,-0.283 7.000,-0.400 7.283,-0.283" fill="none" stroke="#220004" stroke-width="1.6" stroke-linejoin="round" vector-effect="non-scaling-stroke"/>
<polygon points="7.400,1.000 7.283,1.283 7.000,1.400 6.717,1.283 6.600,1.000 6.717,0.717 7.000,0.600 7.283,0.717" fill="#ececec" stroke="#ff3030" stroke-width="2.35" stroke-linejoin="round" vector-effect="non-scaling-stroke"/>
<polygon points="7.400,1.000 7.283,1.283 7.000,1.400 6.717,1.283 6.600,1.000 6.717,0.717 7.000,0.600 7.283,0.717" fill="none" stroke="#220004" stroke-width="1.6" stroke-linejoin="round" vector-effect="non-scaling-stroke"/>
<polygon points="7.400,2.000 7.283,2.283 7.000,2.400 6.717,2.283 6.600,2.000 6.717,1.717 7.000,1.600 7.283,1.717" fill="#ececec" stroke="#ff3030" stroke-width="2.35" stroke-linejoin="round" vector-effect="non-scaling-stroke"/>
<polygon points="7.400,2.000 7.283,2.283 7.000,2.400 6.717,2.283 6.600,2.000 6.717,1.717 7.000,1.600 7.283,1.717" fill="none" stroke="#220004" stroke-width="1.6" stroke-linejoin="round" vector-effect="non-scaling-stroke"/>
<polygon points="7.400,3.000 7.283,3.283 7.000,3.400 6.717,3.283 6.600,3.000 6.717,2.717 7.000,2.600 7.283,2.717" fill="#ececec" stroke="#ff3030" stroke-width="2.35" stroke-linejoin="round" vector-effect="non-scaling-stroke"/>
<polygon points="7.400,3.000 7.283,3.283 7.000,3.400 6.717,3.283 6.600,3.000 6.717,2.717 7.000,2.600 7.283,2.717" fill="none" stroke="#220004" stroke-width="1.6" stroke-linejoin="round" vector-effect="non-scaling-stroke"/>
<polygon points="7.400,4.000 7.283,4.283 7.000,4.400 6.717,4.283 6.600,4.000 6.717,3.717 7.000,3.600 7.283,3.717" fill="#ececec" stroke="#ff3030" stroke-width="2.35" stroke-linejoin="round" vector-effect="non-scaling-stroke"/>
<polygon points="7.400,4.000 7.283,4.283 7.000,4.400 6.717,4.283 6.600,4.000 6.717,3.717 7.000,3.600 7.283,3.717" fill="none" stroke="#220004" stroke-width="1.6" stroke-linejoin="round" vector-effect="non-scaling-stroke"/>
<polygon points="7.400,5.000 7.283,5.283 7.000,5.400 6.717,5.283 6.600,5.000 6.717,4.717 7.000,4.600 7.283,4.717" fill="#fcfcff" stroke="#4438ff" stroke-width="2.3" stroke-linejoin="round" vector-effect="non-scaling-stroke"/>
<polygon points="7.400,5.000 7.283,5.283 7.000,5.400 6.717,5.283 6.600,5.000 6.717,4.717 7.000,4.600 7.283,4.717" fill="none" stroke="#100014" stroke-width="1.6" stroke-linejoin="round" vector-effect="non-scaling-stroke"/>
<polygon points="7.400,6.000 7.283,6.283 7.000,6.400 6.717,6.283 6.600,6.000 6.717,5.717 7.000,5.600 7.283,5.717" fill="#fcfcff" stroke="#4438ff" stroke-width="2.3" stroke-linejoin="round" vector-effect="non-scaling-stroke"/>
<polygon points="7.400,6.000 7.283,6.283 7.000,6.400 6.717,6.283 6.600,6.000 6.717,5.717 7.000,5.600 7.283,5.717" fill="none" stroke="#100014" stroke-width="1.6" stroke-linejoin="round" vector-effect="non-scaling-stroke"/>
<polygon points="7.400,7.000 7.283,7.283 7.000,7.400 6.717,7.283 6.600,7.000 6.717,6.717 7.000,6.600 7.283,6.717" fill="#fcfcff" stroke="#4438ff" stroke-width="2.3" stroke-linejoin="round" vector-effect="non-scaling-stroke"/>
<polygon points="7.400,7.000 7.283,7.283 7.000,7.400 6.717,7.283 6.600,7.000 6.717,6.717 7.000,6.600 7.283,6.717" fill="none" stroke="#100014" stroke-width="1.6" stroke-linejoin="round" vector-effect="non-scaling-stroke"/>
<polygon points="7.400,8.000 7.283,8.283 7.000,8.400 6.717,8.283 6.600,8.000 6.717,7.717 7.000,7.600 7.283,7.717" fill="#fcfcff" stroke="#4438ff" stroke-width="2.3" stroke-linejoin="round" vector-effect="non-scaling-stroke"/>
<polygon points="7.400,8.000 7.283,8.283 7.000,8.400 6.717,8.283 6.600,8.000 6.717,7.717 7.000,7.600 7.283,7.717" fill="none" stroke="#100014" stroke-width="1.6" stroke-linejoin="round" vector-effect="non-scaling-stroke"/>
<polygon points="8.400,0.000 8.283,0.283 8.000,0.400 7.717,0.283 7.600,0.000 7.717,-0.283 8.000,-0.400 8.283,-0.283" fill="#ececec" stroke="#ff3030" stroke-width="2.35" stroke-linejoin="round" vector-effect="non-scaling-stroke"/>
<polygon points="8.400,0.000 8.283,0.283 8.000,0.400 7.717,0.283 7.600,0.000 7.717,-0.283 8.000,-0.400 8.283,-0.283" fill="none" stroke="#220004" stroke-width="1.6" stroke-linejoin="round" vector-effect="non-scaling-stroke"/>
<polygon points="8.400,1.000 8.283,1.283 8.000,1.400 7.717,1.283 7.600,1.000 7.717,0.717 8.000,0.600 8.283,0.717" fill="#ececec" stroke="#ff3030" stroke-width="2.35" stroke-linejoin="round" vector-effect="non-scaling-stroke"/>
<polygon points="8.400,1.000 8.283,1.283 8.000,1.400 7.717,1.283 7.600,1.000 7.717,0.717 8.000,0.600 8.283,0.717" fill="none" stroke="#220004" stroke-width="1.6" stroke-linejoin="round" vector-effect="non-scaling-stroke"/>
<polygon points="8.400,2.000 8.283,2.283 8.000,2.400 7.717,2.283 7.600,2.000 7.717,1.717 8.000,1.600 8.283,1.717" fill="#ececec" stroke="#ff3030" stroke-width="2.35" stroke-linejoin="round" vector-effect="non-scaling-stroke"/>
<polygon points="8.400,2.000 8.283,2.283 8.000,2.400 7.717,2.283 7.600,2.000 7.717,1.717 8.000,1.600 8.283,1.717" fill="none" stroke="#220004" stroke-width="1.6" stroke-linejoin="round" vector-effect="non-scaling-stroke"/>
<polygon points="8.400,3.000 8.283,3.283 8.000,3.400 7.717,3.283 7.600,3.000 7.717,2.717 8.000,2.600 8.283,2.717" fill="#ececec" stroke="#ff3030" stroke-width="2.35" stroke-linejoin="round" vector-effect="non-scaling-stroke"/>
<polygon points="8.400,3.000 8.283,3.283 8.000,3.400 7.717,3.283 7.600,3.000 7.717,2.717 8.000,2.600 8.283,2.717" fill="none" stroke="#220004" stroke-width="1.6" stroke-linejoin="round" vector-effect="non-scaling-stroke"/>
<polygon points="8.400,4.000 8.283,4.283 8.000,4.400 7.717,4.283 7.600,4.000 7.717,3.717 8.000,3.600 8.283,3.717" fill="#ececec" stroke="#ff3030" stroke-width="2.35" stroke-linejoin="round" vector-effect="non-scaling-stroke"/>
<polygon points="8.400,4.000 8.283,4.283 8.000,4.400 7.717,4.283 7.600,4.000 7.717,3.717 8.000,3.600 8.283,3.717" fill="none" stroke="#220004" stroke-width="1.6" stroke-linejoin="round" vector-effect="non-scaling-stroke"/>
<polygon points="8.400,5.000 8.283,5.283 8.000,5.400 7.717,5.283 7.600,5.000 7.717,4.717 8.000,4.600 8.283,4.717" fill="#fcfcff" stroke="#4438ff" stroke-width="2.3" stroke-linejoin="round" vector-effect="non-scaling-stroke"/>
<polygon points="8.400,5.000 8.283,5.283 8.000,5.400 7.717,5.283 7.600,5.000 7.717,4.717 8.000,4.600 8.283,4.717" fill="none" stroke="#100014" stroke-width="1.6" stroke-linejoin="round" vector-effect="non-scaling-stroke"/>
<polygon points="8.400,6.000 8.283,6.283 8.000,6.400 7.717,6.283 7.600,6.000 7.717,5.717 8.000,5.600 8.283,5.717" fill="#fcfcff" stroke="#4438ff" stroke-width="2.3" stroke-linejoin="round" vector-effect="non-scaling-stroke"/>
<polygon points="8.400,6.000 8.283,6.283 8.000,6.400 7.717,6.283 7.600,6.000 7.717,5.717 8.000,5.600 8.283,5.717" fill="none" stroke="#100014" stroke-width="1.6" stroke-linejoin="round" vector-effect="non-scaling-stroke"/>
<polygon points="8.400,7.000 8.283,7.283 8.000,7.400 7.717,7.283 7.600,7.000 7.717,6.717 8.000,6.600 8.283,6.717" fill="#fcfcff" stroke="#4438ff" stroke-width="2.3" stroke-linejoin="round" vector-effect="non-scaling-stroke"/>
<polygon points="8.400,7.000 8.283,7.283 8.000,7.400 7.717,7.283 7.600,7.000 7.717,6.717 8.000,6.600 8.283,6.717" fill="none" stroke="#100014" stroke-width="1.6" stroke-linejoin="round" vector-effect="non-scaling-stroke"/>
<polygon points="8.400,8.000 8.283,8.283 8.000,8.400 7.717,8.283 7.600,8.000 7.717,7.717 8.000,7.600 8.283,7.717" fill="#fcfcff" stroke="#4438ff" stroke-width="2.3" stroke-linejoin="round" vector-effect="non-scaling-stroke"/>
<polygon points="8.400,8.000 8.283,8.283 8.000,8.400 7.717,8.283 7.600,8.000 7.717,7.717 8.000,7.600 8.283,7.717" fill="none" stroke="#100014" stroke-width="1.6" stroke-linejoin="round" vector-effect="non-scaling-stroke"/>
</g></g>
<polyline points="762.5,205.1 865.7,261.8 1004.3,219.7" fill="none" stroke="#222" stroke-width="1.2"/>
<line x1="814.1" y1="233.5" x2="811.9" y2="236.1" stroke="#222" stroke-width="1"/>
<line x1="935.0" y1="240.8" x2="936.5" y2="243.8" stroke="#222" stroke-width="1"/>
<g transform="matrix(17.33,-5.26,12.9,7.09,844.72,191.15)"><circle r="0.475" fill="#300000"/></g>
<rect x="834.46" y="189.65" width="20.52" height="1.50" fill="#3a0000"/>
<g transform="matrix(17.33,-5.26,12.9,7.09,844.72,189.65)"><circle r="0.475" fill="#3a0000"/></g>
<ellipse cx="844.72" cy="189.35" rx="4.54" ry="1.13" fill="#f4f4f4"/>
<g transform="matrix(17.33,-5.26,12.9,7.09,870.52,205.33)"><circle r="0.475" fill="#350000"/></g>
<rect x="860.26" y="200.83" width="20.52" height="4.50" fill="url(#cyl)"/>
<g transform="matrix(17.33,-5.26,12.9,7.09,870.52,200.83)"><circle r="0.475" fill="#d4d4d4"/></g>
<ellipse cx="870.52" cy="200.33" rx="5.83" ry="2.10" fill="#5a0000"/>
<g transform="matrix(17.33,-5.26,12.9,7.09,900.75,207.16)"><circle r="0.475" fill="#350000"/></g>
<rect x="890.49" y="192.16" width="20.52" height="15.00" fill="url(#cyl)"/>
<g transform="matrix(17.33,-5.26,12.9,7.09,900.75,192.16)"><circle r="0.475" fill="#d4d4d4"/></g>
<ellipse cx="900.75" cy="191.66" rx="5.83" ry="2.10" fill="#5a0000"/>
<g transform="matrix(17.33,-5.26,12.9,7.09,883.42,212.42)"><circle r="0.475" fill="#440000"/></g>
<rect x="873.16" y="66.42" width="20.52" height="146.00" fill="url(#hot)"/>
<g transform="matrix(17.33,-5.26,12.9,7.09,883.42,66.42)"><circle r="0.475" fill="#c9c9c9"/></g>
<ellipse cx="883.42" cy="66.42" rx="4.75" ry="1.95" fill="#f4f428"/>
<g transform="matrix(17.33,-5.26,12.9,7.09,913.65,214.25)"><circle r="0.475" fill="#350000"/></g>
<rect x="903.39" y="207.25" width="20.52" height="7.00" fill="url(#cyl)"/>
<g transform="matrix(17.33,-5.26,12.9,7.09,913.65,207.25)"><circle r="0.475" fill="#d4d4d4"/></g>
<ellipse cx="913.65" cy="206.75" rx="5.83" ry="2.10" fill="#5a0000"/>
<g transform="matrix(17.33,-5.26,12.9,7.09,866.09,217.68)"><circle r="0.475" fill="#300000"/></g>
<rect x="855.83" y="214.68" width="20.52" height="3.00" fill="#3a0000"/>
<g transform="matrix(17.33,-5.26,12.9,7.09,866.09,214.68)"><circle r="0.475" fill="#3a0000"/></g>
<ellipse cx="866.09" cy="214.38" rx="4.54" ry="1.13" fill="#f4f4f4"/>
<g transform="matrix(17.33,-5.26,12.9,7.09,896.32,219.51)"><circle r="0.475" fill="#350000"/></g>
<rect x="886.06" y="201.51" width="20.52" height="18.00" fill="url(#cyl)"/>
<g transform="matrix(17.33,-5.26,12.9,7.09,896.32,201.51)"><circle r="0.475" fill="#d4d4d4"/></g>
<ellipse cx="896.32" cy="201.01" rx="5.83" ry="2.10" fill="#5a0000"/>
<g transform="matrix(17.33,-5.26,12.9,7.09,831.43,228.20)"><circle r="0.475" fill="#300000"/></g>
<rect x="821.17" y="226.60" width="20.52" height="1.60" fill="#3a0000"/>
<g transform="matrix(17.33,-5.26,12.9,7.09,831.43,226.60)"><circle r="0.475" fill="#3a0000"/></g>
<ellipse cx="831.43" cy="226.30" rx="4.54" ry="1.13" fill="#f4f4f4"/>
<text x="765.63" y="269.20" font-family="Liberation Sans" font-size="30.36" textLength="33.17" lengthAdjust="spacingAndGlyphs" fill="#1a1a1a">12</text>
<text x="949.17" y="278.81" font-family="Liberation Sans" font-size="29.24" textLength="33.93" lengthAdjust="spacingAndGlyphs" fill="#1a1a1a">20</text>
<text x="784.80" y="28.90" font-family="Liberation Serif" font-style="italic" font-size="30.41" textLength="13.52" lengthAdjust="spacingAndGlyphs" fill="#000">b</text>
<circle cx="802.60" cy="27.20" r="1.55" fill="#000"/>
<text x="816.96" y="28.10" font-family="Liberation Serif" font-style="italic" font-size="30.55" textLength="18.89" lengthAdjust="spacingAndGlyphs" fill="#000" stroke="#fff" stroke-width="0.45">ϕ</text>
<text x="837.36" y="32.78" font-family="Liberation Serif" font-style="italic" font-size="19.56" textLength="8.83" lengthAdjust="spacingAndGlyphs" fill="#000">y</text>
<line x1="850.30" y1="35.30" x2="861.10" y2="6.20" stroke="#000" stroke-width="1.25"/>
<text x="863.36" y="28.10" font-family="Liberation Serif" font-style="italic" font-size="30.55" textLength="18.89" lengthAdjust="spacingAndGlyphs" fill="#000" stroke="#fff" stroke-width="0.45">ϕ</text>
<text x="882.69" y="32.60" font-family="Liberation Serif" font-style="italic" font-size="19.17" textLength="10.48" lengthAdjust="spacingAndGlyphs" fill="#000">x</text>
<g stroke="#000" stroke-width="1.6"><line x1="905.30" y1="17.50" x2="926.00" y2="17.50"/><line x1="905.30" y1="24.10" x2="926.00" y2="24.10"/></g>
<text x="935.74" y="28.71" font-family="Liberation Serif" font-size="29.77" textLength="15.25" lengthAdjust="spacingAndGlyphs" fill="#000" stroke="#000" stroke-width="0.25">3</text>
<line x1="953.00" y1="35.50" x2="964.70" y2="6.20" stroke="#000" stroke-width="1.25"/>
<text x="966.10" y="28.71" font-family="Liberation Serif" font-size="30.10" textLength="14.65" lengthAdjust="spacingAndGlyphs" fill="#000" stroke="#000" stroke-width="0.25">5</text>
<clipPath id="clip0_304_4"><rect x="0" y="0" width="8" height="8"/></clipPath>
<g transform="matrix(17.33,-5.26,12.9,7.09,482.50,509.50)"><g clip-path="url(#clip0_304_4)">
<rect x="0" y="0" width="8" height="8" fill="#fafafa"/>
<rect x="-0.5" y="-0.5" width="1.02" height="1.02" fill="#f5f3ff"/>
<rect x="-0.5" y="0.5" width="1.02" height="1.02" fill="#f5f3ff"/>
<rect x="-0.5" y="1.5" width="1.02" height="1.02" fill="#f5f3ff"/>
<rect x="-0.5" y="2.5" width="1.02" height="1.02" fill="#f5f3ff"/>
<rect x="-0.5" y="3.5" width="1.02" height="1.02" fill="#f5f3ff"/>
<rect x="-0.5" y="4.5" width="1.02" height="1.02" fill="#f5f3ff"/>
<rect x="-0.5" y="5.5" width="1.02" height="1.02" fill="#f5f3ff"/>
<rect x="-0.5" y="6.5" width="1.02" height="1.02" fill="#f5f3ff"/>
<rect x="-0.5" y="7.5" width="1.02" height="1.02" fill="#f5f3ff"/>
<rect x="0.5" y="-0.5" width="1.02" height="1.02" fill="#f5f3ff"/>
<rect x="0.5" y="0.5" width="1.02" height="1.02" fill="#f5f3ff"/>
<rect x="0.5" y="1.5" width="1.02" height="1.02" fill="#f5f3ff"/>
<rect x="0.5" y="2.5" width="1.02" height="1.02" fill="#f5f3ff"/>
<rect x="0.5" y="3.5" width="1.02" height="1.02" fill="#f5f3ff"/>
<rect x="0.5" y="4.5" width="1.02" height="1.02" fill="#f5f3ff"/>
<rect x="0.5" y="5.5" width="1.02" height="1.02" fill="#f5f3ff"/>
<rect x="0.5" y="6.5" width="1.02" height="1.02" fill="#f5f3ff"/>
<rect x="0.5" y="7.5" width="1.02" height="1.02" fill="#f5f3ff"/>
<rect x="1.5" y="-0.5" width="1.02" height="1.02" fill="#f5f3ff"/>
<rect x="1.5" y="0.5" width="1.02" height="1.02" fill="#f5f3ff"/>
<rect x="1.5" y="1.5" width="1.02" height="1.02" fill="#f5f3ff"/>
<rect x="1.5" y="2.5" width="1.02" height="1.02" fill="#f5f3ff"/>
<rect x="1.5" y="3.5" width="1.02" height="1.02" fill="#f5f3ff"/>
<rect x="1.5" y="4.5" width="1.02" height="1.02" fill="#f5f3ff"/>
<rect x="1.5" y="5.5" width="1.02" height="1.02" fill="#f5f3ff"/>
<rect x="1.5" y="6.5" width="1.02" height="1.02" fill="#f5f3ff"/>
<rect x="1.5" y="7.5" width="1.02" height="1.02" fill="#f5f3ff"/>
<rect x="2.5" y="-0.5" width="1.02" height="1.02" fill="#f5f3ff"/>
<rect x="2.5" y="0.5" width="1.02" height="1.02" fill="#f5f3ff"/>
<rect x="2.5" y="1.5" width="1.02" height="1.02" fill="#f5f3ff"/>
<rect x="2.5" y="2.5" width="1.02" height="1.02" fill="#f5f3ff"/>
<rect x="2.5" y="3.5" width="1.02" height="1.02" fill="#f5f3ff"/>
<rect x="2.5" y="4.5" width="1.02" height="1.02" fill="#f5f3ff"/>
<rect x="2.5" y="5.5" width="1.02" height="1.02" fill="#f5f3ff"/>
<rect x="2.5" y="6.5" width="1.02" height="1.02" fill="#f5f3ff"/>
<rect x="2.5" y="7.5" width="1.02" height="1.02" fill="#f5f3ff"/>
<rect x="3.5" y="-0.5" width="1.02" height="1.02" fill="#fff1f1"/>
<rect x="3.5" y="0.5" width="1.02" height="1.02" fill="#fff1f1"/>
<rect x="3.5" y="1.5" width="1.02" height="1.02" fill="#fff1f1"/>
<rect x="3.5" y="2.5" width="1.02" height="1.02" fill="#fff1f1"/>
<rect x="3.5" y="3.5" width="1.02" height="1.02" fill="#fff1f1"/>
<rect x="3.5" y="4.5" width="1.02" height="1.02" fill="#f5f3ff"/>
<rect x="3.5" y="5.5" width="1.02" height="1.02" fill="#f5f3ff"/>
<rect x="3.5" y="6.5" width="1.02" height="1.02" fill="#f5f3ff"/>
<rect x="3.5" y="7.5" width="1.02" height="1.02" fill="#f5f3ff"/>
<rect x="4.5" y="-0.5" width="1.02" height="1.02" fill="#fff1f1"/>
<rect x="4.5" y="0.5" width="1.02" height="1.02" fill="#fff1f1"/>
<rect x="4.5" y="1.5" width="1.02" height="1.02" fill="#fff1f1"/>
<rect x="4.5" y="2.5" width="1.02" height="1.02" fill="#fff1f1"/>
<rect x="4.5" y="3.5" width="1.02" height="1.02" fill="#fff1f1"/>
<rect x="4.5" y="4.5" width="1.02" height="1.02" fill="#f5f3ff"/>
<rect x="4.5" y="5.5" width="1.02" height="1.02" fill="#f5f3ff"/>
<rect x="4.5" y="6.5" width="1.02" height="1.02" fill="#f5f3ff"/>
<rect x="4.5" y="7.5" width="1.02" height="1.02" fill="#f5f3ff"/>
<rect x="5.5" y="-0.5" width="1.02" height="1.02" fill="#fff1f1"/>
<rect x="5.5" y="0.5" width="1.02" height="1.02" fill="#fff1f1"/>
<rect x="5.5" y="1.5" width="1.02" height="1.02" fill="#fff1f1"/>
<rect x="5.5" y="2.5" width="1.02" height="1.02" fill="#fff1f1"/>
<rect x="5.5" y="3.5" width="1.02" height="1.02" fill="#fff1f1"/>
<rect x="5.5" y="4.5" width="1.02" height="1.02" fill="#f5f3ff"/>
<rect x="5.5" y="5.5" width="1.02" height="1.02" fill="#f5f3ff"/>
<rect x="5.5" y="6.5" width="1.02" height="1.02" fill="#f5f3ff"/>
<rect x="5.5" y="7.5" width="1.02" height="1.02" fill="#f5f3ff"/>
<rect x="6.5" y="-0.5" width="1.02" height="1.02" fill="#fff1f1"/>
<rect x="6.5" y="0.5" width="1.02" height="1.02" fill="#fff1f1"/>
<rect x="6.5" y="1.5" width="1.02" height="1.02" fill="#fff1f1"/>
<rect x="6.5" y="2.5" width="1.02" height="1.02" fill="#fff1f1"/>
<rect x="6.5" y="3.5" width="1.02" height="1.02" fill="#fff1f1"/>
<rect x="6.5" y="4.5" width="1.02" height="1.02" fill="#f5f3ff"/>
<rect x="6.5" y="5.5" width="1.02" height="1.02" fill="#f5f3ff"/>
<rect x="6.5" y="6.5" width="1.02" height="1.02" fill="#f5f3ff"/>
<rect x="6.5" y="7.5" width="1.02" height="1.02" fill="#f5f3ff"/>
<rect x="7.5" y="-0.5" width="1.02" height="1.02" fill="#fff1f1"/>
<rect x="7.5" y="0.5" width="1.02" height="1.02" fill="#fff1f1"/>
<rect x="7.5" y="1.5" width="1.02" height="1.02" fill="#fff1f1"/>
<rect x="7.5" y="2.5" width="1.02" height="1.02" fill="#fff1f1"/>
<rect x="7.5" y="3.5" width="1.02" height="1.02" fill="#fff1f1"/>
<rect x="7.5" y="4.5" width="1.02" height="1.02" fill="#f5f3ff"/>
<rect x="7.5" y="5.5" width="1.02" height="1.02" fill="#f5f3ff"/>
<rect x="7.5" y="6.5" width="1.02" height="1.02" fill="#f5f3ff"/>
<rect x="7.5" y="7.5" width="1.02" height="1.02" fill="#f5f3ff"/>
<polygon points="0.400,0.000 0.283,0.283 0.000,0.400 -0.283,0.283 -0.400,0.000 -0.283,-0.283 -0.000,-0.400 0.283,-0.283" fill="#fcfcff" stroke="#4438ff" stroke-width="2.3" stroke-linejoin="round" vector-effect="non-scaling-stroke"/>
<polygon points="0.400,0.000 0.283,0.283 0.000,0.400 -0.283,0.283 -0.400,0.000 -0.283,-0.283 -0.000,-0.400 0.283,-0.283" fill="none" stroke="#100014" stroke-width="1.6" stroke-linejoin="round" vector-effect="non-scaling-stroke"/>
<polygon points="0.400,1.000 0.283,1.283 0.000,1.400 -0.283,1.283 -0.400,1.000 -0.283,0.717 -0.000,0.600 0.283,0.717" fill="#fcfcff" stroke="#4438ff" stroke-width="2.3" stroke-linejoin="round" vector-effect="non-scaling-stroke"/>
<polygon points="0.400,1.000 0.283,1.283 0.000,1.400 -0.283,1.283 -0.400,1.000 -0.283,0.717 -0.000,0.600 0.283,0.717" fill="none" stroke="#100014" stroke-width="1.6" stroke-linejoin="round" vector-effect="non-scaling-stroke"/>
<polygon points="0.400,2.000 0.283,2.283 0.000,2.400 -0.283,2.283 -0.400,2.000 -0.283,1.717 -0.000,1.600 0.283,1.717" fill="#fcfcff" stroke="#4438ff" stroke-width="2.3" stroke-linejoin="round" vector-effect="non-scaling-stroke"/>
<polygon points="0.400,2.000 0.283,2.283 0.000,2.400 -0.283,2.283 -0.400,2.000 -0.283,1.717 -0.000,1.600 0.283,1.717" fill="none" stroke="#100014" stroke-width="1.6" stroke-linejoin="round" vector-effect="non-scaling-stroke"/>
<polygon points="0.400,3.000 0.283,3.283 0.000,3.400 -0.283,3.283 -0.400,3.000 -0.283,2.717 -0.000,2.600 0.283,2.717" fill="#fcfcff" stroke="#4438ff" stroke-width="2.3" stroke-linejoin="round" vector-effect="non-scaling-stroke"/>
<polygon points="0.400,3.000 0.283,3.283 0.000,3.400 -0.283,3.283 -0.400,3.000 -0.283,2.717 -0.000,2.600 0.283,2.717" fill="none" stroke="#100014" stroke-width="1.6" stroke-linejoin="round" vector-effect="non-scaling-stroke"/>
<polygon points="0.400,4.000 0.283,4.283 0.000,4.400 -0.283,4.283 -0.400,4.000 -0.283,3.717 -0.000,3.600 0.283,3.717" fill="#fcfcff" stroke="#4438ff" stroke-width="2.3" stroke-linejoin="round" vector-effect="non-scaling-stroke"/>
<polygon points="0.400,4.000 0.283,4.283 0.000,4.400 -0.283,4.283 -0.400,4.000 -0.283,3.717 -0.000,3.600 0.283,3.717" fill="none" stroke="#100014" stroke-width="1.6" stroke-linejoin="round" vector-effect="non-scaling-stroke"/>
<polygon points="0.400,5.000 0.283,5.283 0.000,5.400 -0.283,5.283 -0.400,5.000 -0.283,4.717 -0.000,4.600 0.283,4.717" fill="#fcfcff" stroke="#4438ff" stroke-width="2.3" stroke-linejoin="round" vector-effect="non-scaling-stroke"/>
<polygon points="0.400,5.000 0.283,5.283 0.000,5.400 -0.283,5.283 -0.400,5.000 -0.283,4.717 -0.000,4.600 0.283,4.717" fill="none" stroke="#100014" stroke-width="1.6" stroke-linejoin="round" vector-effect="non-scaling-stroke"/>
<polygon points="0.400,6.000 0.283,6.283 0.000,6.400 -0.283,6.283 -0.400,6.000 -0.283,5.717 -0.000,5.600 0.283,5.717" fill="#fcfcff" stroke="#4438ff" stroke-width="2.3" stroke-linejoin="round" vector-effect="non-scaling-stroke"/>
<polygon points="0.400,6.000 0.283,6.283 0.000,6.400 -0.283,6.283 -0.400,6.000 -0.283,5.717 -0.000,5.600 0.283,5.717" fill="none" stroke="#100014" stroke-width="1.6" stroke-linejoin="round" vector-effect="non-scaling-stroke"/>
<polygon points="0.400,7.000 0.283,7.283 0.000,7.400 -0.283,7.283 -0.400,7.000 -0.283,6.717 -0.000,6.600 0.283,6.717" fill="#fcfcff" stroke="#4438ff" stroke-width="2.3" stroke-linejoin="round" vector-effect="non-scaling-stroke"/>
<polygon points="0.400,7.000 0.283,7.283 0.000,7.400 -0.283,7.283 -0.400,7.000 -0.283,6.717 -0.000,6.600 0.283,6.717" fill="none" stroke="#100014" stroke-width="1.6" stroke-linejoin="round" vector-effect="non-scaling-stroke"/>
<polygon points="0.400,8.000 0.283,8.283 0.000,8.400 -0.283,8.283 -0.400,8.000 -0.283,7.717 -0.000,7.600 0.283,7.717" fill="#fcfcff" stroke="#4438ff" stroke-width="2.3" stroke-linejoin="round" vector-effect="non-scaling-stroke"/>
<polygon points="0.400,8.000 0.283,8.283 0.000,8.400 -0.283,8.283 -0.400,8.000 -0.283,7.717 -0.000,7.600 0.283,7.717" fill="none" stroke="#100014" stroke-width="1.6" stroke-linejoin="round" vector-effect="non-scaling-stroke"/>
<polygon points="1.400,0.000 1.283,0.283 1.000,0.400 0.717,0.283 0.600,0.000 0.717,-0.283 1.000,-0.400 1.283,-0.283" fill="#fcfcff" stroke="#4438ff" stroke-width="2.3" stroke-linejoin="round" vector-effect="non-scaling-stroke"/>
<polygon points="1.400,0.000 1.283,0.283 1.000,0.400 0.717,0.283 0.600,0.000 0.717,-0.283 1.000,-0.400 1.283,-0.283" fill="none" stroke="#100014" stroke-width="1.6" stroke-linejoin="round" vector-effect="non-scaling-stroke"/>
<polygon points="1.400,1.000 1.283,1.283 1.000,1.400 0.717,1.283 0.600,1.000 0.717,0.717 1.000,0.600 1.283,0.717" fill="#fcfcff" stroke="#4438ff" stroke-width="2.3" stroke-linejoin="round" vector-effect="non-scaling-stroke"/>
<polygon points="1.400,1.000 1.283,1.283 1.000,1.400 0.717,1.283 0.600,1.000 0.717,0.717 1.000,0.600 1.283,0.717" fill="none" stroke="#100014" stroke-width="1.6" stroke-linejoin="round" vector-effect="non-scaling-stroke"/>
<polygon points="1.400,2.000 1.283,2.283 1.000,2.400 0.717,2.283 0.600,2.000 0.717,1.717 1.000,1.600 1.283,1.717" fill="#fcfcff" stroke="#4438ff" stroke-width="2.3" stroke-linejoin="round" vector-effect="non-scaling-stroke"/>
<polygon points="1.400,2.000 1.283,2.283 1.000,2.400 0.717,2.283 0.600,2.000 0.717,1.717 1.000,1.600 1.283,1.717" fill="none" stroke="#100014" stroke-width="1.6" stroke-linejoin="round" vector-effect="non-scaling-stroke"/>
<polygon points="1.400,3.000 1.283,3.283 1.000,3.400 0.717,3.283 0.600,3.000 0.717,2.717 1.000,2.600 1.283,2.717" fill="#fcfcff" stroke="#4438ff" stroke-width="2.3" stroke-linejoin="round" vector-effect="non-scaling-stroke"/>
<polygon points="1.400,3.000 1.283,3.283 1.000,3.400 0.717,3.283 0.600,3.000 0.717,2.717 1.000,2.600 1.283,2.717" fill="none" stroke="#100014" stroke-width="1.6" stroke-linejoin="round" vector-effect="non-scaling-stroke"/>
<polygon points="1.400,4.000 1.283,4.283 1.000,4.400 0.717,4.283 0.600,4.000 0.717,3.717 1.000,3.600 1.283,3.717" fill="#fcfcff" stroke="#4438ff" stroke-width="2.3" stroke-linejoin="round" vector-effect="non-scaling-stroke"/>
<polygon points="1.400,4.000 1.283,4.283 1.000,4.400 0.717,4.283 0.600,4.000 0.717,3.717 1.000,3.600 1.283,3.717" fill="none" stroke="#100014" stroke-width="1.6" stroke-linejoin="round" vector-effect="non-scaling-stroke"/>
<polygon points="1.400,5.000 1.283,5.283 1.000,5.400 0.717,5.283 0.600,5.000 0.717,4.717 1.000,4.600 1.283,4.717" fill="#fcfcff" stroke="#4438ff" stroke-width="2.3" stroke-linejoin="round" vector-effect="non-scaling-stroke"/>
<polygon points="1.400,5.000 1.283,5.283 1.000,5.400 0.717,5.283 0.600,5.000 0.717,4.717 1.000,4.600 1.283,4.717" fill="none" stroke="#100014" stroke-width="1.6" stroke-linejoin="round" vector-effect="non-scaling-stroke"/>
<polygon points="1.400,6.000 1.283,6.283 1.000,6.400 0.717,6.283 0.600,6.000 0.717,5.717 1.000,5.600 1.283,5.717" fill="#fcfcff" stroke="#4438ff" stroke-width="2.3" stroke-linejoin="round" vector-effect="non-scaling-stroke"/>
<polygon points="1.400,6.000 1.283,6.283 1.000,6.400 0.717,6.283 0.600,6.000 0.717,5.717 1.000,5.600 1.283,5.717" fill="none" stroke="#100014" stroke-width="1.6" stroke-linejoin="round" vector-effect="non-scaling-stroke"/>
<polygon points="1.400,7.000 1.283,7.283 1.000,7.400 0.717,7.283 0.600,7.000 0.717,6.717 1.000,6.600 1.283,6.717" fill="#fcfcff" stroke="#4438ff" stroke-width="2.3" stroke-linejoin="round" vector-effect="non-scaling-stroke"/>
<polygon points="1.400,7.000 1.283,7.283 1.000,7.400 0.717,7.283 0.600,7.000 0.717,6.717 1.000,6.600 1.283,6.717" fill="none" stroke="#100014" stroke-width="1.6" stroke-linejoin="round" vector-effect="non-scaling-stroke"/>
<polygon points="1.400,8.000 1.283,8.283 1.000,8.400 0.717,8.283 0.600,8.000 0.717,7.717 1.000,7.600 1.283,7.717" fill="#fcfcff" stroke="#4438ff" stroke-width="2.3" stroke-linejoin="round" vector-effect="non-scaling-stroke"/>
<polygon points="1.400,8.000 1.283,8.283 1.000,8.400 0.717,8.283 0.600,8.000 0.717,7.717 1.000,7.600 1.283,7.717" fill="none" stroke="#100014" stroke-width="1.6" stroke-linejoin="round" vector-effect="non-scaling-stroke"/>
<polygon points="2.400,0.000 2.283,0.283 2.000,0.400 1.717,0.283 1.600,0.000 1.717,-0.283 2.000,-0.400 2.283,-0.283" fill="#fcfcff" stroke="#4438ff" stroke-width="2.3" stroke-linejoin="round" vector-effect="non-scaling-stroke"/>
<polygon points="2.400,0.000 2.283,0.283 2.000,0.400 1.717,0.283 1.600,0.000 1.717,-0.283 2.000,-0.400 2.283,-0.283" fill="none" stroke="#100014" stroke-width="1.6" stroke-linejoin="round" vector-effect="non-scaling-stroke"/>
<polygon points="2.400,1.000 2.283,1.283 2.000,1.400 1.717,1.283 1.600,1.000 1.717,0.717 2.000,0.600 2.283,0.717" fill="#fcfcff" stroke="#4438ff" stroke-width="2.3" stroke-linejoin="round" vector-effect="non-scaling-stroke"/>
<polygon points="2.400,1.000 2.283,1.283 2.000,1.400 1.717,1.283 1.600,1.000 1.717,0.717 2.000,0.600 2.283,0.717" fill="none" stroke="#100014" stroke-width="1.6" stroke-linejoin="round" vector-effect="non-scaling-stroke"/>
<polygon points="2.400,2.000 2.283,2.283 2.000,2.400 1.717,2.283 1.600,2.000 1.717,1.717 2.000,1.600 2.283,1.717" fill="#fcfcff" stroke="#4438ff" stroke-width="2.3" stroke-linejoin="round" vector-effect="non-scaling-stroke"/>
<polygon points="2.400,2.000 2.283,2.283 2.000,2.400 1.717,2.283 1.600,2.000 1.717,1.717 2.000,1.600 2.283,1.717" fill="none" stroke="#100014" stroke-width="1.6" stroke-linejoin="round" vector-effect="non-scaling-stroke"/>
<polygon points="2.400,3.000 2.283,3.283 2.000,3.400 1.717,3.283 1.600,3.000 1.717,2.717 2.000,2.600 2.283,2.717" fill="#fcfcff" stroke="#4438ff" stroke-width="2.3" stroke-linejoin="round" vector-effect="non-scaling-stroke"/>
<polygon points="2.400,3.000 2.283,3.283 2.000,3.400 1.717,3.283 1.600,3.000 1.717,2.717 2.000,2.600 2.283,2.717" fill="none" stroke="#100014" stroke-width="1.6" stroke-linejoin="round" vector-effect="non-scaling-stroke"/>
<polygon points="2.400,4.000 2.283,4.283 2.000,4.400 1.717,4.283 1.600,4.000 1.717,3.717 2.000,3.600 2.283,3.717" fill="#fcfcff" stroke="#4438ff" stroke-width="2.3" stroke-linejoin="round" vector-effect="non-scaling-stroke"/>
<polygon points="2.400,4.000 2.283,4.283 2.000,4.400 1.717,4.283 1.600,4.000 1.717,3.717 2.000,3.600 2.283,3.717" fill="none" stroke="#100014" stroke-width="1.6" stroke-linejoin="round" vector-effect="non-scaling-stroke"/>
<polygon points="2.400,5.000 2.283,5.283 2.000,5.400 1.717,5.283 1.600,5.000 1.717,4.717 2.000,4.600 2.283,4.717" fill="#fcfcff" stroke="#4438ff" stroke-width="2.3" stroke-linejoin="round" vector-effect="non-scaling-stroke"/>
<polygon points="2.400,5.000 2.283,5.283 2.000,5.400 1.717,5.283 1.600,5.000 1.717,4.717 2.000,4.600 2.283,4.717" fill="none" stroke="#100014" stroke-width="1.6" stroke-linejoin="round" vector-effect="non-scaling-stroke"/>
<polygon points="2.400,6.000 2.283,6.283 2.000,6.400 1.717,6.283 1.600,6.000 1.717,5.717 2.000,5.600 2.283,5.717" fill="#fcfcff" stroke="#4438ff" stroke-width="2.3" stroke-linejoin="round" vector-effect="non-scaling-stroke"/>
<polygon points="2.400,6.000 2.283,6.283 2.000,6.400 1.717,6.283 1.600,6.000 1.717,5.717 2.000,5.600 2.283,5.717" fill="none" stroke="#100014" stroke-width="1.6" stroke-linejoin="round" vector-effect="non-scaling-stroke"/>
<polygon points="2.400,7.000 2.283,7.283 2.000,7.400 1.717,7.283 1.600,7.000 1.717,6.717 2.000,6.600 2.283,6.717" fill="#fcfcff" stroke="#4438ff" stroke-width="2.3" stroke-linejoin="round" vector-effect="non-scaling-stroke"/>
<polygon points="2.400,7.000 2.283,7.283 2.000,7.400 1.717,7.283 1.600,7.000 1.717,6.717 2.000,6.600 2.283,6.717" fill="none" stroke="#100014" stroke-width="1.6" stroke-linejoin="round" vector-effect="non-scaling-stroke"/>
<polygon points="2.400,8.000 2.283,8.283 2.000,8.400 1.717,8.283 1.600,8.000 1.717,7.717 2.000,7.600 2.283,7.717" fill="#fcfcff" stroke="#4438ff" stroke-width="2.3" stroke-linejoin="round" vector-effect="non-scaling-stroke"/>
<polygon points="2.400,8.000 2.283,8.283 2.000,8.400 1.717,8.283 1.600,8.000 1.717,7.717 2.000,7.600 2.283,7.717" fill="none" stroke="#100014" stroke-width="1.6" stroke-linejoin="round" vector-effect="non-scaling-stroke"/>
<polygon points="3.400,0.000 3.283,0.283 3.000,0.400 2.717,0.283 2.600,0.000 2.717,-0.283 3.000,-0.400 3.283,-0.283" fill="#fcfcff" stroke="#4438ff" stroke-width="2.3" stroke-linejoin="round" vector-effect="non-scaling-stroke"/>
<polygon points="3.400,0.000 3.283,0.283 3.000,0.400 2.717,0.283 2.600,0.000 2.717,-0.283 3.000,-0.400 3.283,-0.283" fill="none" stroke="#100014" stroke-width="1.6" stroke-linejoin="round" vector-effect="non-scaling-stroke"/>
<polygon points="3.400,1.000 3.283,1.283 3.000,1.400 2.717,1.283 2.600,1.000 2.717,0.717 3.000,0.600 3.283,0.717" fill="#fcfcff" stroke="#4438ff" stroke-width="2.3" stroke-linejoin="round" vector-effect="non-scaling-stroke"/>
<polygon points="3.400,1.000 3.283,1.283 3.000,1.400 2.717,1.283 2.600,1.000 2.717,0.717 3.000,0.600 3.283,0.717" fill="none" stroke="#100014" stroke-width="1.6" stroke-linejoin="round" vector-effect="non-scaling-stroke"/>
<polygon points="3.400,2.000 3.283,2.283 3.000,2.400 2.717,2.283 2.600,2.000 2.717,1.717 3.000,1.600 3.283,1.717" fill="#fcfcff" stroke="#4438ff" stroke-width="2.3" stroke-linejoin="round" vector-effect="non-scaling-stroke"/>
<polygon points="3.400,2.000 3.283,2.283 3.000,2.400 2.717,2.283 2.600,2.000 2.717,1.717 3.000,1.600 3.283,1.717" fill="none" stroke="#100014" stroke-width="1.6" stroke-linejoin="round" vector-effect="non-scaling-stroke"/>
<polygon points="3.400,3.000 3.283,3.283 3.000,3.400 2.717,3.283 2.600,3.000 2.717,2.717 3.000,2.600 3.283,2.717" fill="#fcfcff" stroke="#4438ff" stroke-width="2.3" stroke-linejoin="round" vector-effect="non-scaling-stroke"/>
<polygon points="3.400,3.000 3.283,3.283 3.000,3.400 2.717,3.283 2.600,3.000 2.717,2.717 3.000,2.600 3.283,2.717" fill="none" stroke="#100014" stroke-width="1.6" stroke-linejoin="round" vector-effect="non-scaling-stroke"/>
<polygon points="3.400,4.000 3.283,4.283 3.000,4.400 2.717,4.283 2.600,4.000 2.717,3.717 3.000,3.600 3.283,3.717" fill="#fcfcff" stroke="#4438ff" stroke-width="2.3" stroke-linejoin="round" vector-effect="non-scaling-stroke"/>
<polygon points="3.400,4.000 3.283,4.283 3.000,4.400 2.717,4.283 2.600,4.000 2.717,3.717 3.000,3.600 3.283,3.717" fill="none" stroke="#100014" stroke-width="1.6" stroke-linejoin="round" vector-effect="non-scaling-stroke"/>
<polygon points="3.400,5.000 3.283,5.283 3.000,5.400 2.717,5.283 2.600,5.000 2.717,4.717 3.000,4.600 3.283,4.717" fill="#fcfcff" stroke="#4438ff" stroke-width="2.3" stroke-linejoin="round" vector-effect="non-scaling-stroke"/>
<polygon points="3.400,5.000 3.283,5.283 3.000,5.400 2.717,5.283 2.600,5.000 2.717,4.717 3.000,4.600 3.283,4.717" fill="none" stroke="#100014" stroke-width="1.6" stroke-linejoin="round" vector-effect="non-scaling-stroke"/>
<polygon points="3.400,6.000 3.283,6.283 3.000,6.400 2.717,6.283 2.600,6.000 2.717,5.717 3.000,5.600 3.283,5.717" fill="#fcfcff" stroke="#4438ff" stroke-width="2.3" stroke-linejoin="round" vector-effect="non-scaling-stroke"/>
<polygon points="3.400,6.000 3.283,6.283 3.000,6.400 2.717,6.283 2.600,6.000 2.717,5.717 3.000,5.600 3.283,5.717" fill="none" stroke="#100014" stroke-width="1.6" stroke-linejoin="round" vector-effect="non-scaling-stroke"/>
<polygon points="3.400,7.000 3.283,7.283 3.000,7.400 2.717,7.283 2.600,7.000 2.717,6.717 3.000,6.600 3.283,6.717" fill="#fcfcff" stroke="#4438ff" stroke-width="2.3" stroke-linejoin="round" vector-effect="non-scaling-stroke"/>
<polygon points="3.400,7.000 3.283,7.283 3.000,7.400 2.717,7.283 2.600,7.000 2.717,6.717 3.000,6.600 3.283,6.717" fill="none" stroke="#100014" stroke-width="1.6" stroke-linejoin="round" vector-effect="non-scaling-stroke"/>
<polygon points="3.400,8.000 3.283,8.283 3.000,8.400 2.717,8.283 2.600,8.000 2.717,7.717 3.000,7.600 3.283,7.717" fill="#fcfcff" stroke="#4438ff" stroke-width="2.3" stroke-linejoin="round" vector-effect="non-scaling-stroke"/>
<polygon points="3.400,8.000 3.283,8.283 3.000,8.400 2.717,8.283 2.600,8.000 2.717,7.717 3.000,7.600 3.283,7.717" fill="none" stroke="#100014" stroke-width="1.6" stroke-linejoin="round" vector-effect="non-scaling-stroke"/>
<polygon points="4.400,0.000 4.283,0.283 4.000,0.400 3.717,0.283 3.600,0.000 3.717,-0.283 4.000,-0.400 4.283,-0.283" fill="#ececec" stroke="#ff3030" stroke-width="2.35" stroke-linejoin="round" vector-effect="non-scaling-stroke"/>
<polygon points="4.400,0.000 4.283,0.283 4.000,0.400 3.717,0.283 3.600,0.000 3.717,-0.283 4.000,-0.400 4.283,-0.283" fill="none" stroke="#220004" stroke-width="1.6" stroke-linejoin="round" vector-effect="non-scaling-stroke"/>
<polygon points="4.400,1.000 4.283,1.283 4.000,1.400 3.717,1.283 3.600,1.000 3.717,0.717 4.000,0.600 4.283,0.717" fill="#ececec" stroke="#ff3030" stroke-width="2.35" stroke-linejoin="round" vector-effect="non-scaling-stroke"/>
<polygon points="4.400,1.000 4.283,1.283 4.000,1.400 3.717,1.283 3.600,1.000 3.717,0.717 4.000,0.600 4.283,0.717" fill="none" stroke="#220004" stroke-width="1.6" stroke-linejoin="round" vector-effect="non-scaling-stroke"/>
<polygon points="4.400,2.000 4.283,2.283 4.000,2.400 3.717,2.283 3.600,2.000 3.717,1.717 4.000,1.600 4.283,1.717" fill="#ececec" stroke="#ff3030" stroke-width="2.35" stroke-linejoin="round" vector-effect="non-scaling-stroke"/>
<polygon points="4.400,2.000 4.283,2.283 4.000,2.400 3.717,2.283 3.600,2.000 3.717,1.717 4.000,1.600 4.283,1.717" fill="none" stroke="#220004" stroke-width="1.6" stroke-linejoin="round" vector-effect="non-scaling-stroke"/>
<polygon points="4.400,3.000 4.283,3.283 4.000,3.400 3.717,3.283 3.600,3.000 3.717,2.717 4.000,2.600 4.283,2.717" fill="#ececec" stroke="#ff3030" stroke-width="2.35" stroke-linejoin="round" vector-effect="non-scaling-stroke"/>
<polygon points="4.400,3.000 4.283,3.283 4.000,3.400 3.717,3.283 3.600,3.000 3.717,2.717 4.000,2.600 4.283,2.717" fill="none" stroke="#220004" stroke-width="1.6" stroke-linejoin="round" vector-effect="non-scaling-stroke"/>
<polygon points="4.400,4.000 4.283,4.283 4.000,4.400 3.717,4.283 3.600,4.000 3.717,3.717 4.000,3.600 4.283,3.717" fill="#ececec" stroke="#ff3030" stroke-width="2.35" stroke-linejoin="round" vector-effect="non-scaling-stroke"/>
<polygon points="4.400,4.000 4.283,4.283 4.000,4.400 3.717,4.283 3.600,4.000 3.717,3.717 4.000,3.600 4.283,3.717" fill="none" stroke="#220004" stroke-width="1.6" stroke-linejoin="round" vector-effect="non-scaling-stroke"/>
<polygon points="4.400,5.000 4.283,5.283 4.000,5.400 3.717,5.283 3.600,5.000 3.717,4.717 4.000,4.600 4.283,4.717" fill="#fcfcff" stroke="#4438ff" stroke-width="2.3" stroke-linejoin="round" vector-effect="non-scaling-stroke"/>
<polygon points="4.400,5.000 4.283,5.283 4.000,5.400 3.717,5.283 3.600,5.000 3.717,4.717 4.000,4.600 4.283,4.717" fill="none" stroke="#100014" stroke-width="1.6" stroke-linejoin="round" vector-effect="non-scaling-stroke"/>
<polygon points="4.400,6.000 4.283,6.283 4.000,6.400 3.717,6.283 3.600,6.000 3.717,5.717 4.000,5.600 4.283,5.717" fill="#fcfcff" stroke="#4438ff" stroke-width="2.3" stroke-linejoin="round" vector-effect="non-scaling-stroke"/>
<polygon points="4.400,6.000 4.283,6.283 4.000,6.400 3.717,6.283 3.600,6.000 3.717,5.717 4.000,5.600 4.283,5.717" fill="none" stroke="#100014" stroke-width="1.6" stroke-linejoin="round" vector-effect="non-scaling-stroke"/>
<polygon points="4.400,7.000 4.283,7.283 4.000,7.400 3.717,7.283 3.600,7.000 3.717,6.717 4.000,6.600 4.283,6.717" fill="#fcfcff" stroke="#4438ff" stroke-width="2.3" stroke-linejoin="round" vector-effect="non-scaling-stroke"/>
<polygon points="4.400,7.000 4.283,7.283 4.000,7.400 3.717,7.283 3.600,7.000 3.717,6.717 4.000,6.600 4.283,6.717" fill="none" stroke="#100014" stroke-width="1.6" stroke-linejoin="round" vector-effect="non-scaling-stroke"/>
<polygon points="4.400,8.000 4.283,8.283 4.000,8.400 3.717,8.283 3.600,8.000 3.717,7.717 4.000,7.600 4.283,7.717" fill="#fcfcff" stroke="#4438ff" stroke-width="2.3" stroke-linejoin="round" vector-effect="non-scaling-stroke"/>
<polygon points="4.400,8.000 4.283,8.283 4.000,8.400 3.717,8.283 3.600,8.000 3.717,7.717 4.000,7.600 4.283,7.717" fill="none" stroke="#100014" stroke-width="1.6" stroke-linejoin="round" vector-effect="non-scaling-stroke"/>
<polygon points="5.400,0.000 5.283,0.283 5.000,0.400 4.717,0.283 4.600,0.000 4.717,-0.283 5.000,-0.400 5.283,-0.283" fill="#ececec" stroke="#ff3030" stroke-width="2.35" stroke-linejoin="round" vector-effect="non-scaling-stroke"/>
<polygon points="5.400,0.000 5.283,0.283 5.000,0.400 4.717,0.283 4.600,0.000 4.717,-0.283 5.000,-0.400 5.283,-0.283" fill="none" stroke="#220004" stroke-width="1.6" stroke-linejoin="round" vector-effect="non-scaling-stroke"/>
<polygon points="5.400,1.000 5.283,1.283 5.000,1.400 4.717,1.283 4.600,1.000 4.717,0.717 5.000,0.600 5.283,0.717" fill="#ececec" stroke="#ff3030" stroke-width="2.35" stroke-linejoin="round" vector-effect="non-scaling-stroke"/>
<polygon points="5.400,1.000 5.283,1.283 5.000,1.400 4.717,1.283 4.600,1.000 4.717,0.717 5.000,0.600 5.283,0.717" fill="none" stroke="#220004" stroke-width="1.6" stroke-linejoin="round" vector-effect="non-scaling-stroke"/>
<polygon points="5.400,2.000 5.283,2.283 5.000,2.400 4.717,2.283 4.600,2.000 4.717,1.717 5.000,1.600 5.283,1.717" fill="#ececec" stroke="#ff3030" stroke-width="2.35" stroke-linejoin="round" vector-effect="non-scaling-stroke"/>
<polygon points="5.400,2.000 5.283,2.283 5.000,2.400 4.717,2.283 4.600,2.000 4.717,1.717 5.000,1.600 5.283,1.717" fill="none" stroke="#220004" stroke-width="1.6" stroke-linejoin="round" vector-effect="non-scaling-stroke"/>
<polygon points="5.400,3.000 5.283,3.283 5.000,3.400 4.717,3.283 4.600,3.000 4.717,2.717 5.000,2.600 5.283,2.717" fill="#ececec" stroke="#ff3030" stroke-width="2.35" stroke-linejoin="round" vector-effect="non-scaling-stroke"/>
<polygon points="5.400,3.000 5.283,3.283 5.000,3.400 4.717,3.283 4.600,3.000 4.717,2.717 5.000,2.600 5.283,2.717" fill="none" stroke="#220004" stroke-width="1.6" stroke-linejoin="round" vector-effect="non-scaling-stroke"/>
<polygon points="5.400,4.000 5.283,4.283 5.000,4.400 4.717,4.283 4.600,4.000 4.717,3.717 5.000,3.600 5.283,3.717" fill="#ececec" stroke="#ff3030" stroke-width="2.35" stroke-linejoin="round" vector-effect="non-scaling-stroke"/>
<polygon points="5.400,4.000 5.283,4.283 5.000,4.400 4.717,4.283 4.600,4.000 4.717,3.717 5.000,3.600 5.283,3.717" fill="none" stroke="#220004" stroke-width="1.6" stroke-linejoin="round" vector-effect="non-scaling-stroke"/>
<polygon points="5.400,5.000 5.283,5.283 5.000,5.400 4.717,5.283 4.600,5.000 4.717,4.717 5.000,4.600 5.283,4.717" fill="#fcfcff" stroke="#4438ff" stroke-width="2.3" stroke-linejoin="round" vector-effect="non-scaling-stroke"/>
<polygon points="5.400,5.000 5.283,5.283 5.000,5.400 4.717,5.283 4.600,5.000 4.717,4.717 5.000,4.600 5.283,4.717" fill="none" stroke="#100014" stroke-width="1.6" stroke-linejoin="round" vector-effect="non-scaling-stroke"/>
<polygon points="5.400,6.000 5.283,6.283 5.000,6.400 4.717,6.283 4.600,6.000 4.717,5.717 5.000,5.600 5.283,5.717" fill="#fcfcff" stroke="#4438ff" stroke-width="2.3" stroke-linejoin="round" vector-effect="non-scaling-stroke"/>
<polygon points="5.400,6.000 5.283,6.283 5.000,6.400 4.717,6.283 4.600,6.000 4.717,5.717 5.000,5.600 5.283,5.717" fill="none" stroke="#100014" stroke-width="1.6" stroke-linejoin="round" vector-effect="non-scaling-stroke"/>
<polygon points="5.400,7.000 5.283,7.283 5.000,7.400 4.717,7.283 4.600,7.000 4.717,6.717 5.000,6.600 5.283,6.717" fill="#fcfcff" stroke="#4438ff" stroke-width="2.3" stroke-linejoin="round" vector-effect="non-scaling-stroke"/>
<polygon points="5.400,7.000 5.283,7.283 5.000,7.400 4.717,7.283 4.600,7.000 4.717,6.717 5.000,6.600 5.283,6.717" fill="none" stroke="#100014" stroke-width="1.6" stroke-linejoin="round" vector-effect="non-scaling-stroke"/>
<polygon points="5.400,8.000 5.283,8.283 5.000,8.400 4.717,8.283 4.600,8.000 4.717,7.717 5.000,7.600 5.283,7.717" fill="#fcfcff" stroke="#4438ff" stroke-width="2.3" stroke-linejoin="round" vector-effect="non-scaling-stroke"/>
<polygon points="5.400,8.000 5.283,8.283 5.000,8.400 4.717,8.283 4.600,8.000 4.717,7.717 5.000,7.600 5.283,7.717" fill="none" stroke="#100014" stroke-width="1.6" stroke-linejoin="round" vector-effect="non-scaling-stroke"/>
<polygon points="6.400,0.000 6.283,0.283 6.000,0.400 5.717,0.283 5.600,0.000 5.717,-0.283 6.000,-0.400 6.283,-0.283" fill="#ececec" stroke="#ff3030" stroke-width="2.35" stroke-linejoin="round" vector-effect="non-scaling-stroke"/>
<polygon points="6.400,0.000 6.283,0.283 6.000,0.400 5.717,0.283 5.600,0.000 5.717,-0.283 6.000,-0.400 6.283,-0.283" fill="none" stroke="#220004" stroke-width="1.6" stroke-linejoin="round" vector-effect="non-scaling-stroke"/>
<polygon points="6.400,1.000 6.283,1.283 6.000,1.400 5.717,1.283 5.600,1.000 5.717,0.717 6.000,0.600 6.283,0.717" fill="#ececec" stroke="#ff3030" stroke-width="2.35" stroke-linejoin="round" vector-effect="non-scaling-stroke"/>
<polygon points="6.400,1.000 6.283,1.283 6.000,1.400 5.717,1.283 5.600,1.000 5.717,0.717 6.000,0.600 6.283,0.717" fill="none" stroke="#220004" stroke-width="1.6" stroke-linejoin="round" vector-effect="non-scaling-stroke"/>
<polygon points="6.400,2.000 6.283,2.283 6.000,2.400 5.717,2.283 5.600,2.000 5.717,1.717 6.000,1.600 6.283,1.717" fill="#ececec" stroke="#ff3030" stroke-width="2.35" stroke-linejoin="round" vector-effect="non-scaling-stroke"/>
<polygon points="6.400,2.000 6.283,2.283 6.000,2.400 5.717,2.283 5.600,2.000 5.717,1.717 6.000,1.600 6.283,1.717" fill="none" stroke="#220004" stroke-width="1.6" stroke-linejoin="round" vector-effect="non-scaling-stroke"/>
<polygon points="6.400,3.000 6.283,3.283 6.000,3.400 5.717,3.283 5.600,3.000 5.717,2.717 6.000,2.600 6.283,2.717" fill="#ececec" stroke="#ff3030" stroke-width="2.35" stroke-linejoin="round" vector-effect="non-scaling-stroke"/>
<polygon points="6.400,3.000 6.283,3.283 6.000,3.400 5.717,3.283 5.600,3.000 5.717,2.717 6.000,2.600 6.283,2.717" fill="none" stroke="#220004" stroke-width="1.6" stroke-linejoin="round" vector-effect="non-scaling-stroke"/>
<polygon points="6.400,4.000 6.283,4.283 6.000,4.400 5.717,4.283 5.600,4.000 5.717,3.717 6.000,3.600 6.283,3.717" fill="#ececec" stroke="#ff3030" stroke-width="2.35" stroke-linejoin="round" vector-effect="non-scaling-stroke"/>
<polygon points="6.400,4.000 6.283,4.283 6.000,4.400 5.717,4.283 5.600,4.000 5.717,3.717 6.000,3.600 6.283,3.717" fill="none" stroke="#220004" stroke-width="1.6" stroke-linejoin="round" vector-effect="non-scaling-stroke"/>
<polygon points="6.400,5.000 6.283,5.283 6.000,5.400 5.717,5.283 5.600,5.000 5.717,4.717 6.000,4.600 6.283,4.717" fill="#fcfcff" stroke="#4438ff" stroke-width="2.3" stroke-linejoin="round" vector-effect="non-scaling-stroke"/>
<polygon points="6.400,5.000 6.283,5.283 6.000,5.400 5.717,5.283 5.600,5.000 5.717,4.717 6.000,4.600 6.283,4.717" fill="none" stroke="#100014" stroke-width="1.6" stroke-linejoin="round" vector-effect="non-scaling-stroke"/>
<polygon points="6.400,6.000 6.283,6.283 6.000,6.400 5.717,6.283 5.600,6.000 5.717,5.717 6.000,5.600 6.283,5.717" fill="#fcfcff" stroke="#4438ff" stroke-width="2.3" stroke-linejoin="round" vector-effect="non-scaling-stroke"/>
<polygon points="6.400,6.000 6.283,6.283 6.000,6.400 5.717,6.283 5.600,6.000 5.717,5.717 6.000,5.600 6.283,5.717" fill="none" stroke="#100014" stroke-width="1.6" stroke-linejoin="round" vector-effect="non-scaling-stroke"/>
<polygon points="6.400,7.000 6.283,7.283 6.000,7.400 5.717,7.283 5.600,7.000 5.717,6.717 6.000,6.600 6.283,6.717" fill="#fcfcff" stroke="#4438ff" stroke-width="2.3" stroke-linejoin="round" vector-effect="non-scaling-stroke"/>
<polygon points="6.400,7.000 6.283,7.283 6.000,7.400 5.717,7.283 5.600,7.000 5.717,6.717 6.000,6.600 6.283,6.717" fill="none" stroke="#100014" stroke-width="1.6" stroke-linejoin="round" vector-effect="non-scaling-stroke"/>
<polygon points="6.400,8.000 6.283,8.283 6.000,8.400 5.717,8.283 5.600,8.000 5.717,7.717 6.000,7.600 6.283,7.717" fill="#fcfcff" stroke="#4438ff" stroke-width="2.3" stroke-linejoin="round" vector-effect="non-scaling-stroke"/>
<polygon points="6.400,8.000 6.283,8.283 6.000,8.400 5.717,8.283 5.600,8.000 5.717,7.717 6.000,7.600 6.283,7.717" fill="none" stroke="#100014" stroke-width="1.6" stroke-linejoin="round" vector-effect="non-scaling-stroke"/>
<polygon points="7.400,0.000 7.283,0.283 7.000,0.400 6.717,0.283 6.600,0.000 6.717,-0.283 7.000,-0.400 7.283,-0.283" fill="#ececec" stroke="#ff3030" stroke-width="2.35" stroke-linejoin="round" vector-effect="non-scaling-stroke"/>
<polygon points="7.400,0.000 7.283,0.283 7.000,0.400 6.717,0.283 6.600,0.000 6.717,-0.283 7.000,-0.400 7.283,-0.283" fill="none" stroke="#220004" stroke-width="1.6" stroke-linejoin="round" vector-effect="non-scaling-stroke"/>
<polygon points="7.400,1.000 7.283,1.283 7.000,1.400 6.717,1.283 6.600,1.000 6.717,0.717 7.000,0.600 7.283,0.717" fill="#ececec" stroke="#ff3030" stroke-width="2.35" stroke-linejoin="round" vector-effect="non-scaling-stroke"/>
<polygon points="7.400,1.000 7.283,1.283 7.000,1.400 6.717,1.283 6.600,1.000 6.717,0.717 7.000,0.600 7.283,0.717" fill="none" stroke="#220004" stroke-width="1.6" stroke-linejoin="round" vector-effect="non-scaling-stroke"/>
<polygon points="7.400,2.000 7.283,2.283 7.000,2.400 6.717,2.283 6.600,2.000 6.717,1.717 7.000,1.600 7.283,1.717" fill="#ececec" stroke="#ff3030" stroke-width="2.35" stroke-linejoin="round" vector-effect="non-scaling-stroke"/>
<polygon points="7.400,2.000 7.283,2.283 7.000,2.400 6.717,2.283 6.600,2.000 6.717,1.717 7.000,1.600 7.283,1.717" fill="none" stroke="#220004" stroke-width="1.6" stroke-linejoin="round" vector-effect="non-scaling-stroke"/>
<polygon points="7.400,3.000 7.283,3.283 7.000,3.400 6.717,3.283 6.600,3.000 6.717,2.717 7.000,2.600 7.283,2.717" fill="#ececec" stroke="#ff3030" stroke-width="2.35" stroke-linejoin="round" vector-effect="non-scaling-stroke"/>
<polygon points="7.400,3.000 7.283,3.283 7.000,3.400 6.717,3.283 6.600,3.000 6.717,2.717 7.000,2.600 7.283,2.717" fill="none" stroke="#220004" stroke-width="1.6" stroke-linejoin="round" vector-effect="non-scaling-stroke"/>
<polygon points="7.400,4.000 7.283,4.283 7.000,4.400 6.717,4.283 6.600,4.000 6.717,3.717 7.000,3.600 7.283,3.717" fill="#ececec" stroke="#ff3030" stroke-width="2.35" stroke-linejoin="round" vector-effect="non-scaling-stroke"/>
<polygon points="7.400,4.000 7.283,4.283 7.000,4.400 6.717,4.283 6.600,4.000 6.717,3.717 7.000,3.600 7.283,3.717" fill="none" stroke="#220004" stroke-width="1.6" stroke-linejoin="round" vector-effect="non-scaling-stroke"/>
<polygon points="7.400,5.000 7.283,5.283 7.000,5.400 6.717,5.283 6.600,5.000 6.717,4.717 7.000,4.600 7.283,4.717" fill="#fcfcff" stroke="#4438ff" stroke-width="2.3" stroke-linejoin="round" vector-effect="non-scaling-stroke"/>
<polygon points="7.400,5.000 7.283,5.283 7.000,5.400 6.717,5.283 6.600,5.000 6.717,4.717 7.000,4.600 7.283,4.717" fill="none" stroke="#100014" stroke-width="1.6" stroke-linejoin="round" vector-effect="non-scaling-stroke"/>
<polygon points="7.400,6.000 7.283,6.283 7.000,6.400 6.717,6.283 6.600,6.000 6.717,5.717 7.000,5.600 7.283,5.717" fill="#fcfcff" stroke="#4438ff" stroke-width="2.3" stroke-linejoin="round" vector-effect="non-scaling-stroke"/>
<polygon points="7.400,6.000 7.283,6.283 7.000,6.400 6.717,6.283 6.600,6.000 6.717,5.717 7.000,5.600 7.283,5.717" fill="none" stroke="#100014" stroke-width="1.6" stroke-linejoin="round" vector-effect="non-scaling-stroke"/>
<polygon points="7.400,7.000 7.283,7.283 7.000,7.400 6.717,7.283 6.600,7.000 6.717,6.717 7.000,6.600 7.283,6.717" fill="#fcfcff" stroke="#4438ff" stroke-width="2.3" stroke-linejoin="round" vector-effect="non-scaling-stroke"/>
<polygon points="7.400,7.000 7.283,7.283 7.000,7.400 6.717,7.283 6.600,7.000 6.717,6.717 7.000,6.600 7.283,6.717" fill="none" stroke="#100014" stroke-width="1.6" stroke-linejoin="round" vector-effect="non-scaling-stroke"/>
<polygon points="7.400,8.000 7.283,8.283 7.000,8.400 6.717,8.283 6.600,8.000 6.717,7.717 7.000,7.600 7.283,7.717" fill="#fcfcff" stroke="#4438ff" stroke-width="2.3" stroke-linejoin="round" vector-effect="non-scaling-stroke"/>
<polygon points="7.400,8.000 7.283,8.283 7.000,8.400 6.717,8.283 6.600,8.000 6.717,7.717 7.000,7.600 7.283,7.717" fill="none" stroke="#100014" stroke-width="1.6" stroke-linejoin="round" vector-effect="non-scaling-stroke"/>
<polygon points="8.400,0.000 8.283,0.283 8.000,0.400 7.717,0.283 7.600,0.000 7.717,-0.283 8.000,-0.400 8.283,-0.283" fill="#ececec" stroke="#ff3030" stroke-width="2.35" stroke-linejoin="round" vector-effect="non-scaling-stroke"/>
<polygon points="8.400,0.000 8.283,0.283 8.000,0.400 7.717,0.283 7.600,0.000 7.717,-0.283 8.000,-0.400 8.283,-0.283" fill="none" stroke="#220004" stroke-width="1.6" stroke-linejoin="round" vector-effect="non-scaling-stroke"/>
<polygon points="8.400,1.000 8.283,1.283 8.000,1.400 7.717,1.283 7.600,1.000 7.717,0.717 8.000,0.600 8.283,0.717" fill="#ececec" stroke="#ff3030" stroke-width="2.35" stroke-linejoin="round" vector-effect="non-scaling-stroke"/>
<polygon points="8.400,1.000 8.283,1.283 8.000,1.400 7.717,1.283 7.600,1.000 7.717,0.717 8.000,0.600 8.283,0.717" fill="none" stroke="#220004" stroke-width="1.6" stroke-linejoin="round" vector-effect="non-scaling-stroke"/>
<polygon points="8.400,2.000 8.283,2.283 8.000,2.400 7.717,2.283 7.600,2.000 7.717,1.717 8.000,1.600 8.283,1.717" fill="#ececec" stroke="#ff3030" stroke-width="2.35" stroke-linejoin="round" vector-effect="non-scaling-stroke"/>
<polygon points="8.400,2.000 8.283,2.283 8.000,2.400 7.717,2.283 7.600,2.000 7.717,1.717 8.000,1.600 8.283,1.717" fill="none" stroke="#220004" stroke-width="1.6" stroke-linejoin="round" vector-effect="non-scaling-stroke"/>
<polygon points="8.400,3.000 8.283,3.283 8.000,3.400 7.717,3.283 7.600,3.000 7.717,2.717 8.000,2.600 8.283,2.717" fill="#ececec" stroke="#ff3030" stroke-width="2.35" stroke-linejoin="round" vector-effect="non-scaling-stroke"/>
<polygon points="8.400,3.000 8.283,3.283 8.000,3.400 7.717,3.283 7.600,3.000 7.717,2.717 8.000,2.600 8.283,2.717" fill="none" stroke="#220004" stroke-width="1.6" stroke-linejoin="round" vector-effect="non-scaling-stroke"/>
<polygon points="8.400,4.000 8.283,4.283 8.000,4.400 7.717,4.283 7.600,4.000 7.717,3.717 8.000,3.600 8.283,3.717" fill="#ececec" stroke="#ff3030" stroke-width="2.35" stroke-linejoin="round" vector-effect="non-scaling-stroke"/>
<polygon points="8.400,4.000 8.283,4.283 8.000,4.400 7.717,4.283 7.600,4.000 7.717,3.717 8.000,3.600 8.283,3.717" fill="none" stroke="#220004" stroke-width="1.6" stroke-linejoin="round" vector-effect="non-scaling-stroke"/>
<polygon points="8.400,5.000 8.283,5.283 8.000,5.400 7.717,5.283 7.600,5.000 7.717,4.717 8.000,4.600 8.283,4.717" fill="#fcfcff" stroke="#4438ff" stroke-width="2.3" stroke-linejoin="round" vector-effect="non-scaling-stroke"/>
<polygon points="8.400,5.000 8.283,5.283 8.000,5.400 7.717,5.283 7.600,5.000 7.717,4.717 8.000,4.600 8.283,4.717" fill="none" stroke="#100014" stroke-width="1.6" stroke-linejoin="round" vector-effect="non-scaling-stroke"/>
<polygon points="8.400,6.000 8.283,6.283 8.000,6.400 7.717,6.283 7.600,6.000 7.717,5.717 8.000,5.600 8.283,5.717" fill="#fcfcff" stroke="#4438ff" stroke-width="2.3" stroke-linejoin="round" vector-effect="non-scaling-stroke"/>
<polygon points="8.400,6.000 8.283,6.283 8.000,6.400 7.717,6.283 7.600,6.000 7.717,5.717 8.000,5.600 8.283,5.717" fill="none" stroke="#100014" stroke-width="1.6" stroke-linejoin="round" vector-effect="non-scaling-stroke"/>
<polygon points="8.400,7.000 8.283,7.283 8.000,7.400 7.717,7.283 7.600,7.000 7.717,6.717 8.000,6.600 8.283,6.717" fill="#fcfcff" stroke="#4438ff" stroke-width="2.3" stroke-linejoin="round" vector-effect="non-scaling-stroke"/>
<polygon points="8.400,7.000 8.283,7.283 8.000,7.400 7.717,7.283 7.600,7.000 7.717,6.717 8.000,6.600 8.283,6.717" fill="none" stroke="#100014" stroke-width="1.6" stroke-linejoin="round" vector-effect="non-scaling-stroke"/>
<polygon points="8.400,8.000 8.283,8.283 8.000,8.400 7.717,8.283 7.600,8.000 7.717,7.717 8.000,7.600 8.283,7.717" fill="#fcfcff" stroke="#4438ff" stroke-width="2.3" stroke-linejoin="round" vector-effect="non-scaling-stroke"/>
<polygon points="8.400,8.000 8.283,8.283 8.000,8.400 7.717,8.283 7.600,8.000 7.717,7.717 8.000,7.600 8.283,7.717" fill="none" stroke="#100014" stroke-width="1.6" stroke-linejoin="round" vector-effect="non-scaling-stroke"/>
</g></g>
<polyline points="482.5,509.5 585.7,566.2 724.3,524.1" fill="none" stroke="#222" stroke-width="1.2"/>
<line x1="534.1" y1="537.9" x2="531.9" y2="540.5" stroke="#222" stroke-width="1"/>
<line x1="637.7" y1="550.4" x2="639.2" y2="553.4" stroke="#222" stroke-width="1"/>
<g transform="matrix(17.33,-5.26,12.9,7.09,564.72,495.55)"><circle r="0.475" fill="#350000"/></g>
<rect x="554.46" y="489.55" width="20.52" height="6.00" fill="url(#cyl)"/>
<g transform="matrix(17.33,-5.26,12.9,7.09,564.72,489.55)"><circle r="0.475" fill="#d4d4d4"/></g>
<ellipse cx="564.72" cy="489.05" rx="5.83" ry="2.10" fill="#5a0000"/>
<g transform="matrix(17.33,-5.26,12.9,7.09,655.41,501.04)"><circle r="0.475" fill="#350000"/></g>
<rect x="645.15" y="495.04" width="20.52" height="6.00" fill="url(#cyl)"/>
<g transform="matrix(17.33,-5.26,12.9,7.09,655.41,495.04)"><circle r="0.475" fill="#d4d4d4"/></g>
<ellipse cx="655.41" cy="494.54" rx="5.83" ry="2.10" fill="#5a0000"/>
<g transform="matrix(17.33,-5.26,12.9,7.09,590.52,509.73)"><circle r="0.475" fill="#350000"/></g>
<rect x="580.26" y="504.73" width="20.52" height="5.00" fill="url(#cyl)"/>
<g transform="matrix(17.33,-5.26,12.9,7.09,590.52,504.73)"><circle r="0.475" fill="#d4d4d4"/></g>
<ellipse cx="590.52" cy="504.23" rx="5.83" ry="2.10" fill="#5a0000"/>
<g transform="matrix(17.33,-5.26,12.9,7.09,620.75,511.56)"><circle r="0.475" fill="#350000"/></g>
<rect x="610.49" y="504.36" width="20.52" height="7.20" fill="url(#cyl)"/>
<g transform="matrix(17.33,-5.26,12.9,7.09,620.75,504.36)"><circle r="0.475" fill="#d4d4d4"/></g>
<ellipse cx="620.75" cy="503.86" rx="5.83" ry="2.10" fill="#5a0000"/>
<g transform="matrix(17.33,-5.26,12.9,7.09,603.42,516.82)"><circle r="0.475" fill="#440000"/></g>
<rect x="593.16" y="366.72" width="20.52" height="150.10" fill="url(#hot)"/>
<g transform="matrix(17.33,-5.26,12.9,7.09,603.42,366.72)"><circle r="0.475" fill="#c9c9c9"/></g>
<ellipse cx="603.42" cy="366.72" rx="4.75" ry="1.95" fill="#f4f428"/>
<g transform="matrix(17.33,-5.26,12.9,7.09,586.09,522.08)"><circle r="0.475" fill="#350000"/></g>
<rect x="575.83" y="510.58" width="20.52" height="11.50" fill="url(#cyl)"/>
<g transform="matrix(17.33,-5.26,12.9,7.09,586.09,510.58)"><circle r="0.475" fill="#d4d4d4"/></g>
<ellipse cx="586.09" cy="510.08" rx="5.83" ry="2.10" fill="#5a0000"/>
<g transform="matrix(17.33,-5.26,12.9,7.09,616.32,523.91)"><circle r="0.475" fill="#350000"/></g>
<rect x="606.06" y="511.81" width="20.52" height="12.10" fill="url(#cyl)"/>
<g transform="matrix(17.33,-5.26,12.9,7.09,616.32,511.81)"><circle r="0.475" fill="#d4d4d4"/></g>
<ellipse cx="616.32" cy="511.31" rx="5.83" ry="2.10" fill="#5a0000"/>
<g transform="matrix(17.33,-5.26,12.9,7.09,598.99,529.17)"><circle r="0.475" fill="#300000"/></g>
<rect x="588.73" y="526.17" width="20.52" height="3.00" fill="#3a0000"/>
<g transform="matrix(17.33,-5.26,12.9,7.09,598.99,526.17)"><circle r="0.475" fill="#3a0000"/></g>
<ellipse cx="598.99" cy="525.87" rx="4.54" ry="1.13" fill="#f4f4f4"/>
<text x="483.39" y="573.90" font-family="Liberation Sans" font-size="29.36" textLength="35.51" lengthAdjust="spacingAndGlyphs" fill="#1a1a1a">22</text>
<text x="653.28" y="588.11" font-family="Liberation Sans" font-size="29.38" textLength="32.35" lengthAdjust="spacingAndGlyphs" fill="#1a1a1a">10</text>
<text x="518.80" y="332.51" font-family="Liberation Serif" font-style="italic" font-size="28.55" textLength="14.93" lengthAdjust="spacingAndGlyphs" fill="#000">d</text>
<circle cx="538.70" cy="331.20" r="1.55" fill="#000"/>
<text x="553.06" y="332.10" font-family="Liberation Serif" font-style="italic" font-size="30.55" textLength="18.89" lengthAdjust="spacingAndGlyphs" fill="#000" stroke="#fff" stroke-width="0.45">ϕ</text>
<text x="573.46" y="336.78" font-family="Liberation Serif" font-style="italic" font-size="19.56" textLength="8.83" lengthAdjust="spacingAndGlyphs" fill="#000">y</text>
<line x1="586.40" y1="339.30" x2="597.20" y2="310.20" stroke="#000" stroke-width="1.25"/>
<text x="599.46" y="332.10" font-family="Liberation Serif" font-style="italic" font-size="30.55" textLength="18.89" lengthAdjust="spacingAndGlyphs" fill="#000" stroke="#fff" stroke-width="0.45">ϕ</text>
<text x="618.79" y="336.60" font-family="Liberation Serif" font-style="italic" font-size="19.17" textLength="10.48" lengthAdjust="spacingAndGlyphs" fill="#000">x</text>
<g stroke="#000" stroke-width="1.6"><line x1="641.40" y1="321.50" x2="662.10" y2="321.50"/><line x1="641.40" y1="328.10" x2="662.10" y2="328.10"/></g>
<text x="672.75" y="332.40" font-family="Liberation Serif" font-size="28.93" textLength="13.92" lengthAdjust="spacingAndGlyphs" fill="#000" stroke="#000" stroke-width="0.25">1</text>
<clipPath id="clip280_304_4"><rect x="0" y="0" width="8" height="8"/></clipPath>
<g transform="matrix(17.33,-5.26,12.9,7.09,762.50,509.50)"><g clip-path="url(#clip280_304_4)">
<rect x="0" y="0" width="8" height="8" fill="#fafafa"/>
<rect x="-0.5" y="-0.5" width="1.02" height="1.02" fill="#fff1f1"/>
<rect x="-0.5" y="0.5" width="1.02" height="1.02" fill="#fff1f1"/>
<rect x="-0.5" y="1.5" width="1.02" height="1.02" fill="#fff1f1"/>
<rect x="-0.5" y="2.5" width="1.02" height="1.02" fill="#fff1f1"/>
<rect x="-0.5" y="3.5" width="1.02" height="1.02" fill="#fff1f1"/>
<rect x="-0.5" y="4.5" width="1.02" height="1.02" fill="#f5f3ff"/>
<rect x="-0.5" y="5.5" width="1.02" height="1.02" fill="#f5f3ff"/>
<rect x="-0.5" y="6.5" width="1.02" height="1.02" fill="#f5f3ff"/>
<rect x="-0.5" y="7.5" width="1.02" height="1.02" fill="#f5f3ff"/>
<rect x="0.5" y="-0.5" width="1.02" height="1.02" fill="#fff1f1"/>
<rect x="0.5" y="0.5" width="1.02" height="1.02" fill="#fff1f1"/>
<rect x="0.5" y="1.5" width="1.02" height="1.02" fill="#fff1f1"/>
<rect x="0.5" y="2.5" width="1.02" height="1.02" fill="#fff1f1"/>
<rect x="0.5" y="3.5" width="1.02" height="1.02" fill="#fff1f1"/>
<rect x="0.5" y="4.5" width="1.02" height="1.02" fill="#f5f3ff"/>
<rect x="0.5" y="5.5" width="1.02" height="1.02" fill="#f5f3ff"/>
<rect x="0.5" y="6.5" width="1.02" height="1.02" fill="#f5f3ff"/>
<rect x="0.5" y="7.5" width="1.02" height="1.02" fill="#f5f3ff"/>
<rect x="1.5" y="-0.5" width="1.02" height="1.02" fill="#fff1f1"/>
<rect x="1.5" y="0.5" width="1.02" height="1.02" fill="#fff1f1"/>
<rect x="1.5" y="1.5" width="1.02" height="1.02" fill="#fff1f1"/>
<rect x="1.5" y="2.5" width="1.02" height="1.02" fill="#fff1f1"/>
<rect x="1.5" y="3.5" width="1.02" height="1.02" fill="#fff1f1"/>
<rect x="1.5" y="4.5" width="1.02" height="1.02" fill="#f5f3ff"/>
<rect x="1.5" y="5.5" width="1.02" height="1.02" fill="#f5f3ff"/>
<rect x="1.5" y="6.5" width="1.02" height="1.02" fill="#f5f3ff"/>
<rect x="1.5" y="7.5" width="1.02" height="1.02" fill="#f5f3ff"/>
<rect x="2.5" y="-0.5" width="1.02" height="1.02" fill="#fff1f1"/>
<rect x="2.5" y="0.5" width="1.02" height="1.02" fill="#fff1f1"/>
<rect x="2.5" y="1.5" width="1.02" height="1.02" fill="#fff1f1"/>
<rect x="2.5" y="2.5" width="1.02" height="1.02" fill="#fff1f1"/>
<rect x="2.5" y="3.5" width="1.02" height="1.02" fill="#fff1f1"/>
<rect x="2.5" y="4.5" width="1.02" height="1.02" fill="#f5f3ff"/>
<rect x="2.5" y="5.5" width="1.02" height="1.02" fill="#f5f3ff"/>
<rect x="2.5" y="6.5" width="1.02" height="1.02" fill="#f5f3ff"/>
<rect x="2.5" y="7.5" width="1.02" height="1.02" fill="#f5f3ff"/>
<rect x="3.5" y="-0.5" width="1.02" height="1.02" fill="#fff1f1"/>
<rect x="3.5" y="0.5" width="1.02" height="1.02" fill="#fff1f1"/>
<rect x="3.5" y="1.5" width="1.02" height="1.02" fill="#fff1f1"/>
<rect x="3.5" y="2.5" width="1.02" height="1.02" fill="#fff1f1"/>
<rect x="3.5" y="3.5" width="1.02" height="1.02" fill="#fff1f1"/>
<rect x="3.5" y="4.5" width="1.02" height="1.02" fill="#f5f3ff"/>
<rect x="3.5" y="5.5" width="1.02" height="1.02" fill="#f5f3ff"/>
<rect x="3.5" y="6.5" width="1.02" height="1.02" fill="#f5f3ff"/>
<rect x="3.5" y="7.5" width="1.02" height="1.02" fill="#f5f3ff"/>
<rect x="4.5" y="-0.5" width="1.02" height="1.02" fill="#f5f3ff"/>
<rect x="4.5" y="0.5" width="1.02" height="1.02" fill="#f5f3ff"/>
<rect x="4.5" y="1.5" width="1.02" height="1.02" fill="#f5f3ff"/>
<rect x="4.5" y="2.5" width="1.02" height="1.02" fill="#f5f3ff"/>
<rect x="4.5" y="3.5" width="1.02" height="1.02" fill="#f5f3ff"/>
<rect x="4.5" y="4.5" width="1.02" height="1.02" fill="#fff1f1"/>
<rect x="4.5" y="5.5" width="1.02" height="1.02" fill="#fff1f1"/>
<rect x="4.5" y="6.5" width="1.02" height="1.02" fill="#fff1f1"/>
<rect x="4.5" y="7.5" width="1.02" height="1.02" fill="#fff1f1"/>
<rect x="5.5" y="-0.5" width="1.02" height="1.02" fill="#f5f3ff"/>
<rect x="5.5" y="0.5" width="1.02" height="1.02" fill="#f5f3ff"/>
<rect x="5.5" y="1.5" width="1.02" height="1.02" fill="#f5f3ff"/>
<rect x="5.5" y="2.5" width="1.02" height="1.02" fill="#f5f3ff"/>
<rect x="5.5" y="3.5" width="1.02" height="1.02" fill="#f5f3ff"/>
<rect x="5.5" y="4.5" width="1.02" height="1.02" fill="#fff1f1"/>
<rect x="5.5" y="5.5" width="1.02" height="1.02" fill="#fff1f1"/>
<rect x="5.5" y="6.5" width="1.02" height="1.02" fill="#fff1f1"/>
<rect x="5.5" y="7.5" width="1.02" height="1.02" fill="#fff1f1"/>
<rect x="6.5" y="-0.5" width="1.02" height="1.02" fill="#f5f3ff"/>
<rect x="6.5" y="0.5" width="1.02" height="1.02" fill="#f5f3ff"/>
<rect x="6.5" y="1.5" width="1.02" height="1.02" fill="#f5f3ff"/>
<rect x="6.5" y="2.5" width="1.02" height="1.02" fill="#f5f3ff"/>
<rect x="6.5" y="3.5" width="1.02" height="1.02" fill="#f5f3ff"/>
<rect x="6.5" y="4.5" width="1.02" height="1.02" fill="#fff1f1"/>
<rect x="6.5" y="5.5" width="1.02" height="1.02" fill="#fff1f1"/>
<rect x="6.5" y="6.5" width="1.02" height="1.02" fill="#fff1f1"/>
<rect x="6.5" y="7.5" width="1.02" height="1.02" fill="#fff1f1"/>
<rect x="7.5" y="-0.5" width="1.02" height="1.02" fill="#f5f3ff"/>
<rect x="7.5" y="0.5" width="1.02" height="1.02" fill="#f5f3ff"/>
<rect x="7.5" y="1.5" width="1.02" height="1.02" fill="#f5f3ff"/>
<rect x="7.5" y="2.5" width="1.02" height="1.02" fill="#f5f3ff"/>
<rect x="7.5" y="3.5" width="1.02" height="1.02" fill="#f5f3ff"/>
<rect x="7.5" y="4.5" width="1.02" height="1.02" fill="#fff1f1"/>
<rect x="7.5" y="5.5" width="1.02" height="1.02" fill="#fff1f1"/>
<rect x="7.5" y="6.5" width="1.02" height="1.02" fill="#fff1f1"/>
<rect x="7.5" y="7.5" width="1.02" height="1.02" fill="#fff1f1"/>
<polygon points="0.400,0.000 0.283,0.283 0.000,0.400 -0.283,0.283 -0.400,0.000 -0.283,-0.283 -0.000,-0.400 0.283,-0.283" fill="#ececec" stroke="#ff3030" stroke-width="2.35" stroke-linejoin="round" vector-effect="non-scaling-stroke"/>
<polygon points="0.400,0.000 0.283,0.283 0.000,0.400 -0.283,0.283 -0.400,0.000 -0.283,-0.283 -0.000,-0.400 0.283,-0.283" fill="none" stroke="#220004" stroke-width="1.6" stroke-linejoin="round" vector-effect="non-scaling-stroke"/>
<polygon points="0.400,1.000 0.283,1.283 0.000,1.400 -0.283,1.283 -0.400,1.000 -0.283,0.717 -0.000,0.600 0.283,0.717" fill="#ececec" stroke="#ff3030" stroke-width="2.35" stroke-linejoin="round" vector-effect="non-scaling-stroke"/>
<polygon points="0.400,1.000 0.283,1.283 0.000,1.400 -0.283,1.283 -0.400,1.000 -0.283,0.717 -0.000,0.600 0.283,0.717" fill="none" stroke="#220004" stroke-width="1.6" stroke-linejoin="round" vector-effect="non-scaling-stroke"/>
<polygon points="0.400,2.000 0.283,2.283 0.000,2.400 -0.283,2.283 -0.400,2.000 -0.283,1.717 -0.000,1.600 0.283,1.717" fill="#ececec" stroke="#ff3030" stroke-width="2.35" stroke-linejoin="round" vector-effect="non-scaling-stroke"/>
<polygon points="0.400,2.000 0.283,2.283 0.000,2.400 -0.283,2.283 -0.400,2.000 -0.283,1.717 -0.000,1.600 0.283,1.717" fill="none" stroke="#220004" stroke-width="1.6" stroke-linejoin="round" vector-effect="non-scaling-stroke"/>
<polygon points="0.400,3.000 0.283,3.283 0.000,3.400 -0.283,3.283 -0.400,3.000 -0.283,2.717 -0.000,2.600 0.283,2.717" fill="#ececec" stroke="#ff3030" stroke-width="2.35" stroke-linejoin="round" vector-effect="non-scaling-stroke"/>
<polygon points="0.400,3.000 0.283,3.283 0.000,3.400 -0.283,3.283 -0.400,3.000 -0.283,2.717 -0.000,2.600 0.283,2.717" fill="none" stroke="#220004" stroke-width="1.6" stroke-linejoin="round" vector-effect="non-scaling-stroke"/>
<polygon points="0.400,4.000 0.283,4.283 0.000,4.400 -0.283,4.283 -0.400,4.000 -0.283,3.717 -0.000,3.600 0.283,3.717" fill="#ececec" stroke="#ff3030" stroke-width="2.35" stroke-linejoin="round" vector-effect="non-scaling-stroke"/>
<polygon points="0.400,4.000 0.283,4.283 0.000,4.400 -0.283,4.283 -0.400,4.000 -0.283,3.717 -0.000,3.600 0.283,3.717" fill="none" stroke="#220004" stroke-width="1.6" stroke-linejoin="round" vector-effect="non-scaling-stroke"/>
<polygon points="0.400,5.000 0.283,5.283 0.000,5.400 -0.283,5.283 -0.400,5.000 -0.283,4.717 -0.000,4.600 0.283,4.717" fill="#fcfcff" stroke="#4438ff" stroke-width="2.3" stroke-linejoin="round" vector-effect="non-scaling-stroke"/>
<polygon points="0.400,5.000 0.283,5.283 0.000,5.400 -0.283,5.283 -0.400,5.000 -0.283,4.717 -0.000,4.600 0.283,4.717" fill="none" stroke="#100014" stroke-width="1.6" stroke-linejoin="round" vector-effect="non-scaling-stroke"/>
<polygon points="0.400,6.000 0.283,6.283 0.000,6.400 -0.283,6.283 -0.400,6.000 -0.283,5.717 -0.000,5.600 0.283,5.717" fill="#fcfcff" stroke="#4438ff" stroke-width="2.3" stroke-linejoin="round" vector-effect="non-scaling-stroke"/>
<polygon points="0.400,6.000 0.283,6.283 0.000,6.400 -0.283,6.283 -0.400,6.000 -0.283,5.717 -0.000,5.600 0.283,5.717" fill="none" stroke="#100014" stroke-width="1.6" stroke-linejoin="round" vector-effect="non-scaling-stroke"/>
<polygon points="0.400,7.000 0.283,7.283 0.000,7.400 -0.283,7.283 -0.400,7.000 -0.283,6.717 -0.000,6.600 0.283,6.717" fill="#fcfcff" stroke="#4438ff" stroke-width="2.3" stroke-linejoin="round" vector-effect="non-scaling-stroke"/>
<polygon points="0.400,7.000 0.283,7.283 0.000,7.400 -0.283,7.283 -0.400,7.000 -0.283,6.717 -0.000,6.600 0.283,6.717" fill="none" stroke="#100014" stroke-width="1.6" stroke-linejoin="round" vector-effect="non-scaling-stroke"/>
<polygon points="0.400,8.000 0.283,8.283 0.000,8.400 -0.283,8.283 -0.400,8.000 -0.283,7.717 -0.000,7.600 0.283,7.717" fill="#fcfcff" stroke="#4438ff" stroke-width="2.3" stroke-linejoin="round" vector-effect="non-scaling-stroke"/>
<polygon points="0.400,8.000 0.283,8.283 0.000,8.400 -0.283,8.283 -0.400,8.000 -0.283,7.717 -0.000,7.600 0.283,7.717" fill="none" stroke="#100014" stroke-width="1.6" stroke-linejoin="round" vector-effect="non-scaling-stroke"/>
<polygon points="1.400,0.000 1.283,0.283 1.000,0.400 0.717,0.283 0.600,0.000 0.717,-0.283 1.000,-0.400 1.283,-0.283" fill="#ececec" stroke="#ff3030" stroke-width="2.35" stroke-linejoin="round" vector-effect="non-scaling-stroke"/>
<polygon points="1.400,0.000 1.283,0.283 1.000,0.400 0.717,0.283 0.600,0.000 0.717,-0.283 1.000,-0.400 1.283,-0.283" fill="none" stroke="#220004" stroke-width="1.6" stroke-linejoin="round" vector-effect="non-scaling-stroke"/>
<polygon points="1.400,1.000 1.283,1.283 1.000,1.400 0.717,1.283 0.600,1.000 0.717,0.717 1.000,0.600 1.283,0.717" fill="#ececec" stroke="#ff3030" stroke-width="2.35" stroke-linejoin="round" vector-effect="non-scaling-stroke"/>
<polygon points="1.400,1.000 1.283,1.283 1.000,1.400 0.717,1.283 0.600,1.000 0.717,0.717 1.000,0.600 1.283,0.717" fill="none" stroke="#220004" stroke-width="1.6" stroke-linejoin="round" vector-effect="non-scaling-stroke"/>
<polygon points="1.400,2.000 1.283,2.283 1.000,2.400 0.717,2.283 0.600,2.000 0.717,1.717 1.000,1.600 1.283,1.717" fill="#ececec" stroke="#ff3030" stroke-width="2.35" stroke-linejoin="round" vector-effect="non-scaling-stroke"/>
<polygon points="1.400,2.000 1.283,2.283 1.000,2.400 0.717,2.283 0.600,2.000 0.717,1.717 1.000,1.600 1.283,1.717" fill="none" stroke="#220004" stroke-width="1.6" stroke-linejoin="round" vector-effect="non-scaling-stroke"/>
<polygon points="1.400,3.000 1.283,3.283 1.000,3.400 0.717,3.283 0.600,3.000 0.717,2.717 1.000,2.600 1.283,2.717" fill="#ececec" stroke="#ff3030" stroke-width="2.35" stroke-linejoin="round" vector-effect="non-scaling-stroke"/>
<polygon points="1.400,3.000 1.283,3.283 1.000,3.400 0.717,3.283 0.600,3.000 0.717,2.717 1.000,2.600 1.283,2.717" fill="none" stroke="#220004" stroke-width="1.6" stroke-linejoin="round" vector-effect="non-scaling-stroke"/>
<polygon points="1.400,4.000 1.283,4.283 1.000,4.400 0.717,4.283 0.600,4.000 0.717,3.717 1.000,3.600 1.283,3.717" fill="#ececec" stroke="#ff3030" stroke-width="2.35" stroke-linejoin="round" vector-effect="non-scaling-stroke"/>
<polygon points="1.400,4.000 1.283,4.283 1.000,4.400 0.717,4.283 0.600,4.000 0.717,3.717 1.000,3.600 1.283,3.717" fill="none" stroke="#220004" stroke-width="1.6" stroke-linejoin="round" vector-effect="non-scaling-stroke"/>
<polygon points="1.400,5.000 1.283,5.283 1.000,5.400 0.717,5.283 0.600,5.000 0.717,4.717 1.000,4.600 1.283,4.717" fill="#fcfcff" stroke="#4438ff" stroke-width="2.3" stroke-linejoin="round" vector-effect="non-scaling-stroke"/>
<polygon points="1.400,5.000 1.283,5.283 1.000,5.400 0.717,5.283 0.600,5.000 0.717,4.717 1.000,4.600 1.283,4.717" fill="none" stroke="#100014" stroke-width="1.6" stroke-linejoin="round" vector-effect="non-scaling-stroke"/>
<polygon points="1.400,6.000 1.283,6.283 1.000,6.400 0.717,6.283 0.600,6.000 0.717,5.717 1.000,5.600 1.283,5.717" fill="#fcfcff" stroke="#4438ff" stroke-width="2.3" stroke-linejoin="round" vector-effect="non-scaling-stroke"/>
<polygon points="1.400,6.000 1.283,6.283 1.000,6.400 0.717,6.283 0.600,6.000 0.717,5.717 1.000,5.600 1.283,5.717" fill="none" stroke="#100014" stroke-width="1.6" stroke-linejoin="round" vector-effect="non-scaling-stroke"/>
<polygon points="1.400,7.000 1.283,7.283 1.000,7.400 0.717,7.283 0.600,7.000 0.717,6.717 1.000,6.600 1.283,6.717" fill="#fcfcff" stroke="#4438ff" stroke-width="2.3" stroke-linejoin="round" vector-effect="non-scaling-stroke"/>
<polygon points="1.400,7.000 1.283,7.283 1.000,7.400 0.717,7.283 0.600,7.000 0.717,6.717 1.000,6.600 1.283,6.717" fill="none" stroke="#100014" stroke-width="1.6" stroke-linejoin="round" vector-effect="non-scaling-stroke"/>
<polygon points="1.400,8.000 1.283,8.283 1.000,8.400 0.717,8.283 0.600,8.000 0.717,7.717 1.000,7.600 1.283,7.717" fill="#fcfcff" stroke="#4438ff" stroke-width="2.3" stroke-linejoin="round" vector-effect="non-scaling-stroke"/>
<polygon points="1.400,8.000 1.283,8.283 1.000,8.400 0.717,8.283 0.600,8.000 0.717,7.717 1.000,7.600 1.283,7.717" fill="none" stroke="#100014" stroke-width="1.6" stroke-linejoin="round" vector-effect="non-scaling-stroke"/>
<polygon points="2.400,0.000 2.283,0.283 2.000,0.400 1.717,0.283 1.600,0.000 1.717,-0.283 2.000,-0.400 2.283,-0.283" fill="#ececec" stroke="#ff3030" stroke-width="2.35" stroke-linejoin="round" vector-effect="non-scaling-stroke"/>
<polygon points="2.400,0.000 2.283,0.283 2.000,0.400 1.717,0.283 1.600,0.000 1.717,-0.283 2.000,-0.400 2.283,-0.283" fill="none" stroke="#220004" stroke-width="1.6" stroke-linejoin="round" vector-effect="non-scaling-stroke"/>
<polygon points="2.400,1.000 2.283,1.283 2.000,1.400 1.717,1.283 1.600,1.000 1.717,0.717 2.000,0.600 2.283,0.717" fill="#ececec" stroke="#ff3030" stroke-width="2.35" stroke-linejoin="round" vector-effect="non-scaling-stroke"/>
<polygon points="2.400,1.000 2.283,1.283 2.000,1.400 1.717,1.283 1.600,1.000 1.717,0.717 2.000,0.600 2.283,0.717" fill="none" stroke="#220004" stroke-width="1.6" stroke-linejoin="round" vector-effect="non-scaling-stroke"/>
<polygon points="2.400,2.000 2.283,2.283 2.000,2.400 1.717,2.283 1.600,2.000 1.717,1.717 2.000,1.600 2.283,1.717" fill="#ececec" stroke="#ff3030" stroke-width="2.35" stroke-linejoin="round" vector-effect="non-scaling-stroke"/>
<polygon points="2.400,2.000 2.283,2.283 2.000,2.400 1.717,2.283 1.600,2.000 1.717,1.717 2.000,1.600 2.283,1.717" fill="none" stroke="#220004" stroke-width="1.6" stroke-linejoin="round" vector-effect="non-scaling-stroke"/>
<polygon points="2.400,3.000 2.283,3.283 2.000,3.400 1.717,3.283 1.600,3.000 1.717,2.717 2.000,2.600 2.283,2.717" fill="#ececec" stroke="#ff3030" stroke-width="2.35" stroke-linejoin="round" vector-effect="non-scaling-stroke"/>
<polygon points="2.400,3.000 2.283,3.283 2.000,3.400 1.717,3.283 1.600,3.000 1.717,2.717 2.000,2.600 2.283,2.717" fill="none" stroke="#220004" stroke-width="1.6" stroke-linejoin="round" vector-effect="non-scaling-stroke"/>
<polygon points="2.400,4.000 2.283,4.283 2.000,4.400 1.717,4.283 1.600,4.000 1.717,3.717 2.000,3.600 2.283,3.717" fill="#ececec" stroke="#ff3030" stroke-width="2.35" stroke-linejoin="round" vector-effect="non-scaling-stroke"/>
<polygon points="2.400,4.000 2.283,4.283 2.000,4.400 1.717,4.283 1.600,4.000 1.717,3.717 2.000,3.600 2.283,3.717" fill="none" stroke="#220004" stroke-width="1.6" stroke-linejoin="round" vector-effect="non-scaling-stroke"/>
<polygon points="2.400,5.000 2.283,5.283 2.000,5.400 1.717,5.283 1.600,5.000 1.717,4.717 2.000,4.600 2.283,4.717" fill="#fcfcff" stroke="#4438ff" stroke-width="2.3" stroke-linejoin="round" vector-effect="non-scaling-stroke"/>
<polygon points="2.400,5.000 2.283,5.283 2.000,5.400 1.717,5.283 1.600,5.000 1.717,4.717 2.000,4.600 2.283,4.717" fill="none" stroke="#100014" stroke-width="1.6" stroke-linejoin="round" vector-effect="non-scaling-stroke"/>
<polygon points="2.400,6.000 2.283,6.283 2.000,6.400 1.717,6.283 1.600,6.000 1.717,5.717 2.000,5.600 2.283,5.717" fill="#fcfcff" stroke="#4438ff" stroke-width="2.3" stroke-linejoin="round" vector-effect="non-scaling-stroke"/>
<polygon points="2.400,6.000 2.283,6.283 2.000,6.400 1.717,6.283 1.600,6.000 1.717,5.717 2.000,5.600 2.283,5.717" fill="none" stroke="#100014" stroke-width="1.6" stroke-linejoin="round" vector-effect="non-scaling-stroke"/>
<polygon points="2.400,7.000 2.283,7.283 2.000,7.400 1.717,7.283 1.600,7.000 1.717,6.717 2.000,6.600 2.283,6.717" fill="#fcfcff" stroke="#4438ff" stroke-width="2.3" stroke-linejoin="round" vector-effect="non-scaling-stroke"/>
<polygon points="2.400,7.000 2.283,7.283 2.000,7.400 1.717,7.283 1.600,7.000 1.717,6.717 2.000,6.600 2.283,6.717" fill="none" stroke="#100014" stroke-width="1.6" stroke-linejoin="round" vector-effect="non-scaling-stroke"/>
<polygon points="2.400,8.000 2.283,8.283 2.000,8.400 1.717,8.283 1.600,8.000 1.717,7.717 2.000,7.600 2.283,7.717" fill="#fcfcff" stroke="#4438ff" stroke-width="2.3" stroke-linejoin="round" vector-effect="non-scaling-stroke"/>
<polygon points="2.400,8.000 2.283,8.283 2.000,8.400 1.717,8.283 1.600,8.000 1.717,7.717 2.000,7.600 2.283,7.717" fill="none" stroke="#100014" stroke-width="1.6" stroke-linejoin="round" vector-effect="non-scaling-stroke"/>
<polygon points="3.400,0.000 3.283,0.283 3.000,0.400 2.717,0.283 2.600,0.000 2.717,-0.283 3.000,-0.400 3.283,-0.283" fill="#ececec" stroke="#ff3030" stroke-width="2.35" stroke-linejoin="round" vector-effect="non-scaling-stroke"/>
<polygon points="3.400,0.000 3.283,0.283 3.000,0.400 2.717,0.283 2.600,0.000 2.717,-0.283 3.000,-0.400 3.283,-0.283" fill="none" stroke="#220004" stroke-width="1.6" stroke-linejoin="round" vector-effect="non-scaling-stroke"/>
<polygon points="3.400,1.000 3.283,1.283 3.000,1.400 2.717,1.283 2.600,1.000 2.717,0.717 3.000,0.600 3.283,0.717" fill="#ececec" stroke="#ff3030" stroke-width="2.35" stroke-linejoin="round" vector-effect="non-scaling-stroke"/>
<polygon points="3.400,1.000 3.283,1.283 3.000,1.400 2.717,1.283 2.600,1.000 2.717,0.717 3.000,0.600 3.283,0.717" fill="none" stroke="#220004" stroke-width="1.6" stroke-linejoin="round" vector-effect="non-scaling-stroke"/>
<polygon points="3.400,2.000 3.283,2.283 3.000,2.400 2.717,2.283 2.600,2.000 2.717,1.717 3.000,1.600 3.283,1.717" fill="#ececec" stroke="#ff3030" stroke-width="2.35" stroke-linejoin="round" vector-effect="non-scaling-stroke"/>
<polygon points="3.400,2.000 3.283,2.283 3.000,2.400 2.717,2.283 2.600,2.000 2.717,1.717 3.000,1.600 3.283,1.717" fill="none" stroke="#220004" stroke-width="1.6" stroke-linejoin="round" vector-effect="non-scaling-stroke"/>
<polygon points="3.400,3.000 3.283,3.283 3.000,3.400 2.717,3.283 2.600,3.000 2.717,2.717 3.000,2.600 3.283,2.717" fill="#ececec" stroke="#ff3030" stroke-width="2.35" stroke-linejoin="round" vector-effect="non-scaling-stroke"/>
<polygon points="3.400,3.000 3.283,3.283 3.000,3.400 2.717,3.283 2.600,3.000 2.717,2.717 3.000,2.600 3.283,2.717" fill="none" stroke="#220004" stroke-width="1.6" stroke-linejoin="round" vector-effect="non-scaling-stroke"/>
<polygon points="3.400,4.000 3.283,4.283 3.000,4.400 2.717,4.283 2.600,4.000 2.717,3.717 3.000,3.600 3.283,3.717" fill="#ececec" stroke="#ff3030" stroke-width="2.35" stroke-linejoin="round" vector-effect="non-scaling-stroke"/>
<polygon points="3.400,4.000 3.283,4.283 3.000,4.400 2.717,4.283 2.600,4.000 2.717,3.717 3.000,3.600 3.283,3.717" fill="none" stroke="#220004" stroke-width="1.6" stroke-linejoin="round" vector-effect="non-scaling-stroke"/>
<polygon points="3.400,5.000 3.283,5.283 3.000,5.400 2.717,5.283 2.600,5.000 2.717,4.717 3.000,4.600 3.283,4.717" fill="#fcfcff" stroke="#4438ff" stroke-width="2.3" stroke-linejoin="round" vector-effect="non-scaling-stroke"/>
<polygon points="3.400,5.000 3.283,5.283 3.000,5.400 2.717,5.283 2.600,5.000 2.717,4.717 3.000,4.600 3.283,4.717" fill="none" stroke="#100014" stroke-width="1.6" stroke-linejoin="round" vector-effect="non-scaling-stroke"/>
<polygon points="3.400,6.000 3.283,6.283 3.000,6.400 2.717,6.283 2.600,6.000 2.717,5.717 3.000,5.600 3.283,5.717" fill="#fcfcff" stroke="#4438ff" stroke-width="2.3" stroke-linejoin="round" vector-effect="non-scaling-stroke"/>
<polygon points="3.400,6.000 3.283,6.283 3.000,6.400 2.717,6.283 2.600,6.000 2.717,5.717 3.000,5.600 3.283,5.717" fill="none" stroke="#100014" stroke-width="1.6" stroke-linejoin="round" vector-effect="non-scaling-stroke"/>
<polygon points="3.400,7.000 3.283,7.283 3.000,7.400 2.717,7.283 2.600,7.000 2.717,6.717 3.000,6.600 3.283,6.717" fill="#fcfcff" stroke="#4438ff" stroke-width="2.3" stroke-linejoin="round" vector-effect="non-scaling-stroke"/>
<polygon points="3.400,7.000 3.283,7.283 3.000,7.400 2.717,7.283 2.600,7.000 2.717,6.717 3.000,6.600 3.283,6.717" fill="none" stroke="#100014" stroke-width="1.6" stroke-linejoin="round" vector-effect="non-scaling-stroke"/>
<polygon points="3.400,8.000 3.283,8.283 3.000,8.400 2.717,8.283 2.600,8.000 2.717,7.717 3.000,7.600 3.283,7.717" fill="#fcfcff" stroke="#4438ff" stroke-width="2.3" stroke-linejoin="round" vector-effect="non-scaling-stroke"/>
<polygon points="3.400,8.000 3.283,8.283 3.000,8.400 2.717,8.283 2.600,8.000 2.717,7.717 3.000,7.600 3.283,7.717" fill="none" stroke="#100014" stroke-width="1.6" stroke-linejoin="round" vector-effect="non-scaling-stroke"/>
<polygon points="4.400,0.000 4.283,0.283 4.000,0.400 3.717,0.283 3.600,0.000 3.717,-0.283 4.000,-0.400 4.283,-0.283" fill="#ececec" stroke="#ff3030" stroke-width="2.35" stroke-linejoin="round" vector-effect="non-scaling-stroke"/>
<polygon points="4.400,0.000 4.283,0.283 4.000,0.400 3.717,0.283 3.600,0.000 3.717,-0.283 4.000,-0.400 4.283,-0.283" fill="none" stroke="#220004" stroke-width="1.6" stroke-linejoin="round" vector-effect="non-scaling-stroke"/>
<polygon points="4.400,1.000 4.283,1.283 4.000,1.400 3.717,1.283 3.600,1.000 3.717,0.717 4.000,0.600 4.283,0.717" fill="#ececec" stroke="#ff3030" stroke-width="2.35" stroke-linejoin="round" vector-effect="non-scaling-stroke"/>
<polygon points="4.400,1.000 4.283,1.283 4.000,1.400 3.717,1.283 3.600,1.000 3.717,0.717 4.000,0.600 4.283,0.717" fill="none" stroke="#220004" stroke-width="1.6" stroke-linejoin="round" vector-effect="non-scaling-stroke"/>
<polygon points="4.400,2.000 4.283,2.283 4.000,2.400 3.717,2.283 3.600,2.000 3.717,1.717 4.000,1.600 4.283,1.717" fill="#ececec" stroke="#ff3030" stroke-width="2.35" stroke-linejoin="round" vector-effect="non-scaling-stroke"/>
<polygon points="4.400,2.000 4.283,2.283 4.000,2.400 3.717,2.283 3.600,2.000 3.717,1.717 4.000,1.600 4.283,1.717" fill="none" stroke="#220004" stroke-width="1.6" stroke-linejoin="round" vector-effect="non-scaling-stroke"/>
<polygon points="4.400,3.000 4.283,3.283 4.000,3.400 3.717,3.283 3.600,3.000 3.717,2.717 4.000,2.600 4.283,2.717" fill="#ececec" stroke="#ff3030" stroke-width="2.35" stroke-linejoin="round" vector-effect="non-scaling-stroke"/>
<polygon points="4.400,3.000 4.283,3.283 4.000,3.400 3.717,3.283 3.600,3.000 3.717,2.717 4.000,2.600 4.283,2.717" fill="none" stroke="#220004" stroke-width="1.6" stroke-linejoin="round" vector-effect="non-scaling-stroke"/>
<polygon points="4.400,4.000 4.283,4.283 4.000,4.400 3.717,4.283 3.600,4.000 3.717,3.717 4.000,3.600 4.283,3.717" fill="#ececec" stroke="#ff3030" stroke-width="2.35" stroke-linejoin="round" vector-effect="non-scaling-stroke"/>
<polygon points="4.400,4.000 4.283,4.283 4.000,4.400 3.717,4.283 3.600,4.000 3.717,3.717 4.000,3.600 4.283,3.717" fill="none" stroke="#220004" stroke-width="1.6" stroke-linejoin="round" vector-effect="non-scaling-stroke"/>
<polygon points="4.400,5.000 4.283,5.283 4.000,5.400 3.717,5.283 3.600,5.000 3.717,4.717 4.000,4.600 4.283,4.717" fill="#fcfcff" stroke="#4438ff" stroke-width="2.3" stroke-linejoin="round" vector-effect="non-scaling-stroke"/>
<polygon points="4.400,5.000 4.283,5.283 4.000,5.400 3.717,5.283 3.600,5.000 3.717,4.717 4.000,4.600 4.283,4.717" fill="none" stroke="#100014" stroke-width="1.6" stroke-linejoin="round" vector-effect="non-scaling-stroke"/>
<polygon points="4.400,6.000 4.283,6.283 4.000,6.400 3.717,6.283 3.600,6.000 3.717,5.717 4.000,5.600 4.283,5.717" fill="#fcfcff" stroke="#4438ff" stroke-width="2.3" stroke-linejoin="round" vector-effect="non-scaling-stroke"/>
<polygon points="4.400,6.000 4.283,6.283 4.000,6.400 3.717,6.283 3.600,6.000 3.717,5.717 4.000,5.600 4.283,5.717" fill="none" stroke="#100014" stroke-width="1.6" stroke-linejoin="round" vector-effect="non-scaling-stroke"/>
<polygon points="4.400,7.000 4.283,7.283 4.000,7.400 3.717,7.283 3.600,7.000 3.717,6.717 4.000,6.600 4.283,6.717" fill="#fcfcff" stroke="#4438ff" stroke-width="2.3" stroke-linejoin="round" vector-effect="non-scaling-stroke"/>
<polygon points="4.400,7.000 4.283,7.283 4.000,7.400 3.717,7.283 3.600,7.000 3.717,6.717 4.000,6.600 4.283,6.717" fill="none" stroke="#100014" stroke-width="1.6" stroke-linejoin="round" vector-effect="non-scaling-stroke"/>
<polygon points="4.400,8.000 4.283,8.283 4.000,8.400 3.717,8.283 3.600,8.000 3.717,7.717 4.000,7.600 4.283,7.717" fill="#fcfcff" stroke="#4438ff" stroke-width="2.3" stroke-linejoin="round" vector-effect="non-scaling-stroke"/>
<polygon points="4.400,8.000 4.283,8.283 4.000,8.400 3.717,8.283 3.600,8.000 3.717,7.717 4.000,7.600 4.283,7.717" fill="none" stroke="#100014" stroke-width="1.6" stroke-linejoin="round" vector-effect="non-scaling-stroke"/>
<polygon points="5.400,0.000 5.283,0.283 5.000,0.400 4.717,0.283 4.600,0.000 4.717,-0.283 5.000,-0.400 5.283,-0.283" fill="#fcfcff" stroke="#4438ff" stroke-width="2.3" stroke-linejoin="round" vector-effect="non-scaling-stroke"/>
<polygon points="5.400,0.000 5.283,0.283 5.000,0.400 4.717,0.283 4.600,0.000 4.717,-0.283 5.000,-0.400 5.283,-0.283" fill="none" stroke="#100014" stroke-width="1.6" stroke-linejoin="round" vector-effect="non-scaling-stroke"/>
<polygon points="5.400,1.000 5.283,1.283 5.000,1.400 4.717,1.283 4.600,1.000 4.717,0.717 5.000,0.600 5.283,0.717" fill="#fcfcff" stroke="#4438ff" stroke-width="2.3" stroke-linejoin="round" vector-effect="non-scaling-stroke"/>
<polygon points="5.400,1.000 5.283,1.283 5.000,1.400 4.717,1.283 4.600,1.000 4.717,0.717 5.000,0.600 5.283,0.717" fill="none" stroke="#100014" stroke-width="1.6" stroke-linejoin="round" vector-effect="non-scaling-stroke"/>
<polygon points="5.400,2.000 5.283,2.283 5.000,2.400 4.717,2.283 4.600,2.000 4.717,1.717 5.000,1.600 5.283,1.717" fill="#fcfcff" stroke="#4438ff" stroke-width="2.3" stroke-linejoin="round" vector-effect="non-scaling-stroke"/>
<polygon points="5.400,2.000 5.283,2.283 5.000,2.400 4.717,2.283 4.600,2.000 4.717,1.717 5.000,1.600 5.283,1.717" fill="none" stroke="#100014" stroke-width="1.6" stroke-linejoin="round" vector-effect="non-scaling-stroke"/>
<polygon points="5.400,3.000 5.283,3.283 5.000,3.400 4.717,3.283 4.600,3.000 4.717,2.717 5.000,2.600 5.283,2.717" fill="#fcfcff" stroke="#4438ff" stroke-width="2.3" stroke-linejoin="round" vector-effect="non-scaling-stroke"/>
<polygon points="5.400,3.000 5.283,3.283 5.000,3.400 4.717,3.283 4.600,3.000 4.717,2.717 5.000,2.600 5.283,2.717" fill="none" stroke="#100014" stroke-width="1.6" stroke-linejoin="round" vector-effect="non-scaling-stroke"/>
<polygon points="5.400,4.000 5.283,4.283 5.000,4.400 4.717,4.283 4.600,4.000 4.717,3.717 5.000,3.600 5.283,3.717" fill="#fcfcff" stroke="#4438ff" stroke-width="2.3" stroke-linejoin="round" vector-effect="non-scaling-stroke"/>
<polygon points="5.400,4.000 5.283,4.283 5.000,4.400 4.717,4.283 4.600,4.000 4.717,3.717 5.000,3.600 5.283,3.717" fill="none" stroke="#100014" stroke-width="1.6" stroke-linejoin="round" vector-effect="non-scaling-stroke"/>
<polygon points="5.400,5.000 5.283,5.283 5.000,5.400 4.717,5.283 4.600,5.000 4.717,4.717 5.000,4.600 5.283,4.717" fill="#ececec" stroke="#ff3030" stroke-width="2.35" stroke-linejoin="round" vector-effect="non-scaling-stroke"/>
<polygon points="5.400,5.000 5.283,5.283 5.000,5.400 4.717,5.283 4.600,5.000 4.717,4.717 5.000,4.600 5.283,4.717" fill="none" stroke="#220004" stroke-width="1.6" stroke-linejoin="round" vector-effect="non-scaling-stroke"/>
<polygon points="5.400,6.000 5.283,6.283 5.000,6.400 4.717,6.283 4.600,6.000 4.717,5.717 5.000,5.600 5.283,5.717" fill="#ececec" stroke="#ff3030" stroke-width="2.35" stroke-linejoin="round" vector-effect="non-scaling-stroke"/>
<polygon points="5.400,6.000 5.283,6.283 5.000,6.400 4.717,6.283 4.600,6.000 4.717,5.717 5.000,5.600 5.283,5.717" fill="none" stroke="#220004" stroke-width="1.6" stroke-linejoin="round" vector-effect="non-scaling-stroke"/>
<polygon points="5.400,7.000 5.283,7.283 5.000,7.400 4.717,7.283 4.600,7.000 4.717,6.717 5.000,6.600 5.283,6.717" fill="#ececec" stroke="#ff3030" stroke-width="2.35" stroke-linejoin="round" vector-effect="non-scaling-stroke"/>
<polygon points="5.400,7.000 5.283,7.283 5.000,7.400 4.717,7.283 4.600,7.000 4.717,6.717 5.000,6.600 5.283,6.717" fill="none" stroke="#220004" stroke-width="1.6" stroke-linejoin="round" vector-effect="non-scaling-stroke"/>
<polygon points="5.400,8.000 5.283,8.283 5.000,8.400 4.717,8.283 4.600,8.000 4.717,7.717 5.000,7.600 5.283,7.717" fill="#ececec" stroke="#ff3030" stroke-width="2.35" stroke-linejoin="round" vector-effect="non-scaling-stroke"/>
<polygon points="5.400,8.000 5.283,8.283 5.000,8.400 4.717,8.283 4.600,8.000 4.717,7.717 5.000,7.600 5.283,7.717" fill="none" stroke="#220004" stroke-width="1.6" stroke-linejoin="round" vector-effect="non-scaling-stroke"/>
<polygon points="6.400,0.000 6.283,0.283 6.000,0.400 5.717,0.283 5.600,0.000 5.717,-0.283 6.000,-0.400 6.283,-0.283" fill="#fcfcff" stroke="#4438ff" stroke-width="2.3" stroke-linejoin="round" vector-effect="non-scaling-stroke"/>
<polygon points="6.400,0.000 6.283,0.283 6.000,0.400 5.717,0.283 5.600,0.000 5.717,-0.283 6.000,-0.400 6.283,-0.283" fill="none" stroke="#100014" stroke-width="1.6" stroke-linejoin="round" vector-effect="non-scaling-stroke"/>
<polygon points="6.400,1.000 6.283,1.283 6.000,1.400 5.717,1.283 5.600,1.000 5.717,0.717 6.000,0.600 6.283,0.717" fill="#fcfcff" stroke="#4438ff" stroke-width="2.3" stroke-linejoin="round" vector-effect="non-scaling-stroke"/>
<polygon points="6.400,1.000 6.283,1.283 6.000,1.400 5.717,1.283 5.600,1.000 5.717,0.717 6.000,0.600 6.283,0.717" fill="none" stroke="#100014" stroke-width="1.6" stroke-linejoin="round" vector-effect="non-scaling-stroke"/>
<polygon points="6.400,2.000 6.283,2.283 6.000,2.400 5.717,2.283 5.600,2.000 5.717,1.717 6.000,1.600 6.283,1.717" fill="#fcfcff" stroke="#4438ff" stroke-width="2.3" stroke-linejoin="round" vector-effect="non-scaling-stroke"/>
<polygon points="6.400,2.000 6.283,2.283 6.000,2.400 5.717,2.283 5.600,2.000 5.717,1.717 6.000,1.600 6.283,1.717" fill="none" stroke="#100014" stroke-width="1.6" stroke-linejoin="round" vector-effect="non-scaling-stroke"/>
<polygon points="6.400,3.000 6.283,3.283 6.000,3.400 5.717,3.283 5.600,3.000 5.717,2.717 6.000,2.600 6.283,2.717" fill="#fcfcff" stroke="#4438ff" stroke-width="2.3" stroke-linejoin="round" vector-effect="non-scaling-stroke"/>
<polygon points="6.400,3.000 6.283,3.283 6.000,3.400 5.717,3.283 5.600,3.000 5.717,2.717 6.000,2.600 6.283,2.717" fill="none" stroke="#100014" stroke-width="1.6" stroke-linejoin="round" vector-effect="non-scaling-stroke"/>
<polygon points="6.400,4.000 6.283,4.283 6.000,4.400 5.717,4.283 5.600,4.000 5.717,3.717 6.000,3.600 6.283,3.717" fill="#fcfcff" stroke="#4438ff" stroke-width="2.3" stroke-linejoin="round" vector-effect="non-scaling-stroke"/>
<polygon points="6.400,4.000 6.283,4.283 6.000,4.400 5.717,4.283 5.600,4.000 5.717,3.717 6.000,3.600 6.283,3.717" fill="none" stroke="#100014" stroke-width="1.6" stroke-linejoin="round" vector-effect="non-scaling-stroke"/>
<polygon points="6.400,5.000 6.283,5.283 6.000,5.400 5.717,5.283 5.600,5.000 5.717,4.717 6.000,4.600 6.283,4.717" fill="#ececec" stroke="#ff3030" stroke-width="2.35" stroke-linejoin="round" vector-effect="non-scaling-stroke"/>
<polygon points="6.400,5.000 6.283,5.283 6.000,5.400 5.717,5.283 5.600,5.000 5.717,4.717 6.000,4.600 6.283,4.717" fill="none" stroke="#220004" stroke-width="1.6" stroke-linejoin="round" vector-effect="non-scaling-stroke"/>
<polygon points="6.400,6.000 6.283,6.283 6.000,6.400 5.717,6.283 5.600,6.000 5.717,5.717 6.000,5.600 6.283,5.717" fill="#ececec" stroke="#ff3030" stroke-width="2.35" stroke-linejoin="round" vector-effect="non-scaling-stroke"/>
<polygon points="6.400,6.000 6.283,6.283 6.000,6.400 5.717,6.283 5.600,6.000 5.717,5.717 6.000,5.600 6.283,5.717" fill="none" stroke="#220004" stroke-width="1.6" stroke-linejoin="round" vector-effect="non-scaling-stroke"/>
<polygon points="6.400,7.000 6.283,7.283 6.000,7.400 5.717,7.283 5.600,7.000 5.717,6.717 6.000,6.600 6.283,6.717" fill="#ececec" stroke="#ff3030" stroke-width="2.35" stroke-linejoin="round" vector-effect="non-scaling-stroke"/>
<polygon points="6.400,7.000 6.283,7.283 6.000,7.400 5.717,7.283 5.600,7.000 5.717,6.717 6.000,6.600 6.283,6.717" fill="none" stroke="#220004" stroke-width="1.6" stroke-linejoin="round" vector-effect="non-scaling-stroke"/>
<polygon points="6.400,8.000 6.283,8.283 6.000,8.400 5.717,8.283 5.600,8.000 5.717,7.717 6.000,7.600 6.283,7.717" fill="#ececec" stroke="#ff3030" stroke-width="2.35" stroke-linejoin="round" vector-effect="non-scaling-stroke"/>
<polygon points="6.400,8.000 6.283,8.283 6.000,8.400 5.717,8.283 5.600,8.000 5.717,7.717 6.000,7.600 6.283,7.717" fill="none" stroke="#220004" stroke-width="1.6" stroke-linejoin="round" vector-effect="non-scaling-stroke"/>
<polygon points="7.400,0.000 7.283,0.283 7.000,0.400 6.717,0.283 6.600,0.000 6.717,-0.283 7.000,-0.400 7.283,-0.283" fill="#fcfcff" stroke="#4438ff" stroke-width="2.3" stroke-linejoin="round" vector-effect="non-scaling-stroke"/>
<polygon points="7.400,0.000 7.283,0.283 7.000,0.400 6.717,0.283 6.600,0.000 6.717,-0.283 7.000,-0.400 7.283,-0.283" fill="none" stroke="#100014" stroke-width="1.6" stroke-linejoin="round" vector-effect="non-scaling-stroke"/>
<polygon points="7.400,1.000 7.283,1.283 7.000,1.400 6.717,1.283 6.600,1.000 6.717,0.717 7.000,0.600 7.283,0.717" fill="#fcfcff" stroke="#4438ff" stroke-width="2.3" stroke-linejoin="round" vector-effect="non-scaling-stroke"/>
<polygon points="7.400,1.000 7.283,1.283 7.000,1.400 6.717,1.283 6.600,1.000 6.717,0.717 7.000,0.600 7.283,0.717" fill="none" stroke="#100014" stroke-width="1.6" stroke-linejoin="round" vector-effect="non-scaling-stroke"/>
<polygon points="7.400,2.000 7.283,2.283 7.000,2.400 6.717,2.283 6.600,2.000 6.717,1.717 7.000,1.600 7.283,1.717" fill="#fcfcff" stroke="#4438ff" stroke-width="2.3" stroke-linejoin="round" vector-effect="non-scaling-stroke"/>
<polygon points="7.400,2.000 7.283,2.283 7.000,2.400 6.717,2.283 6.600,2.000 6.717,1.717 7.000,1.600 7.283,1.717" fill="none" stroke="#100014" stroke-width="1.6" stroke-linejoin="round" vector-effect="non-scaling-stroke"/>
<polygon points="7.400,3.000 7.283,3.283 7.000,3.400 6.717,3.283 6.600,3.000 6.717,2.717 7.000,2.600 7.283,2.717" fill="#fcfcff" stroke="#4438ff" stroke-width="2.3" stroke-linejoin="round" vector-effect="non-scaling-stroke"/>
<polygon points="7.400,3.000 7.283,3.283 7.000,3.400 6.717,3.283 6.600,3.000 6.717,2.717 7.000,2.600 7.283,2.717" fill="none" stroke="#100014" stroke-width="1.6" stroke-linejoin="round" vector-effect="non-scaling-stroke"/>
<polygon points="7.400,4.000 7.283,4.283 7.000,4.400 6.717,4.283 6.600,4.000 6.717,3.717 7.000,3.600 7.283,3.717" fill="#fcfcff" stroke="#4438ff" stroke-width="2.3" stroke-linejoin="round" vector-effect="non-scaling-stroke"/>
<polygon points="7.400,4.000 7.283,4.283 7.000,4.400 6.717,4.283 6.600,4.000 6.717,3.717 7.000,3.600 7.283,3.717" fill="none" stroke="#100014" stroke-width="1.6" stroke-linejoin="round" vector-effect="non-scaling-stroke"/>
<polygon points="7.400,5.000 7.283,5.283 7.000,5.400 6.717,5.283 6.600,5.000 6.717,4.717 7.000,4.600 7.283,4.717" fill="#ececec" stroke="#ff3030" stroke-width="3.45" stroke-linejoin="round" vector-effect="non-scaling-stroke"/>
<polygon points="7.400,5.000 7.283,5.283 7.000,5.400 6.717,5.283 6.600,5.000 6.717,4.717 7.000,4.600 7.283,4.717" fill="none" stroke="#220004" stroke-width="2.7" stroke-linejoin="round" vector-effect="non-scaling-stroke"/>
<polygon points="7.400,6.000 7.283,6.283 7.000,6.400 6.717,6.283 6.600,6.000 6.717,5.717 7.000,5.600 7.283,5.717" fill="#ececec" stroke="#ff3030" stroke-width="2.35" stroke-linejoin="round" vector-effect="non-scaling-stroke"/>
<polygon points="7.400,6.000 7.283,6.283 7.000,6.400 6.717,6.283 6.600,6.000 6.717,5.717 7.000,5.600 7.283,5.717" fill="none" stroke="#220004" stroke-width="1.6" stroke-linejoin="round" vector-effect="non-scaling-stroke"/>
<polygon points="7.400,7.000 7.283,7.283 7.000,7.400 6.717,7.283 6.600,7.000 6.717,6.717 7.000,6.600 7.283,6.717" fill="#ececec" stroke="#ff3030" stroke-width="2.35" stroke-linejoin="round" vector-effect="non-scaling-stroke"/>
<polygon points="7.400,7.000 7.283,7.283 7.000,7.400 6.717,7.283 6.600,7.000 6.717,6.717 7.000,6.600 7.283,6.717" fill="none" stroke="#220004" stroke-width="1.6" stroke-linejoin="round" vector-effect="non-scaling-stroke"/>
<polygon points="7.400,8.000 7.283,8.283 7.000,8.400 6.717,8.283 6.600,8.000 6.717,7.717 7.000,7.600 7.283,7.717" fill="#ececec" stroke="#ff3030" stroke-width="2.35" stroke-linejoin="round" vector-effect="non-scaling-stroke"/>
<polygon points="7.400,8.000 7.283,8.283 7.000,8.400 6.717,8.283 6.600,8.000 6.717,7.717 7.000,7.600 7.283,7.717" fill="none" stroke="#220004" stroke-width="1.6" stroke-linejoin="round" vector-effect="non-scaling-stroke"/>
<polygon points="8.400,0.000 8.283,0.283 8.000,0.400 7.717,0.283 7.600,0.000 7.717,-0.283 8.000,-0.400 8.283,-0.283" fill="#fcfcff" stroke="#4438ff" stroke-width="2.3" stroke-linejoin="round" vector-effect="non-scaling-stroke"/>
<polygon points="8.400,0.000 8.283,0.283 8.000,0.400 7.717,0.283 7.600,0.000 7.717,-0.283 8.000,-0.400 8.283,-0.283" fill="none" stroke="#100014" stroke-width="1.6" stroke-linejoin="round" vector-effect="non-scaling-stroke"/>
<polygon points="8.400,1.000 8.283,1.283 8.000,1.400 7.717,1.283 7.600,1.000 7.717,0.717 8.000,0.600 8.283,0.717" fill="#fcfcff" stroke="#4438ff" stroke-width="2.3" stroke-linejoin="round" vector-effect="non-scaling-stroke"/>
<polygon points="8.400,1.000 8.283,1.283 8.000,1.400 7.717,1.283 7.600,1.000 7.717,0.717 8.000,0.600 8.283,0.717" fill="none" stroke="#100014" stroke-width="1.6" stroke-linejoin="round" vector-effect="non-scaling-stroke"/>
<polygon points="8.400,2.000 8.283,2.283 8.000,2.400 7.717,2.283 7.600,2.000 7.717,1.717 8.000,1.600 8.283,1.717" fill="#fcfcff" stroke="#4438ff" stroke-width="2.3" stroke-linejoin="round" vector-effect="non-scaling-stroke"/>
<polygon points="8.400,2.000 8.283,2.283 8.000,2.400 7.717,2.283 7.600,2.000 7.717,1.717 8.000,1.600 8.283,1.717" fill="none" stroke="#100014" stroke-width="1.6" stroke-linejoin="round" vector-effect="non-scaling-stroke"/>
<polygon points="8.400,3.000 8.283,3.283 8.000,3.400 7.717,3.283 7.600,3.000 7.717,2.717 8.000,2.600 8.283,2.717" fill="#fcfcff" stroke="#4438ff" stroke-width="2.3" stroke-linejoin="round" vector-effect="non-scaling-stroke"/>
<polygon points="8.400,3.000 8.283,3.283 8.000,3.400 7.717,3.283 7.600,3.000 7.717,2.717 8.000,2.600 8.283,2.717" fill="none" stroke="#100014" stroke-width="1.6" stroke-linejoin="round" vector-effect="non-scaling-stroke"/>
<polygon points="8.400,4.000 8.283,4.283 8.000,4.400 7.717,4.283 7.600,4.000 7.717,3.717 8.000,3.600 8.283,3.717" fill="#fcfcff" stroke="#4438ff" stroke-width="2.3" stroke-linejoin="round" vector-effect="non-scaling-stroke"/>
<polygon points="8.400,4.000 8.283,4.283 8.000,4.400 7.717,4.283 7.600,4.000 7.717,3.717 8.000,3.600 8.283,3.717" fill="none" stroke="#100014" stroke-width="1.6" stroke-linejoin="round" vector-effect="non-scaling-stroke"/>
<polygon points="8.400,5.000 8.283,5.283 8.000,5.400 7.717,5.283 7.600,5.000 7.717,4.717 8.000,4.600 8.283,4.717" fill="#ececec" stroke="#ff3030" stroke-width="2.35" stroke-linejoin="round" vector-effect="non-scaling-stroke"/>
<polygon points="8.400,5.000 8.283,5.283 8.000,5.400 7.717,5.283 7.600,5.000 7.717,4.717 8.000,4.600 8.283,4.717" fill="none" stroke="#220004" stroke-width="1.6" stroke-linejoin="round" vector-effect="non-scaling-stroke"/>
<polygon points="8.400,6.000 8.283,6.283 8.000,6.400 7.717,6.283 7.600,6.000 7.717,5.717 8.000,5.600 8.283,5.717" fill="#ececec" stroke="#ff3030" stroke-width="2.35" stroke-linejoin="round" vector-effect="non-scaling-stroke"/>
<polygon points="8.400,6.000 8.283,6.283 8.000,6.400 7.717,6.283 7.600,6.000 7.717,5.717 8.000,5.600 8.283,5.717" fill="none" stroke="#220004" stroke-width="1.6" stroke-linejoin="round" vector-effect="non-scaling-stroke"/>
<polygon points="8.400,7.000 8.283,7.283 8.000,7.400 7.717,7.283 7.600,7.000 7.717,6.717 8.000,6.600 8.283,6.717" fill="#ececec" stroke="#ff3030" stroke-width="2.35" stroke-linejoin="round" vector-effect="non-scaling-stroke"/>
<polygon points="8.400,7.000 8.283,7.283 8.000,7.400 7.717,7.283 7.600,7.000 7.717,6.717 8.000,6.600 8.283,6.717" fill="none" stroke="#220004" stroke-width="1.6" stroke-linejoin="round" vector-effect="non-scaling-stroke"/>
<polygon points="8.400,8.000 8.283,8.283 8.000,8.400 7.717,8.283 7.600,8.000 7.717,7.717 8.000,7.600 8.283,7.717" fill="#ececec" stroke="#ff3030" stroke-width="2.35" stroke-linejoin="round" vector-effect="non-scaling-stroke"/>
<polygon points="8.400,8.000 8.283,8.283 8.000,8.400 7.717,8.283 7.600,8.000 7.717,7.717 8.000,7.600 8.283,7.717" fill="none" stroke="#220004" stroke-width="1.6" stroke-linejoin="round" vector-effect="non-scaling-stroke"/>
</g></g>
<polyline points="762.5,509.5 865.7,566.2 1004.3,524.1" fill="none" stroke="#222" stroke-width="1.2"/>
<line x1="814.1" y1="537.9" x2="811.9" y2="540.5" stroke="#222" stroke-width="1"/>
<line x1="935.0" y1="545.2" x2="936.5" y2="548.2" stroke="#222" stroke-width="1"/>
<g transform="matrix(17.33,-5.26,12.9,7.09,844.72,495.55)"><circle r="0.475" fill="#300000"/></g>
<rect x="834.46" y="493.95" width="20.52" height="1.60" fill="#3a0000"/>
<g transform="matrix(17.33,-5.26,12.9,7.09,844.72,493.95)"><circle r="0.475" fill="#3a0000"/></g>
<ellipse cx="844.72" cy="493.65" rx="4.54" ry="1.13" fill="#f4f4f4"/>
<g transform="matrix(17.33,-5.26,12.9,7.09,870.52,509.73)"><circle r="0.475" fill="#350000"/></g>
<rect x="860.26" y="504.73" width="20.52" height="5.00" fill="url(#cyl)"/>
<g transform="matrix(17.33,-5.26,12.9,7.09,870.52,504.73)"><circle r="0.475" fill="#d4d4d4"/></g>
<ellipse cx="870.52" cy="504.23" rx="5.83" ry="2.10" fill="#5a0000"/>
<g transform="matrix(17.33,-5.26,12.9,7.09,900.75,511.56)"><circle r="0.475" fill="#350000"/></g>
<rect x="890.49" y="499.56" width="20.52" height="12.00" fill="url(#cyl)"/>
<g transform="matrix(17.33,-5.26,12.9,7.09,900.75,499.56)"><circle r="0.475" fill="#d4d4d4"/></g>
<ellipse cx="900.75" cy="499.06" rx="5.83" ry="2.10" fill="#5a0000"/>
<g transform="matrix(17.33,-5.26,12.9,7.09,883.42,516.82)"><circle r="0.475" fill="#440000"/></g>
<rect x="873.16" y="370.82" width="20.52" height="146.00" fill="url(#hot)"/>
<g transform="matrix(17.33,-5.26,12.9,7.09,883.42,370.82)"><circle r="0.475" fill="#c9c9c9"/></g>
<ellipse cx="883.42" cy="370.82" rx="4.75" ry="1.95" fill="#f4f428"/>
<g transform="matrix(17.33,-5.26,12.9,7.09,913.65,518.65)"><circle r="0.475" fill="#350000"/></g>
<rect x="903.39" y="511.65" width="20.52" height="7.00" fill="url(#cyl)"/>
<g transform="matrix(17.33,-5.26,12.9,7.09,913.65,511.65)"><circle r="0.475" fill="#d4d4d4"/></g>
<ellipse cx="913.65" cy="511.15" rx="5.83" ry="2.10" fill="#5a0000"/>
<g transform="matrix(17.33,-5.26,12.9,7.09,866.09,522.08)"><circle r="0.475" fill="#300000"/></g>
<rect x="855.83" y="518.08" width="20.52" height="4.00" fill="#3a0000"/>
<g transform="matrix(17.33,-5.26,12.9,7.09,866.09,518.08)"><circle r="0.475" fill="#3a0000"/></g>
<ellipse cx="866.09" cy="517.78" rx="4.54" ry="1.13" fill="#f4f4f4"/>
<g transform="matrix(17.33,-5.26,12.9,7.09,896.32,523.91)"><circle r="0.475" fill="#350000"/></g>
<rect x="886.06" y="503.51" width="20.52" height="20.40" fill="url(#cyl)"/>
<g transform="matrix(17.33,-5.26,12.9,7.09,896.32,503.51)"><circle r="0.475" fill="#d4d4d4"/></g>
<ellipse cx="896.32" cy="503.01" rx="5.83" ry="2.10" fill="#5a0000"/>
<g transform="matrix(17.33,-5.26,12.9,7.09,831.43,532.60)"><circle r="0.475" fill="#300000"/></g>
<rect x="821.17" y="530.60" width="20.52" height="2.00" fill="#3a0000"/>
<g transform="matrix(17.33,-5.26,12.9,7.09,831.43,530.60)"><circle r="0.475" fill="#3a0000"/></g>
<ellipse cx="831.43" cy="530.30" rx="4.54" ry="1.13" fill="#f4f4f4"/>
<text x="763.39" y="573.90" font-family="Liberation Sans" font-size="29.36" textLength="35.51" lengthAdjust="spacingAndGlyphs" fill="#1a1a1a">22</text>
<text x="949.17" y="583.21" font-family="Liberation Sans" font-size="29.38" textLength="33.93" lengthAdjust="spacingAndGlyphs" fill="#1a1a1a">20</text>
<text x="784.91" y="332.53" font-family="Liberation Serif" font-style="italic" font-size="27.45" textLength="12.91" lengthAdjust="spacingAndGlyphs" fill="#000">c</text>
<circle cx="802.60" cy="331.20" r="1.55" fill="#000"/>
<text x="816.96" y="332.10" font-family="Liberation Serif" font-style="italic" font-size="30.55" textLength="18.89" lengthAdjust="spacingAndGlyphs" fill="#000" stroke="#fff" stroke-width="0.45">ϕ</text>
<text x="837.36" y="336.78" font-family="Liberation Serif" font-style="italic" font-size="19.56" textLength="8.83" lengthAdjust="spacingAndGlyphs" fill="#000">y</text>
<line x1="850.30" y1="339.30" x2="861.10" y2="310.20" stroke="#000" stroke-width="1.25"/>
<text x="863.36" y="332.10" font-family="Liberation Serif" font-style="italic" font-size="30.55" textLength="18.89" lengthAdjust="spacingAndGlyphs" fill="#000" stroke="#fff" stroke-width="0.45">ϕ</text>
<text x="882.69" y="336.60" font-family="Liberation Serif" font-style="italic" font-size="19.17" textLength="10.48" lengthAdjust="spacingAndGlyphs" fill="#000">x</text>
<g stroke="#000" stroke-width="1.6"><line x1="905.30" y1="321.50" x2="926.00" y2="321.50"/><line x1="905.30" y1="328.10" x2="926.00" y2="328.10"/></g>
<text x="935.88" y="332.40" font-family="Liberation Serif" font-size="29.54" textLength="14.91" lengthAdjust="spacingAndGlyphs" fill="#000" stroke="#000" stroke-width="0.25">1</text>
<line x1="953.00" y1="339.50" x2="964.70" y2="310.20" stroke="#000" stroke-width="1.25"/>
<text x="966.10" y="332.71" font-family="Liberation Serif" font-size="30.10" textLength="14.65" lengthAdjust="spacingAndGlyphs" fill="#000" stroke="#000" stroke-width="0.25">5</text>
<rect x="1038.1" y="178.5" width="19.4" height="238.5" fill="url(#cbar)" stroke="#111" stroke-width="1.2"/>
<text x="1018.17" y="166.71" font-family="Liberation Sans" font-size="29.94" textLength="57.86" lengthAdjust="spacingAndGlyphs" fill="#111">max</text>
<text x="1022.34" y="448.10" font-family="Liberation Sans" font-size="30.78" textLength="50.08" lengthAdjust="spacingAndGlyphs" fill="#111">min</text></svg></body></html>
